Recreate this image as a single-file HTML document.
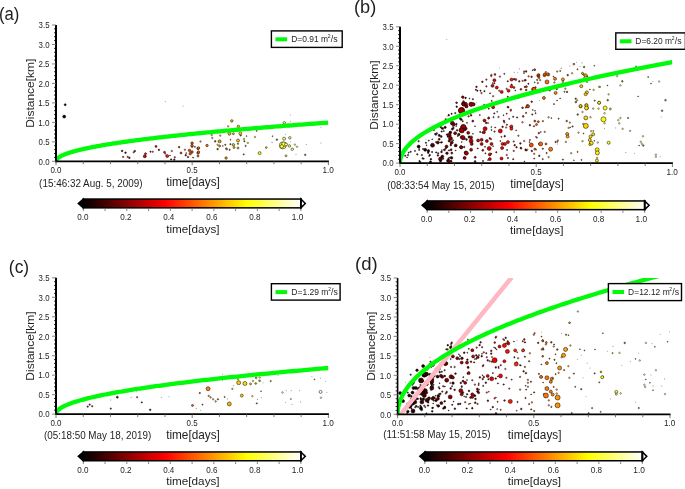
<!DOCTYPE html>
<html><head><meta charset="utf-8"><style>html,body{margin:0;padding:0;background:#fff;width:685px;height:489px;overflow:hidden}svg{display:block}text{font-family:"Liberation Sans",sans-serif}svg{will-change:transform}</style></head>
<body><svg width="685" height="489" viewBox="0 0 685 489"><defs><linearGradient id="hot" x1="0" x2="1" y1="0" y2="0"><stop offset="0" stop-color="#000"/><stop offset="0.375" stop-color="#f00"/><stop offset="0.75" stop-color="#ff0"/><stop offset="1" stop-color="#fff"/></linearGradient><clipPath id="clipa"><rect x="56" y="25.00" width="272.4" height="136.3"/></clipPath><clipPath id="clipb"><rect x="400" y="26.80" width="272.4" height="136.3"/></clipPath><clipPath id="clipc"><rect x="56" y="277.80" width="272.4" height="136.3"/></clipPath><clipPath id="clipd"><rect x="397.6" y="278.00" width="272.4" height="136.3"/></clipPath></defs><rect width="685" height="489" fill="#fff"/>
<text transform="translate(-1.00,20.12) scale(0.1673,0.1798)" font-size="100" fill="#1e1e1e">(a)</text>
<g clip-path="url(#clipa)">
<circle cx="122.1" cy="150.9" r="0.85" fill="#5a0000" stroke="#000" stroke-width="0.4"/>
<circle cx="179.1" cy="147.1" r="0.85" fill="#8c1c00" stroke="#000" stroke-width="0.4"/>
<circle cx="188.0" cy="157.0" r="0.85" fill="#8c2800" stroke="#000" stroke-width="0.4"/>
<circle cx="150.5" cy="151.7" r="0.7" fill="#810000" stroke="#000" stroke-width="0.4"/>
<circle cx="194.9" cy="146.8" r="0.6" fill="#8c3200" stroke="#000" stroke-width="0.4"/>
<circle cx="174.8" cy="157.3" r="0.7" fill="#8c1700" stroke="#000" stroke-width="0.4"/>
<circle cx="185.7" cy="155.2" r="0.85" fill="#8c2500" stroke="#000" stroke-width="0.4"/>
<circle cx="171.2" cy="159.5" r="0.6" fill="#8c1200" stroke="#000" stroke-width="0.4"/>
<circle cx="158.9" cy="149.8" r="0.85" fill="#8c0100" stroke="#000" stroke-width="0.4"/>
<circle cx="171.0" cy="159.3" r="0.5" fill="#8c1100" stroke="#000" stroke-width="0.4"/>
<circle cx="125.5" cy="152.7" r="0.85" fill="#5f0000" stroke="#000" stroke-width="0.4"/>
<circle cx="170.0" cy="155.6" r="0.5" fill="#8c1000" stroke="#000" stroke-width="0.4"/>
<circle cx="174.3" cy="159.6" r="0.85" fill="#8c1600" stroke="#000" stroke-width="0.4"/>
<circle cx="134.8" cy="151.0" r="0.85" fill="#6c0000" stroke="#000" stroke-width="0.4"/>
<circle cx="193.1" cy="157.6" r="0.6" fill="#8c2f00" stroke="#000" stroke-width="0.4"/>
<circle cx="186.2" cy="153.1" r="0.5" fill="#8c2600" stroke="#000" stroke-width="0.4"/>
<circle cx="165.2" cy="153.8" r="0.5" fill="#8c0900" stroke="#000" stroke-width="0.4"/>
<circle cx="129.4" cy="157.8" r="0.85" fill="#640000" stroke="#000" stroke-width="0.4"/>
<circle cx="244.4" cy="141.2" r="0.7" fill="#8c7600" stroke="#000" stroke-width="0.4"/>
<circle cx="240.7" cy="135.5" r="0.7" fill="#8c7100" stroke="#000" stroke-width="0.4"/>
<circle cx="225.3" cy="144.8" r="0.7" fill="#8c5c00" stroke="#000" stroke-width="0.4"/>
<circle cx="226.4" cy="148.6" r="0.85" fill="#8c5d00" stroke="#000" stroke-width="0.4"/>
<circle cx="245.6" cy="145.9" r="0.7" fill="#8c7700" stroke="#000" stroke-width="0.4"/>
<circle cx="230.4" cy="144.2" r="0.7" fill="#8c6300" stroke="#000" stroke-width="0.4"/>
<circle cx="222.8" cy="145.9" r="0.5" fill="#8c5800" stroke="#000" stroke-width="0.4"/>
<circle cx="217.6" cy="149.1" r="0.85" fill="#8c5100" stroke="#000" stroke-width="0.4"/>
<circle cx="215.2" cy="141.3" r="0.85" fill="#8c4e00" stroke="#000" stroke-width="0.4"/>
<circle cx="230.5" cy="139.8" r="0.5" fill="#8c6300" stroke="#000" stroke-width="0.4"/>
<circle cx="246.6" cy="136.1" r="0.5" fill="#8c7900" stroke="#000" stroke-width="0.4"/>
<circle cx="238.0" cy="143.8" r="0.7" fill="#8c6d00" stroke="#000" stroke-width="0.4"/>
<circle cx="229.6" cy="149.8" r="0.7" fill="#8c6100" stroke="#000" stroke-width="0.4"/>
<circle cx="243.7" cy="154.4" r="0.7" fill="#8c7500" stroke="#000" stroke-width="0.4"/>
<circle cx="276.9" cy="139.6" r="0.85" fill="#8c8c22" stroke="#000" stroke-width="0.4"/>
<circle cx="305.2" cy="154.8" r="0.85" fill="#8c8c5c" stroke="#000" stroke-width="0.4"/>
<circle cx="256.6" cy="130.9" r="0.6" fill="#8c8700" stroke="#000" stroke-width="0.4"/>
<circle cx="272.5" cy="136.2" r="0.5" fill="#8c8c19" stroke="#000" stroke-width="0.4"/>
<circle cx="65.2" cy="104.7" r="1.00" fill="#170000" stroke="#000" stroke-width="0.5"/>
<circle cx="64.2" cy="116.6" r="1.50" fill="#140000" stroke="#000" stroke-width="0.5"/>
<circle cx="165.3" cy="101.6" r="0.55" fill="#555" opacity="0.6"/>
<circle cx="183" cy="106" r="0.55" fill="#555" opacity="0.6"/>
<circle cx="123.1" cy="156.9" r="0.8" fill="#a80000" stroke="#000" stroke-width="0.45" opacity="0.85"/>
<circle cx="127.7" cy="156.9" r="0.8" fill="#b30000" stroke="#000" stroke-width="0.45" opacity="0.85"/>
<circle cx="133.7" cy="152.3" r="0.8" fill="#c20000" stroke="#000" stroke-width="0.45" opacity="0.85"/>
<circle cx="144.8" cy="156.3" r="1.50" fill="#de0000" stroke="#000" stroke-width="0.5"/>
<circle cx="145.5" cy="153.7" r="1.00" fill="#df0000" stroke="#000" stroke-width="0.5"/>
<circle cx="152.7" cy="151.7" r="0.8" fill="#f10000" stroke="#000" stroke-width="0.45" opacity="0.85"/>
<circle cx="156" cy="146.4" r="1.00" fill="#fa0000" stroke="#000" stroke-width="0.5"/>
<circle cx="164.5" cy="152.3" r="1.00" fill="#ff1000" stroke="#000" stroke-width="0.5"/>
<circle cx="167.2" cy="156" r="1.50" fill="#ff1700" stroke="#000" stroke-width="0.5"/>
<circle cx="171.8" cy="151" r="0.8" fill="#ff2200" stroke="#000" stroke-width="0.45" opacity="0.85"/>
<circle cx="181" cy="153" r="1.00" fill="#ff3900" stroke="#000" stroke-width="0.5"/>
<circle cx="184.9" cy="149.7" r="0.8" fill="#ff4300" stroke="#000" stroke-width="0.45" opacity="0.85"/>
<circle cx="189.5" cy="150.4" r="1.25" fill="#ff4e00" stroke="#000" stroke-width="0.5"/>
<circle cx="190.2" cy="153.7" r="1.25" fill="#ff5000" stroke="#000" stroke-width="0.5"/>
<circle cx="192.1" cy="143.1" r="1.25" fill="#ff5500" stroke="#000" stroke-width="0.5"/>
<circle cx="192.1" cy="146.4" r="1.00" fill="#ff5500" stroke="#000" stroke-width="0.5"/>
<circle cx="198" cy="148.4" r="1.25" fill="#ff6300" stroke="#000" stroke-width="0.5"/>
<circle cx="198" cy="153" r="1.25" fill="#ff6300" stroke="#000" stroke-width="0.5"/>
<circle cx="192" cy="145.5" r="1.25" fill="#ff5500" stroke="#000" stroke-width="0.5"/>
<circle cx="192" cy="152" r="1.25" fill="#ff5500" stroke="#000" stroke-width="0.5"/>
<circle cx="198.5" cy="148" r="1.25" fill="#ff6500" stroke="#000" stroke-width="0.5"/>
<circle cx="198.5" cy="152" r="1.25" fill="#ff6500" stroke="#000" stroke-width="0.5"/>
<circle cx="198" cy="156" r="1.00" fill="#ff6300" stroke="#000" stroke-width="0.5"/>
<circle cx="200.5" cy="141.5" r="0.8" fill="#ff6a00" stroke="#000" stroke-width="0.45" opacity="0.85"/>
<circle cx="207" cy="145.5" r="1.25" fill="#ff7a00" stroke="#000" stroke-width="0.5"/>
<circle cx="211.7" cy="135" r="0.8" fill="#ff8600" stroke="#000" stroke-width="0.45" opacity="0.85"/>
<circle cx="212.3" cy="138" r="0.8" fill="#ff8700" stroke="#000" stroke-width="0.45" opacity="0.85"/>
<circle cx="219.6" cy="141.3" r="1.50" fill="#ff9900" stroke="#000" stroke-width="0.5"/>
<circle cx="219.6" cy="146" r="1.00" fill="#ff9900" stroke="#000" stroke-width="0.5"/>
<circle cx="217.6" cy="144.8" r="0.8" fill="#ff9400" stroke="#000" stroke-width="0.45" opacity="0.85"/>
<circle cx="220.2" cy="135.6" r="0.8" fill="#ff9b00" stroke="#000" stroke-width="0.45" opacity="0.85"/>
<circle cx="226.1" cy="158" r="1.25" fill="#ffaa00" stroke="#000" stroke-width="0.5"/>
<circle cx="226.8" cy="149.4" r="0.8" fill="#ffab00" stroke="#000" stroke-width="0.45" opacity="0.85"/>
<circle cx="228.1" cy="126.4" r="0.8" fill="#ffaf00" stroke="#000" stroke-width="0.45" opacity="0.85"/>
<circle cx="229.4" cy="133.7" r="1.50" fill="#ffb200" stroke="#000" stroke-width="0.5"/>
<circle cx="231.8" cy="120.9" r="1.25" fill="#ffb800" stroke="#000" stroke-width="0.5"/>
<circle cx="233.4" cy="133.7" r="1.00" fill="#ffbc00" stroke="#000" stroke-width="0.5"/>
<circle cx="233.4" cy="144.8" r="1.25" fill="#ffbc00" stroke="#000" stroke-width="0.5"/>
<circle cx="234" cy="147.5" r="1.00" fill="#ffbd00" stroke="#000" stroke-width="0.5"/>
<circle cx="238" cy="140.5" r="1.50" fill="#ffc700" stroke="#000" stroke-width="0.5"/>
<circle cx="238.4" cy="126.4" r="1.25" fill="#ffc800" stroke="#000" stroke-width="0.5"/>
<circle cx="240.3" cy="133.4" r="1.50" fill="#ffcd00" stroke="#000" stroke-width="0.5"/>
<circle cx="238" cy="148" r="1.00" fill="#ffc700" stroke="#000" stroke-width="0.5"/>
<circle cx="243.9" cy="139" r="0.8" fill="#ffd600" stroke="#000" stroke-width="0.45" opacity="0.85"/>
<circle cx="247.8" cy="142.9" r="0.8" fill="#ffe000" stroke="#000" stroke-width="0.45" opacity="0.85"/>
<circle cx="255" cy="137" r="0.8" fill="#fff200" stroke="#000" stroke-width="0.45" opacity="0.85"/>
<circle cx="259.6" cy="153.1" r="1.50" fill="#fffd00" stroke="#000" stroke-width="0.5"/>
<circle cx="266.2" cy="147.5" r="0.8" fill="#ffff16" stroke="#000" stroke-width="0.45" opacity="0.85"/>
<circle cx="272.1" cy="142.2" r="0.55" fill="#555" opacity="0.6"/>
<circle cx="284.3" cy="122.8" r="1.25" fill="#ffff5a" stroke="#000" stroke-width="0.5"/>
<circle cx="290.4" cy="115" r="0.55" fill="#555" opacity="0.6"/>
<circle cx="290.4" cy="121.3" r="0.55" fill="#555" opacity="0.6"/>
<circle cx="285.4" cy="134.2" r="0.55" fill="#555" opacity="0.6"/>
<circle cx="284.1" cy="138.7" r="1.50" fill="#ffff59" stroke="#000" stroke-width="0.5"/>
<circle cx="289.8" cy="137.8" r="1.25" fill="#ffff6e" stroke="#000" stroke-width="0.5"/>
<circle cx="282.8" cy="145.4" r="3.50" fill="#ffff54" stroke="#000" stroke-width="0.5"/>
<circle cx="283.8" cy="144.2" r="2.25" fill="#ffff58" stroke="#000" stroke-width="0.5"/>
<circle cx="281.8" cy="146.4" r="1.75" fill="#ffff51" stroke="#000" stroke-width="0.5"/>
<circle cx="286" cy="144.4" r="1.50" fill="#ffff60" stroke="#000" stroke-width="0.5"/>
<circle cx="289.4" cy="145.9" r="1.25" fill="#ffff6d" stroke="#000" stroke-width="0.5"/>
<circle cx="292.3" cy="149.2" r="1.25" fill="#ffff78" stroke="#000" stroke-width="0.5"/>
<circle cx="290.4" cy="141.8" r="0.55" fill="#555" opacity="0.6"/>
<circle cx="294.9" cy="144.6" r="0.8" fill="#ffff82" stroke="#000" stroke-width="0.45" opacity="0.85"/>
<circle cx="297" cy="146.7" r="0.8" fill="#ffff89" stroke="#000" stroke-width="0.45" opacity="0.85"/>
<circle cx="286" cy="155.8" r="1.00" fill="#ffff60" stroke="#000" stroke-width="0.5"/>
<circle cx="266.3" cy="147.6" r="0.8" fill="#ffff16" stroke="#000" stroke-width="0.45" opacity="0.85"/>
<circle cx="272" cy="142.2" r="0.55" fill="#555" opacity="0.6"/>
<circle cx="306.3" cy="144.4" r="0.55" fill="#555" opacity="0.6"/>
<circle cx="320.9" cy="143.1" r="0.55" fill="#555" opacity="0.6"/>
<circle cx="320.9" cy="127.3" r="0.55" fill="#555" opacity="0.6"/>
<circle cx="296" cy="154.5" r="0.55" fill="#555" opacity="0.6"/>
<polyline points="56.00,161.30 56.01,161.11 56.03,160.91 56.06,160.72 56.11,160.53 56.17,160.33 56.25,160.14 56.33,159.95 56.44,159.75 56.55,159.56 56.68,159.36 56.82,159.17 56.98,158.98 57.15,158.78 57.33,158.59 57.53,158.40 57.74,158.20 57.97,158.01 58.21,157.82 58.46,157.62 58.72,157.43 59.00,157.24 59.30,157.04 59.60,156.85 59.92,156.65 60.26,156.46 60.60,156.27 60.96,156.07 61.34,155.88 61.73,155.69 62.13,155.49 62.54,155.30 62.97,155.11 63.42,154.91 63.87,154.72 64.34,154.53 64.83,154.33 65.32,154.14 65.83,153.95 66.36,153.75 66.90,153.56 67.45,153.36 68.01,153.17 68.59,152.98 69.18,152.78 69.79,152.59 70.41,152.40 71.04,152.20 71.69,152.01 72.35,151.82 73.03,151.62 73.71,151.43 74.41,151.24 75.13,151.04 75.86,150.85 76.60,150.66 77.36,150.46 78.13,150.27 78.91,150.07 79.71,149.88 80.52,149.69 81.34,149.49 82.18,149.30 83.03,149.11 83.89,148.91 84.77,148.72 85.66,148.53 86.57,148.33 87.49,148.14 88.42,147.95 89.37,147.75 90.33,147.56 91.30,147.36 92.29,147.17 93.29,146.98 94.31,146.78 95.33,146.59 96.38,146.40 97.43,146.20 98.50,146.01 99.58,145.82 100.68,145.62 101.79,145.43 102.91,145.24 104.05,145.04 105.20,144.85 106.37,144.66 107.54,144.46 108.74,144.27 109.94,144.07 111.16,143.88 112.39,143.69 113.64,143.49 114.90,143.30 116.17,143.11 117.46,142.91 118.76,142.72 120.08,142.53 121.40,142.33 122.74,142.14 124.10,141.95 125.47,141.75 126.85,141.56 128.25,141.36 129.66,141.17 131.08,140.98 132.52,140.78 133.97,140.59 135.43,140.40 136.91,140.20 138.40,140.01 139.91,139.82 141.42,139.62 142.96,139.43 144.50,139.24 146.06,139.04 147.64,138.85 149.22,138.66 150.82,138.46 152.44,138.27 154.06,138.07 155.71,137.88 157.36,137.69 159.03,137.49 160.71,137.30 162.41,137.11 164.12,136.91 165.84,136.72 167.58,136.53 169.33,136.33 171.09,136.14 172.87,135.95 174.66,135.75 176.46,135.56 178.28,135.37 180.11,135.17 181.96,134.98 183.82,134.78 185.69,134.59 187.58,134.40 189.48,134.20 191.39,134.01 193.32,133.82 195.26,133.62 197.21,133.43 199.18,133.24 201.16,133.04 203.16,132.85 205.17,132.66 207.19,132.46 209.22,132.27 211.27,132.07 213.34,131.88 215.42,131.69 217.51,131.49 219.61,131.30 221.73,131.11 223.86,130.91 226.00,130.72 228.16,130.53 230.34,130.33 232.52,130.14 234.72,129.95 236.93,129.75 239.16,129.56 241.40,129.37 243.66,129.17 245.92,128.98 248.21,128.78 250.50,128.59 252.81,128.40 255.13,128.20 257.47,128.01 259.82,127.82 262.18,127.62 264.56,127.43 266.95,127.24 269.35,127.04 271.77,126.85 274.20,126.66 276.64,126.46 279.10,126.27 281.57,126.07 284.06,125.88 286.56,125.69 289.07,125.49 291.60,125.30 294.14,125.11 296.69,124.91 299.26,124.72 301.84,124.53 304.44,124.33 307.04,124.14 309.67,123.95 312.30,123.75 314.95,123.56 317.61,123.37 320.29,123.17 322.98,122.98 325.68,122.78 328.40,122.59" fill="none" stroke="#00fa0a" stroke-width="4.3"/>
</g>
<line x1="56" y1="25.00" x2="56" y2="162.30" stroke="#000" stroke-width="2"/>
<line x1="55" y1="161.3" x2="329.00" y2="161.3" stroke="#000" stroke-width="1.8"/>
<line x1="52" y1="161.30" x2="56" y2="161.30" stroke="#666" stroke-width="0.8"/>
<line x1="54" y1="157.41" x2="56" y2="157.41" stroke="#000" stroke-width="0.8"/>
<line x1="54" y1="153.51" x2="56" y2="153.51" stroke="#000" stroke-width="0.8"/>
<line x1="54" y1="149.62" x2="56" y2="149.62" stroke="#000" stroke-width="0.8"/>
<line x1="54" y1="145.72" x2="56" y2="145.72" stroke="#000" stroke-width="0.8"/>
<line x1="52" y1="141.83" x2="56" y2="141.83" stroke="#666" stroke-width="0.8"/>
<line x1="54" y1="137.93" x2="56" y2="137.93" stroke="#000" stroke-width="0.8"/>
<line x1="54" y1="134.04" x2="56" y2="134.04" stroke="#000" stroke-width="0.8"/>
<line x1="54" y1="130.15" x2="56" y2="130.15" stroke="#000" stroke-width="0.8"/>
<line x1="54" y1="126.25" x2="56" y2="126.25" stroke="#000" stroke-width="0.8"/>
<line x1="52" y1="122.36" x2="56" y2="122.36" stroke="#666" stroke-width="0.8"/>
<line x1="54" y1="118.46" x2="56" y2="118.46" stroke="#000" stroke-width="0.8"/>
<line x1="54" y1="114.57" x2="56" y2="114.57" stroke="#000" stroke-width="0.8"/>
<line x1="54" y1="110.67" x2="56" y2="110.67" stroke="#000" stroke-width="0.8"/>
<line x1="54" y1="106.78" x2="56" y2="106.78" stroke="#000" stroke-width="0.8"/>
<line x1="52" y1="102.89" x2="56" y2="102.89" stroke="#666" stroke-width="0.8"/>
<line x1="54" y1="98.99" x2="56" y2="98.99" stroke="#000" stroke-width="0.8"/>
<line x1="54" y1="95.10" x2="56" y2="95.10" stroke="#000" stroke-width="0.8"/>
<line x1="54" y1="91.20" x2="56" y2="91.20" stroke="#000" stroke-width="0.8"/>
<line x1="54" y1="87.31" x2="56" y2="87.31" stroke="#000" stroke-width="0.8"/>
<line x1="52" y1="83.41" x2="56" y2="83.41" stroke="#666" stroke-width="0.8"/>
<line x1="54" y1="79.52" x2="56" y2="79.52" stroke="#000" stroke-width="0.8"/>
<line x1="54" y1="75.63" x2="56" y2="75.63" stroke="#000" stroke-width="0.8"/>
<line x1="54" y1="71.73" x2="56" y2="71.73" stroke="#000" stroke-width="0.8"/>
<line x1="54" y1="67.84" x2="56" y2="67.84" stroke="#000" stroke-width="0.8"/>
<line x1="52" y1="63.94" x2="56" y2="63.94" stroke="#666" stroke-width="0.8"/>
<line x1="54" y1="60.05" x2="56" y2="60.05" stroke="#000" stroke-width="0.8"/>
<line x1="54" y1="56.15" x2="56" y2="56.15" stroke="#000" stroke-width="0.8"/>
<line x1="54" y1="52.26" x2="56" y2="52.26" stroke="#000" stroke-width="0.8"/>
<line x1="54" y1="48.37" x2="56" y2="48.37" stroke="#000" stroke-width="0.8"/>
<line x1="52" y1="44.47" x2="56" y2="44.47" stroke="#666" stroke-width="0.8"/>
<line x1="54" y1="40.58" x2="56" y2="40.58" stroke="#000" stroke-width="0.8"/>
<line x1="54" y1="36.68" x2="56" y2="36.68" stroke="#000" stroke-width="0.8"/>
<line x1="54" y1="32.79" x2="56" y2="32.79" stroke="#000" stroke-width="0.8"/>
<line x1="54" y1="28.89" x2="56" y2="28.89" stroke="#000" stroke-width="0.8"/>
<line x1="52" y1="25.00" x2="56" y2="25.00" stroke="#666" stroke-width="0.8"/>
<line x1="56.00" y1="161.3" x2="56.00" y2="165.20" stroke="#555" stroke-width="0.8"/>
<line x1="83.24" y1="161.3" x2="83.24" y2="164.20" stroke="#555" stroke-width="0.8"/>
<line x1="110.48" y1="161.3" x2="110.48" y2="164.20" stroke="#555" stroke-width="0.8"/>
<line x1="137.72" y1="161.3" x2="137.72" y2="164.20" stroke="#555" stroke-width="0.8"/>
<line x1="164.96" y1="161.3" x2="164.96" y2="164.20" stroke="#555" stroke-width="0.8"/>
<line x1="192.20" y1="161.3" x2="192.20" y2="165.20" stroke="#555" stroke-width="0.8"/>
<line x1="219.44" y1="161.3" x2="219.44" y2="164.20" stroke="#555" stroke-width="0.8"/>
<line x1="246.68" y1="161.3" x2="246.68" y2="164.20" stroke="#555" stroke-width="0.8"/>
<line x1="273.92" y1="161.3" x2="273.92" y2="164.20" stroke="#555" stroke-width="0.8"/>
<line x1="301.16" y1="161.3" x2="301.16" y2="164.20" stroke="#555" stroke-width="0.8"/>
<line x1="328.40" y1="161.3" x2="328.40" y2="165.20" stroke="#555" stroke-width="0.8"/>
<text transform="translate(38.59,164.60) scale(0.0786,0.0958)" font-size="100" fill="#1e1e1e">0.0</text>
<text transform="translate(38.59,145.13) scale(0.0786,0.0958)" font-size="100" fill="#1e1e1e">0.5</text>
<text transform="translate(38.25,125.66) scale(0.0811,0.0958)" font-size="100" fill="#1e1e1e">1.0</text>
<text transform="translate(38.25,106.19) scale(0.0811,0.0971)" font-size="100" fill="#1e1e1e">1.5</text>
<text transform="translate(38.50,86.72) scale(0.0792,0.0958)" font-size="100" fill="#1e1e1e">2.0</text>
<text transform="translate(38.50,67.25) scale(0.0792,0.0958)" font-size="100" fill="#1e1e1e">2.5</text>
<text transform="translate(38.59,47.78) scale(0.0786,0.0958)" font-size="100" fill="#1e1e1e">3.0</text>
<text transform="translate(38.59,28.30) scale(0.0786,0.0958)" font-size="100" fill="#1e1e1e">3.5</text>
<text transform="translate(50.38,172.81) scale(0.0794,0.0901)" font-size="100" fill="#1e1e1e">0.0</text>
<text transform="translate(186.58,172.81) scale(0.0794,0.0901)" font-size="100" fill="#1e1e1e">0.5</text>
<text transform="translate(322.44,172.81) scale(0.0819,0.0901)" font-size="100" fill="#1e1e1e">1.0</text>
<text transform="translate(166.16,186.00) scale(0.1179,0.1191)" font-size="100" fill="#1e1e1e">time[days]</text>
<text transform="translate(39.11,186.80) scale(0.0991,0.1000)" font-size="100" fill="#1e1e1e">(15:46:32 Aug. 5, 2009)</text>
<text transform="translate(33.66,127.86) rotate(-90) scale(0.1199,0.1160)" font-size="100" fill="#1e1e1e">Distance[km]</text>
<rect x="271.40" y="30.90" width="70.80" height="16.50" fill="#fff" stroke="#000" stroke-width="1.4"/>
<rect x="275.50" y="37.30" width="11.6" height="4" fill="#00fa0a"/>
<text transform="translate(291.23,41.91) scale(0.0844,0.0901)" font-size="100" fill="#1e1e1e">D=0.91 m</text>
<text transform="translate(327.75,37.90) scale(0.0500,0.0500)" font-size="100" fill="#1e1e1e">2</text>
<text transform="translate(330.70,42.31) scale(0.0878,0.0878)" font-size="100" fill="#1e1e1e">/s</text>
<rect x="83.3" y="199.05" width="217.60" height="8.80" fill="url(#hot)" stroke="#000" stroke-width="1.5"/>
<path d="M83.3,199.05 L78.30,203.45 L83.3,207.85 Z" fill="#000" stroke="#000" stroke-width="1.5" stroke-linejoin="miter"/>
<path d="M300.9,199.05 L305.30,203.45 L300.9,207.85 Z" fill="#fff" stroke="#000" stroke-width="1.5"/>
<line x1="300.9" y1="198.3" x2="300.9" y2="208.6" stroke="#000" stroke-width="1.8"/>
<line x1="83.30" y1="208.6" x2="83.30" y2="211.10" stroke="#666" stroke-width="0.8"/>
<line x1="105.06" y1="208.6" x2="105.06" y2="211.10" stroke="#666" stroke-width="0.8"/>
<line x1="126.82" y1="208.6" x2="126.82" y2="211.10" stroke="#666" stroke-width="0.8"/>
<line x1="148.58" y1="208.6" x2="148.58" y2="211.10" stroke="#666" stroke-width="0.8"/>
<line x1="170.34" y1="208.6" x2="170.34" y2="211.10" stroke="#666" stroke-width="0.8"/>
<line x1="192.10" y1="208.6" x2="192.10" y2="211.10" stroke="#666" stroke-width="0.8"/>
<line x1="213.86" y1="208.6" x2="213.86" y2="211.10" stroke="#666" stroke-width="0.8"/>
<line x1="235.62" y1="208.6" x2="235.62" y2="211.10" stroke="#666" stroke-width="0.8"/>
<line x1="257.38" y1="208.6" x2="257.38" y2="211.10" stroke="#666" stroke-width="0.8"/>
<line x1="279.14" y1="208.6" x2="279.14" y2="211.10" stroke="#666" stroke-width="0.8"/>
<line x1="300.90" y1="208.6" x2="300.90" y2="211.10" stroke="#666" stroke-width="0.8"/>
<text transform="translate(77.18,219.71) scale(0.0809,0.0887)" font-size="100" fill="#1e1e1e">0.0</text>
<text transform="translate(120.17,219.71) scale(0.0815,0.0887)" font-size="100" fill="#1e1e1e">0.2</text>
<text transform="translate(163.17,219.71) scale(0.0803,0.0887)" font-size="100" fill="#1e1e1e">0.4</text>
<text transform="translate(206.17,219.71) scale(0.0809,0.0887)" font-size="100" fill="#1e1e1e">0.6</text>
<text transform="translate(249.17,219.71) scale(0.0809,0.0887)" font-size="100" fill="#1e1e1e">0.8</text>
<text transform="translate(291.82,219.71) scale(0.0835,0.0887)" font-size="100" fill="#1e1e1e">1.0</text>
<text transform="translate(166.17,232.59) scale(0.1174,0.1053)" font-size="100" fill="#1e1e1e">time[days]</text>
<text transform="translate(354.01,13.10) scale(0.1818,0.1809)" font-size="100" fill="#1e1e1e">(b)</text>
<g clip-path="url(#clipb)">
<circle cx="436.0" cy="142.1" r="0.6" fill="#310000" stroke="#000" stroke-width="0.4"/>
<circle cx="425.9" cy="142.8" r="0.7" fill="#230000" stroke="#000" stroke-width="0.4"/>
<circle cx="436.2" cy="152.4" r="0.7" fill="#310000" stroke="#000" stroke-width="0.4"/>
<circle cx="430.9" cy="159.2" r="0.85" fill="#2a0000" stroke="#000" stroke-width="0.4"/>
<circle cx="437.9" cy="155.4" r="0.85" fill="#340000" stroke="#000" stroke-width="0.4"/>
<circle cx="426.6" cy="145.2" r="0.5" fill="#240000" stroke="#000" stroke-width="0.4"/>
<circle cx="438.2" cy="153.3" r="0.7" fill="#340000" stroke="#000" stroke-width="0.4"/>
<circle cx="407.1" cy="157.5" r="0.5" fill="#090000" stroke="#000" stroke-width="0.4"/>
<circle cx="432.1" cy="152.0" r="0.7" fill="#2c0000" stroke="#000" stroke-width="0.4"/>
<circle cx="432.2" cy="139.3" r="0.5" fill="#2c0000" stroke="#000" stroke-width="0.4"/>
<circle cx="428.2" cy="152.7" r="0.85" fill="#270000" stroke="#000" stroke-width="0.4"/>
<circle cx="429.1" cy="156.0" r="0.5" fill="#280000" stroke="#000" stroke-width="0.4"/>
<circle cx="419.1" cy="150.1" r="0.5" fill="#1a0000" stroke="#000" stroke-width="0.4"/>
<circle cx="423.0" cy="149.0" r="0.7" fill="#1f0000" stroke="#000" stroke-width="0.4"/>
<circle cx="419.4" cy="160.9" r="0.6" fill="#1a0000" stroke="#000" stroke-width="0.4"/>
<circle cx="419.2" cy="149.0" r="0.6" fill="#1a0000" stroke="#000" stroke-width="0.4"/>
<circle cx="428.8" cy="140.6" r="0.6" fill="#270000" stroke="#000" stroke-width="0.4"/>
<circle cx="429.7" cy="155.1" r="0.85" fill="#280000" stroke="#000" stroke-width="0.4"/>
<circle cx="420.0" cy="161.9" r="0.85" fill="#1b0000" stroke="#000" stroke-width="0.4"/>
<circle cx="418.8" cy="146.6" r="0.85" fill="#190000" stroke="#000" stroke-width="0.4"/>
<circle cx="436.9" cy="133.3" r="0.7" fill="#320000" stroke="#000" stroke-width="0.4"/>
<circle cx="408.7" cy="152.7" r="0.6" fill="#0c0000" stroke="#000" stroke-width="0.4"/>
<circle cx="435.9" cy="134.5" r="0.85" fill="#310000" stroke="#000" stroke-width="0.4"/>
<circle cx="423.7" cy="158.7" r="0.6" fill="#200000" stroke="#000" stroke-width="0.4"/>
<circle cx="415.0" cy="150.9" r="0.6" fill="#140000" stroke="#000" stroke-width="0.4"/>
<circle cx="448.5" cy="158.9" r="0.9" fill="#420000" stroke="#000" stroke-width="0.4"/>
<circle cx="441.5" cy="151.9" r="0.9" fill="#390000" stroke="#000" stroke-width="0.4"/>
<circle cx="447.8" cy="160.7" r="1.3" fill="#410000" stroke="#000" stroke-width="0.4"/>
<circle cx="451.6" cy="157.9" r="1.3" fill="#460000" stroke="#000" stroke-width="0.4"/>
<circle cx="458.8" cy="134.5" r="1.3" fill="#500000" stroke="#000" stroke-width="0.4"/>
<circle cx="430.5" cy="161.8" r="1.1" fill="#290000" stroke="#000" stroke-width="0.4"/>
<circle cx="466.5" cy="139.5" r="0.9" fill="#5b0000" stroke="#000" stroke-width="0.4"/>
<circle cx="445.2" cy="127.4" r="1.1" fill="#3e0000" stroke="#000" stroke-width="0.4"/>
<circle cx="461.7" cy="130.1" r="1.3" fill="#540000" stroke="#000" stroke-width="0.4"/>
<circle cx="428.4" cy="150.9" r="1.3" fill="#270000" stroke="#000" stroke-width="0.4"/>
<circle cx="442.7" cy="128.5" r="1.1" fill="#3a0000" stroke="#000" stroke-width="0.4"/>
<circle cx="450.8" cy="145.0" r="0.9" fill="#450000" stroke="#000" stroke-width="0.4"/>
<circle cx="442.3" cy="156.5" r="1.5" fill="#3a0000" stroke="#000" stroke-width="0.4"/>
<circle cx="452.3" cy="129.1" r="1.1" fill="#470000" stroke="#000" stroke-width="0.4"/>
<circle cx="455.7" cy="145.4" r="1.5" fill="#4c0000" stroke="#000" stroke-width="0.4"/>
<circle cx="450.4" cy="132.4" r="1.3" fill="#450000" stroke="#000" stroke-width="0.4"/>
<circle cx="460.2" cy="118.5" r="0.9" fill="#520000" stroke="#000" stroke-width="0.4"/>
<circle cx="450.2" cy="132.5" r="1.1" fill="#440000" stroke="#000" stroke-width="0.4"/>
<circle cx="450.1" cy="120.0" r="1.5" fill="#440000" stroke="#000" stroke-width="0.4"/>
<circle cx="439.2" cy="135.4" r="1.1" fill="#350000" stroke="#000" stroke-width="0.4"/>
<circle cx="461.2" cy="119.5" r="1.1" fill="#540000" stroke="#000" stroke-width="0.4"/>
<circle cx="440.6" cy="126.9" r="0.9" fill="#370000" stroke="#000" stroke-width="0.4"/>
<circle cx="447.0" cy="153.2" r="1.3" fill="#400000" stroke="#000" stroke-width="0.4"/>
<circle cx="449.1" cy="141.0" r="1.1" fill="#430000" stroke="#000" stroke-width="0.4"/>
<circle cx="440.5" cy="161.0" r="1.1" fill="#370000" stroke="#000" stroke-width="0.4"/>
<circle cx="451.6" cy="113.8" r="0.7" fill="#460000" stroke="#000" stroke-width="0.4"/>
<circle cx="440.2" cy="142.5" r="0.5" fill="#370000" stroke="#000" stroke-width="0.4"/>
<circle cx="441.7" cy="128.2" r="0.6" fill="#390000" stroke="#000" stroke-width="0.4"/>
<circle cx="465.7" cy="97.8" r="0.7" fill="#5a0000" stroke="#000" stroke-width="0.4"/>
<circle cx="464.2" cy="147.0" r="0.85" fill="#580000" stroke="#000" stroke-width="0.4"/>
<circle cx="448.7" cy="115.2" r="0.85" fill="#430000" stroke="#000" stroke-width="0.4"/>
<circle cx="456.7" cy="106.7" r="0.85" fill="#4d0000" stroke="#000" stroke-width="0.4"/>
<circle cx="447.7" cy="136.7" r="0.6" fill="#410000" stroke="#000" stroke-width="0.4"/>
<circle cx="453.0" cy="126.9" r="0.5" fill="#480000" stroke="#000" stroke-width="0.4"/>
<circle cx="457.7" cy="136.0" r="0.6" fill="#4f0000" stroke="#000" stroke-width="0.4"/>
<circle cx="462.7" cy="121.2" r="0.7" fill="#560000" stroke="#000" stroke-width="0.4"/>
<circle cx="445.2" cy="127.2" r="0.7" fill="#3e0000" stroke="#000" stroke-width="0.4"/>
<circle cx="449.2" cy="157.4" r="0.5" fill="#430000" stroke="#000" stroke-width="0.4"/>
<circle cx="451.1" cy="143.0" r="0.85" fill="#460000" stroke="#000" stroke-width="0.4"/>
<circle cx="456.2" cy="126.1" r="0.5" fill="#4d0000" stroke="#000" stroke-width="0.4"/>
<circle cx="441.7" cy="131.5" r="0.7" fill="#390000" stroke="#000" stroke-width="0.4"/>
<circle cx="453.1" cy="140.3" r="0.6" fill="#490000" stroke="#000" stroke-width="0.4"/>
<circle cx="441.9" cy="150.1" r="0.5" fill="#390000" stroke="#000" stroke-width="0.4"/>
<circle cx="462.8" cy="139.4" r="0.6" fill="#560000" stroke="#000" stroke-width="0.4"/>
<circle cx="447.3" cy="121.5" r="0.7" fill="#400000" stroke="#000" stroke-width="0.4"/>
<circle cx="449.0" cy="150.4" r="0.7" fill="#430000" stroke="#000" stroke-width="0.4"/>
<circle cx="467.0" cy="122.8" r="0.6" fill="#5b0000" stroke="#000" stroke-width="0.4"/>
<circle cx="445.9" cy="148.4" r="0.6" fill="#3f0000" stroke="#000" stroke-width="0.4"/>
<circle cx="453.6" cy="128.0" r="0.7" fill="#490000" stroke="#000" stroke-width="0.4"/>
<circle cx="445.8" cy="119.4" r="0.85" fill="#3e0000" stroke="#000" stroke-width="0.4"/>
<circle cx="443.3" cy="158.7" r="0.6" fill="#3b0000" stroke="#000" stroke-width="0.4"/>
<circle cx="465.1" cy="129.9" r="0.85" fill="#590000" stroke="#000" stroke-width="0.4"/>
<circle cx="469.1" cy="136.6" r="0.85" fill="#5e0000" stroke="#000" stroke-width="0.4"/>
<circle cx="463.3" cy="137.0" r="0.6" fill="#560000" stroke="#000" stroke-width="0.4"/>
<circle cx="447.9" cy="161.4" r="0.5" fill="#420000" stroke="#000" stroke-width="0.4"/>
<circle cx="450.9" cy="157.4" r="0.6" fill="#450000" stroke="#000" stroke-width="0.4"/>
<circle cx="469.1" cy="137.4" r="0.85" fill="#5f0000" stroke="#000" stroke-width="0.4"/>
<circle cx="456.4" cy="124.1" r="0.85" fill="#4d0000" stroke="#000" stroke-width="0.4"/>
<circle cx="443.4" cy="124.0" r="0.6" fill="#3b0000" stroke="#000" stroke-width="0.4"/>
<circle cx="461.7" cy="142.0" r="0.5" fill="#540000" stroke="#000" stroke-width="0.4"/>
<circle cx="465.4" cy="98.2" r="0.5" fill="#590000" stroke="#000" stroke-width="0.4"/>
<circle cx="446.9" cy="134.5" r="0.7" fill="#400000" stroke="#000" stroke-width="0.4"/>
<circle cx="441.6" cy="142.3" r="0.85" fill="#390000" stroke="#000" stroke-width="0.4"/>
<circle cx="443.8" cy="131.0" r="0.6" fill="#3b0000" stroke="#000" stroke-width="0.4"/>
<circle cx="469.5" cy="98.5" r="0.5" fill="#5f0000" stroke="#000" stroke-width="0.4"/>
<circle cx="457.1" cy="130.3" r="0.85" fill="#4e0000" stroke="#000" stroke-width="0.4"/>
<circle cx="455.7" cy="150.5" r="0.5" fill="#4c0000" stroke="#000" stroke-width="0.4"/>
<circle cx="449.9" cy="134.6" r="0.7" fill="#440000" stroke="#000" stroke-width="0.4"/>
<circle cx="465.7" cy="128.9" r="0.5" fill="#5a0000" stroke="#000" stroke-width="0.4"/>
<circle cx="451.3" cy="161.2" r="0.85" fill="#460000" stroke="#000" stroke-width="0.4"/>
<circle cx="511.6" cy="84.6" r="0.7" fill="#8c0d00" stroke="#000" stroke-width="0.4"/>
<circle cx="491.5" cy="130.0" r="0.6" fill="#7d0000" stroke="#000" stroke-width="0.4"/>
<circle cx="535.6" cy="113.2" r="0.6" fill="#8c2d00" stroke="#000" stroke-width="0.4"/>
<circle cx="495.2" cy="127.5" r="0.6" fill="#820000" stroke="#000" stroke-width="0.4"/>
<circle cx="475.9" cy="89.8" r="0.7" fill="#670000" stroke="#000" stroke-width="0.4"/>
<circle cx="501.4" cy="136.8" r="0.6" fill="#8b0000" stroke="#000" stroke-width="0.4"/>
<circle cx="502.9" cy="147.9" r="0.6" fill="#8c0100" stroke="#000" stroke-width="0.4"/>
<circle cx="532.5" cy="70.2" r="0.5" fill="#8c2900" stroke="#000" stroke-width="0.4"/>
<circle cx="477.8" cy="148.4" r="0.6" fill="#6a0000" stroke="#000" stroke-width="0.4"/>
<circle cx="515.3" cy="90.6" r="0.5" fill="#8c1200" stroke="#000" stroke-width="0.4"/>
<circle cx="476.5" cy="86.8" r="0.85" fill="#690000" stroke="#000" stroke-width="0.4"/>
<circle cx="489.8" cy="138.3" r="0.85" fill="#7b0000" stroke="#000" stroke-width="0.4"/>
<circle cx="539.3" cy="155.8" r="0.85" fill="#8c3300" stroke="#000" stroke-width="0.4"/>
<circle cx="535.0" cy="110.8" r="0.5" fill="#8c2d00" stroke="#000" stroke-width="0.4"/>
<circle cx="500.4" cy="141.0" r="0.6" fill="#8a0000" stroke="#000" stroke-width="0.4"/>
<circle cx="477.4" cy="90.8" r="0.7" fill="#6a0000" stroke="#000" stroke-width="0.4"/>
<circle cx="524.4" cy="161.4" r="0.5" fill="#8c1e00" stroke="#000" stroke-width="0.4"/>
<circle cx="534.2" cy="158.6" r="0.6" fill="#8c2c00" stroke="#000" stroke-width="0.4"/>
<circle cx="491.7" cy="100.9" r="0.6" fill="#7d0000" stroke="#000" stroke-width="0.4"/>
<circle cx="521.1" cy="148.3" r="0.85" fill="#8c1900" stroke="#000" stroke-width="0.4"/>
<circle cx="506.7" cy="113.7" r="0.6" fill="#8c0600" stroke="#000" stroke-width="0.4"/>
<circle cx="531.8" cy="150.9" r="0.85" fill="#8c2800" stroke="#000" stroke-width="0.4"/>
<circle cx="514.7" cy="145.2" r="0.85" fill="#8c1100" stroke="#000" stroke-width="0.4"/>
<circle cx="482.4" cy="132.6" r="0.6" fill="#710000" stroke="#000" stroke-width="0.4"/>
<circle cx="524.9" cy="80.3" r="0.85" fill="#8c1f00" stroke="#000" stroke-width="0.4"/>
<circle cx="526.1" cy="71.4" r="0.85" fill="#8c2100" stroke="#000" stroke-width="0.4"/>
<circle cx="480.2" cy="132.0" r="0.7" fill="#6e0000" stroke="#000" stroke-width="0.4"/>
<circle cx="492.7" cy="83.1" r="0.5" fill="#7f0000" stroke="#000" stroke-width="0.4"/>
<circle cx="497.2" cy="111.8" r="0.5" fill="#850000" stroke="#000" stroke-width="0.4"/>
<circle cx="520.4" cy="143.4" r="0.85" fill="#8c1900" stroke="#000" stroke-width="0.4"/>
<circle cx="507.8" cy="81.3" r="0.7" fill="#8c0700" stroke="#000" stroke-width="0.4"/>
<circle cx="491.3" cy="127.0" r="0.5" fill="#7d0000" stroke="#000" stroke-width="0.4"/>
<circle cx="509.2" cy="118.8" r="0.6" fill="#8c0900" stroke="#000" stroke-width="0.4"/>
<circle cx="507.6" cy="107.0" r="0.7" fill="#8c0700" stroke="#000" stroke-width="0.4"/>
<circle cx="488.0" cy="160.1" r="0.5" fill="#790000" stroke="#000" stroke-width="0.4"/>
<circle cx="532.3" cy="114.5" r="0.7" fill="#8c2900" stroke="#000" stroke-width="0.4"/>
<circle cx="529.9" cy="139.9" r="0.6" fill="#8c2500" stroke="#000" stroke-width="0.4"/>
<circle cx="506.9" cy="124.7" r="0.7" fill="#8c0600" stroke="#000" stroke-width="0.4"/>
<circle cx="525.7" cy="80.1" r="0.7" fill="#8c2000" stroke="#000" stroke-width="0.4"/>
<circle cx="486.2" cy="122.9" r="0.85" fill="#760000" stroke="#000" stroke-width="0.4"/>
<circle cx="494.3" cy="83.3" r="0.7" fill="#810000" stroke="#000" stroke-width="0.4"/>
<circle cx="530.4" cy="145.6" r="0.7" fill="#8c2700" stroke="#000" stroke-width="0.4"/>
<circle cx="470.3" cy="113.6" r="0.7" fill="#600000" stroke="#000" stroke-width="0.4"/>
<circle cx="485.0" cy="146.8" r="0.6" fill="#740000" stroke="#000" stroke-width="0.4"/>
<circle cx="488.8" cy="108.7" r="0.6" fill="#7a0000" stroke="#000" stroke-width="0.4"/>
<circle cx="538.9" cy="133.1" r="0.85" fill="#8c3200" stroke="#000" stroke-width="0.4"/>
<circle cx="525.6" cy="149.7" r="0.85" fill="#8c1f00" stroke="#000" stroke-width="0.4"/>
<circle cx="472.9" cy="133.8" r="0.5" fill="#640000" stroke="#000" stroke-width="0.4"/>
<circle cx="513.2" cy="116.8" r="0.7" fill="#8c0f00" stroke="#000" stroke-width="0.4"/>
<circle cx="524.0" cy="73.0" r="0.6" fill="#8c1e00" stroke="#000" stroke-width="0.4"/>
<circle cx="516.3" cy="147.3" r="0.6" fill="#8c1300" stroke="#000" stroke-width="0.4"/>
<circle cx="471.1" cy="115.3" r="0.85" fill="#610000" stroke="#000" stroke-width="0.4"/>
<circle cx="537.2" cy="79.9" r="0.7" fill="#8c3000" stroke="#000" stroke-width="0.4"/>
<circle cx="475.0" cy="126.2" r="0.5" fill="#660000" stroke="#000" stroke-width="0.4"/>
<circle cx="501.6" cy="101.9" r="0.85" fill="#8b0000" stroke="#000" stroke-width="0.4"/>
<circle cx="532.8" cy="109.9" r="0.5" fill="#8c2a00" stroke="#000" stroke-width="0.4"/>
<circle cx="526.1" cy="150.3" r="0.85" fill="#8c2100" stroke="#000" stroke-width="0.4"/>
<circle cx="507.1" cy="149.9" r="0.6" fill="#8c0600" stroke="#000" stroke-width="0.4"/>
<circle cx="493.1" cy="146.2" r="0.5" fill="#800000" stroke="#000" stroke-width="0.4"/>
<circle cx="534.0" cy="126.3" r="0.7" fill="#8c2b00" stroke="#000" stroke-width="0.4"/>
<circle cx="518.4" cy="98.0" r="0.5" fill="#8c1600" stroke="#000" stroke-width="0.4"/>
<circle cx="531.7" cy="101.7" r="0.85" fill="#8c2800" stroke="#000" stroke-width="0.4"/>
<circle cx="519.3" cy="81.3" r="0.85" fill="#8c1700" stroke="#000" stroke-width="0.4"/>
<circle cx="480.5" cy="90.7" r="0.7" fill="#6e0000" stroke="#000" stroke-width="0.4"/>
<circle cx="507.8" cy="96.8" r="0.7" fill="#8c0700" stroke="#000" stroke-width="0.4"/>
<circle cx="514.1" cy="79.2" r="0.85" fill="#8c1000" stroke="#000" stroke-width="0.4"/>
<circle cx="494.3" cy="113.4" r="0.7" fill="#810000" stroke="#000" stroke-width="0.4"/>
<circle cx="479.8" cy="115.0" r="0.6" fill="#6d0000" stroke="#000" stroke-width="0.4"/>
<circle cx="502.6" cy="126.8" r="0.85" fill="#8c0000" stroke="#000" stroke-width="0.4"/>
<circle cx="472.9" cy="99.2" r="0.7" fill="#640000" stroke="#000" stroke-width="0.4"/>
<circle cx="525.0" cy="86.9" r="0.85" fill="#8c1f00" stroke="#000" stroke-width="0.4"/>
<circle cx="504.7" cy="136.2" r="0.85" fill="#8c0300" stroke="#000" stroke-width="0.4"/>
<circle cx="475.1" cy="161.4" r="0.85" fill="#660000" stroke="#000" stroke-width="0.4"/>
<circle cx="536.0" cy="136.8" r="0.5" fill="#8c2e00" stroke="#000" stroke-width="0.4"/>
<circle cx="539.8" cy="90.5" r="0.6" fill="#8c3300" stroke="#000" stroke-width="0.4"/>
<circle cx="493.5" cy="117.1" r="0.7" fill="#800000" stroke="#000" stroke-width="0.4"/>
<circle cx="510.1" cy="126.7" r="0.5" fill="#8c0b00" stroke="#000" stroke-width="0.4"/>
<circle cx="491.1" cy="153.6" r="0.6" fill="#7c0000" stroke="#000" stroke-width="0.4"/>
<circle cx="496.3" cy="152.3" r="0.7" fill="#840000" stroke="#000" stroke-width="0.4"/>
<circle cx="488.0" cy="123.0" r="0.6" fill="#790000" stroke="#000" stroke-width="0.4"/>
<circle cx="516.7" cy="147.2" r="0.6" fill="#8c1300" stroke="#000" stroke-width="0.4"/>
<circle cx="529.9" cy="125.2" r="0.85" fill="#8c2500" stroke="#000" stroke-width="0.4"/>
<circle cx="525.9" cy="107.6" r="0.7" fill="#8c2000" stroke="#000" stroke-width="0.4"/>
<circle cx="484.0" cy="105.6" r="0.5" fill="#730000" stroke="#000" stroke-width="0.4"/>
<circle cx="482.4" cy="81.8" r="0.85" fill="#710000" stroke="#000" stroke-width="0.4"/>
<circle cx="535.7" cy="87.2" r="0.6" fill="#8c2e00" stroke="#000" stroke-width="0.4"/>
<circle cx="483.0" cy="161.0" r="0.7" fill="#710000" stroke="#000" stroke-width="0.4"/>
<circle cx="534.7" cy="82.3" r="0.5" fill="#8c2c00" stroke="#000" stroke-width="0.4"/>
<circle cx="531.6" cy="76.8" r="0.85" fill="#8c2800" stroke="#000" stroke-width="0.4"/>
<circle cx="520.7" cy="147.8" r="0.7" fill="#8c1900" stroke="#000" stroke-width="0.4"/>
<circle cx="484.1" cy="104.7" r="0.5" fill="#730000" stroke="#000" stroke-width="0.4"/>
<circle cx="487.6" cy="105.3" r="0.85" fill="#780000" stroke="#000" stroke-width="0.4"/>
<circle cx="528.4" cy="83.8" r="0.7" fill="#8c2400" stroke="#000" stroke-width="0.4"/>
<circle cx="494.9" cy="104.4" r="0.6" fill="#820000" stroke="#000" stroke-width="0.4"/>
<circle cx="490.1" cy="93.3" r="0.6" fill="#7b0000" stroke="#000" stroke-width="0.4"/>
<circle cx="516.1" cy="130.3" r="0.5" fill="#8c1300" stroke="#000" stroke-width="0.4"/>
<circle cx="508.4" cy="107.3" r="0.7" fill="#8c0800" stroke="#000" stroke-width="0.4"/>
<circle cx="485.4" cy="153.3" r="0.6" fill="#750000" stroke="#000" stroke-width="0.4"/>
<circle cx="513.2" cy="159.2" r="0.7" fill="#8c0f00" stroke="#000" stroke-width="0.4"/>
<circle cx="504.3" cy="73.8" r="0.6" fill="#8c0200" stroke="#000" stroke-width="0.4"/>
<circle cx="536.1" cy="149.7" r="0.5" fill="#8c2e00" stroke="#000" stroke-width="0.4"/>
<circle cx="507.9" cy="158.0" r="0.7" fill="#8c0700" stroke="#000" stroke-width="0.4"/>
<circle cx="524.1" cy="71.3" r="0.6" fill="#8c1e00" stroke="#000" stroke-width="0.4"/>
<circle cx="517.1" cy="117.5" r="0.7" fill="#8c1400" stroke="#000" stroke-width="0.4"/>
<circle cx="536.9" cy="137.7" r="0.6" fill="#8c2f00" stroke="#000" stroke-width="0.4"/>
<circle cx="503.9" cy="120.9" r="0.85" fill="#8c0200" stroke="#000" stroke-width="0.4"/>
<circle cx="484.4" cy="91.2" r="0.7" fill="#740000" stroke="#000" stroke-width="0.4"/>
<circle cx="526.1" cy="112.9" r="0.7" fill="#8c2100" stroke="#000" stroke-width="0.4"/>
<circle cx="503.5" cy="115.2" r="0.5" fill="#8c0100" stroke="#000" stroke-width="0.4"/>
<circle cx="529.4" cy="142.0" r="0.5" fill="#8c2500" stroke="#000" stroke-width="0.4"/>
<circle cx="542.8" cy="148.7" r="0.7" fill="#8c3800" stroke="#000" stroke-width="0.4"/>
<circle cx="558.6" cy="118.7" r="0.6" fill="#8c4d00" stroke="#000" stroke-width="0.4"/>
<circle cx="594.7" cy="100.6" r="0.7" fill="#8c7f00" stroke="#000" stroke-width="0.4"/>
<circle cx="589.9" cy="89.5" r="0.5" fill="#8c7800" stroke="#000" stroke-width="0.4"/>
<circle cx="580.2" cy="80.7" r="0.6" fill="#8c6b00" stroke="#000" stroke-width="0.4"/>
<circle cx="562.9" cy="159.6" r="0.7" fill="#8c5300" stroke="#000" stroke-width="0.4"/>
<circle cx="549.7" cy="90.3" r="0.85" fill="#8c4100" stroke="#000" stroke-width="0.4"/>
<circle cx="581.5" cy="159.9" r="0.6" fill="#8c6c00" stroke="#000" stroke-width="0.4"/>
<circle cx="560.2" cy="70.9" r="0.6" fill="#8c4f00" stroke="#000" stroke-width="0.4"/>
<circle cx="554.0" cy="104.1" r="0.6" fill="#8c4600" stroke="#000" stroke-width="0.4"/>
<circle cx="594.3" cy="65.7" r="0.5" fill="#8c7e00" stroke="#000" stroke-width="0.4"/>
<circle cx="555.5" cy="142.0" r="0.7" fill="#8c4900" stroke="#000" stroke-width="0.4"/>
<circle cx="577.7" cy="114.5" r="0.85" fill="#8c6700" stroke="#000" stroke-width="0.4"/>
<circle cx="542.9" cy="121.1" r="0.7" fill="#8c3800" stroke="#000" stroke-width="0.4"/>
<circle cx="593.3" cy="130.9" r="0.5" fill="#8c7d00" stroke="#000" stroke-width="0.4"/>
<circle cx="575.5" cy="98.8" r="0.5" fill="#8c6400" stroke="#000" stroke-width="0.4"/>
<circle cx="540.8" cy="131.9" r="0.5" fill="#8c3500" stroke="#000" stroke-width="0.4"/>
<circle cx="577.5" cy="69.3" r="0.6" fill="#8c6700" stroke="#000" stroke-width="0.4"/>
<circle cx="553.4" cy="76.5" r="0.5" fill="#8c4600" stroke="#000" stroke-width="0.4"/>
<circle cx="577.6" cy="151.9" r="0.6" fill="#8c6700" stroke="#000" stroke-width="0.4"/>
<circle cx="556.7" cy="88.9" r="0.85" fill="#8c4a00" stroke="#000" stroke-width="0.4"/>
<circle cx="557.2" cy="141.8" r="0.6" fill="#8c4b00" stroke="#000" stroke-width="0.4"/>
<circle cx="551.4" cy="118.1" r="0.5" fill="#8c4300" stroke="#000" stroke-width="0.4"/>
<circle cx="573.9" cy="160.3" r="0.5" fill="#8c6200" stroke="#000" stroke-width="0.4"/>
<circle cx="546.6" cy="153.0" r="0.7" fill="#8c3d00" stroke="#000" stroke-width="0.4"/>
<circle cx="542.7" cy="159.1" r="0.7" fill="#8c3700" stroke="#000" stroke-width="0.4"/>
<circle cx="567.7" cy="75.1" r="0.85" fill="#8c5a00" stroke="#000" stroke-width="0.4"/>
<circle cx="575.8" cy="98.6" r="0.6" fill="#8c6500" stroke="#000" stroke-width="0.4"/>
<circle cx="587.1" cy="76.3" r="0.85" fill="#8c7400" stroke="#000" stroke-width="0.4"/>
<circle cx="557.1" cy="100.4" r="0.5" fill="#8c4b00" stroke="#000" stroke-width="0.4"/>
<circle cx="570.2" cy="127.4" r="0.5" fill="#8c5d00" stroke="#000" stroke-width="0.4"/>
<circle cx="564.4" cy="91.8" r="0.6" fill="#8c5500" stroke="#000" stroke-width="0.4"/>
<circle cx="594.3" cy="140.8" r="0.5" fill="#8c7e00" stroke="#000" stroke-width="0.4"/>
<circle cx="560.1" cy="98.4" r="0.5" fill="#8c4f00" stroke="#000" stroke-width="0.4"/>
<circle cx="584.1" cy="67.0" r="0.85" fill="#8c7000" stroke="#000" stroke-width="0.4"/>
<circle cx="572.6" cy="126.5" r="0.7" fill="#8c6000" stroke="#000" stroke-width="0.4"/>
<circle cx="567.0" cy="91.9" r="0.85" fill="#8c5900" stroke="#000" stroke-width="0.4"/>
<circle cx="566.7" cy="121.0" r="0.85" fill="#8c5800" stroke="#000" stroke-width="0.4"/>
<circle cx="583.5" cy="133.5" r="0.5" fill="#8c6f00" stroke="#000" stroke-width="0.4"/>
<circle cx="550.0" cy="150.4" r="0.5" fill="#8c4100" stroke="#000" stroke-width="0.4"/>
<circle cx="639.1" cy="145.6" r="0.5" fill="#8c8c47" stroke="#000" stroke-width="0.4"/>
<circle cx="628.1" cy="118.0" r="0.7" fill="#8c8c30" stroke="#000" stroke-width="0.4"/>
<circle cx="607.4" cy="85.5" r="0.5" fill="#8c8c06" stroke="#000" stroke-width="0.4"/>
<circle cx="638.1" cy="96.4" r="0.5" fill="#8c8c45" stroke="#000" stroke-width="0.4"/>
<circle cx="665.5" cy="100.2" r="0.85" fill="#8c8c7d" stroke="#000" stroke-width="0.4"/>
<circle cx="651.0" cy="83.6" r="0.5" fill="#8c8c60" stroke="#000" stroke-width="0.4"/>
<circle cx="643.3" cy="145.5" r="0.85" fill="#8c8c50" stroke="#000" stroke-width="0.4"/>
<circle cx="607.7" cy="100.2" r="0.85" fill="#8c8c07" stroke="#000" stroke-width="0.4"/>
<circle cx="662.1" cy="110.7" r="0.85" fill="#8c8c76" stroke="#000" stroke-width="0.4"/>
<circle cx="636.1" cy="66.3" r="0.5" fill="#8c8c41" stroke="#000" stroke-width="0.4"/>
<circle cx="648.2" cy="77.0" r="0.6" fill="#8c8c5a" stroke="#000" stroke-width="0.4"/>
<circle cx="622.3" cy="81.3" r="0.85" fill="#8c8c24" stroke="#000" stroke-width="0.4"/>
<circle cx="461.7" cy="110.6" r="3.00" fill="#9a0000" stroke="#000" stroke-width="0.5"/>
<circle cx="463.7" cy="104" r="2.00" fill="#9f0000" stroke="#000" stroke-width="0.5"/>
<circle cx="456.4" cy="102.7" r="0.8" fill="#8d0000" stroke="#000" stroke-width="0.45" opacity="0.85"/>
<circle cx="452.4" cy="123.2" r="2.00" fill="#830000" stroke="#000" stroke-width="0.5"/>
<circle cx="453.8" cy="124.6" r="1.50" fill="#860000" stroke="#000" stroke-width="0.5"/>
<circle cx="463.1" cy="127.2" r="2.50" fill="#9e0000" stroke="#000" stroke-width="0.5"/>
<circle cx="461.1" cy="129.9" r="2.00" fill="#990000" stroke="#000" stroke-width="0.5"/>
<circle cx="465.7" cy="128.6" r="1.50" fill="#a40000" stroke="#000" stroke-width="0.5"/>
<circle cx="449.1" cy="135.2" r="2.00" fill="#7b0000" stroke="#000" stroke-width="0.5"/>
<circle cx="450.5" cy="138.5" r="2.00" fill="#7e0000" stroke="#000" stroke-width="0.5"/>
<circle cx="455.1" cy="133.2" r="1.50" fill="#8a0000" stroke="#000" stroke-width="0.5"/>
<circle cx="451.8" cy="142.5" r="1.50" fill="#810000" stroke="#000" stroke-width="0.5"/>
<circle cx="446.5" cy="146.5" r="1.50" fill="#740000" stroke="#000" stroke-width="0.5"/>
<circle cx="444.5" cy="149.8" r="1.00" fill="#6f0000" stroke="#000" stroke-width="0.5"/>
<circle cx="451.1" cy="149.8" r="1.00" fill="#800000" stroke="#000" stroke-width="0.5"/>
<circle cx="451.8" cy="153.1" r="1.00" fill="#810000" stroke="#000" stroke-width="0.5"/>
<circle cx="440.5" cy="159.1" r="2.00" fill="#650000" stroke="#000" stroke-width="0.5"/>
<circle cx="449.1" cy="161.1" r="1.50" fill="#7b0000" stroke="#000" stroke-width="0.5"/>
<circle cx="432.5" cy="145.2" r="2.00" fill="#510000" stroke="#000" stroke-width="0.5"/>
<circle cx="437.8" cy="142.5" r="1.50" fill="#5e0000" stroke="#000" stroke-width="0.5"/>
<circle cx="439.2" cy="139.2" r="1.00" fill="#620000" stroke="#000" stroke-width="0.5"/>
<circle cx="441.2" cy="136.5" r="1.00" fill="#670000" stroke="#000" stroke-width="0.5"/>
<circle cx="425.2" cy="149.8" r="1.50" fill="#3f0000" stroke="#000" stroke-width="0.5"/>
<circle cx="418.6" cy="146.5" r="1.50" fill="#2e0000" stroke="#000" stroke-width="0.5"/>
<circle cx="418.6" cy="141.2" r="0.8" fill="#2e0000" stroke="#000" stroke-width="0.45" opacity="0.85"/>
<circle cx="421.9" cy="155.1" r="0.8" fill="#370000" stroke="#000" stroke-width="0.45" opacity="0.85"/>
<circle cx="422.6" cy="158.4" r="0.8" fill="#380000" stroke="#000" stroke-width="0.45" opacity="0.85"/>
<circle cx="417.3" cy="154.4" r="0.8" fill="#2b0000" stroke="#000" stroke-width="0.45" opacity="0.85"/>
<circle cx="410.6" cy="151.8" r="0.8" fill="#1a0000" stroke="#000" stroke-width="0.45" opacity="0.85"/>
<circle cx="408" cy="155.1" r="0.8" fill="#140000" stroke="#000" stroke-width="0.45" opacity="0.85"/>
<circle cx="405.3" cy="155.8" r="0.8" fill="#0d0000" stroke="#000" stroke-width="0.45" opacity="0.85"/>
<circle cx="425.9" cy="139.2" r="0.55" fill="#555" opacity="0.6"/>
<circle cx="461.7" cy="137.2" r="1.50" fill="#9a0000" stroke="#000" stroke-width="0.5"/>
<circle cx="464.4" cy="138.5" r="1.00" fill="#a10000" stroke="#000" stroke-width="0.5"/>
<circle cx="461.1" cy="147.1" r="1.50" fill="#990000" stroke="#000" stroke-width="0.5"/>
<circle cx="465.7" cy="152.5" r="1.50" fill="#a40000" stroke="#000" stroke-width="0.5"/>
<circle cx="464.4" cy="157.8" r="1.00" fill="#a10000" stroke="#000" stroke-width="0.5"/>
<circle cx="433.9" cy="129.9" r="0.8" fill="#550000" stroke="#000" stroke-width="0.45" opacity="0.85"/>
<circle cx="435.2" cy="133.9" r="0.8" fill="#580000" stroke="#000" stroke-width="0.45" opacity="0.85"/>
<circle cx="447.1" cy="116.6" r="0.55" fill="#555" opacity="0.6"/>
<circle cx="455.1" cy="113.3" r="0.55" fill="#555" opacity="0.6"/>
<circle cx="462.5" cy="96.8" r="0.8" fill="#9c0000" stroke="#000" stroke-width="0.45" opacity="0.85"/>
<circle cx="463.7" cy="103.6" r="2.00" fill="#9f0000" stroke="#000" stroke-width="0.5"/>
<circle cx="466.1" cy="106" r="1.50" fill="#a50000" stroke="#000" stroke-width="0.5"/>
<circle cx="471" cy="104.2" r="2.00" fill="#b10000" stroke="#000" stroke-width="0.5"/>
<circle cx="473.5" cy="104.2" r="1.50" fill="#b70000" stroke="#000" stroke-width="0.5"/>
<circle cx="481.5" cy="93.1" r="0.8" fill="#cb0000" stroke="#000" stroke-width="0.45" opacity="0.85"/>
<circle cx="486.4" cy="86.4" r="0.8" fill="#d80000" stroke="#000" stroke-width="0.45" opacity="0.85"/>
<circle cx="486.4" cy="79.6" r="0.8" fill="#d80000" stroke="#000" stroke-width="0.45" opacity="0.85"/>
<circle cx="492.5" cy="85.8" r="1.50" fill="#e70000" stroke="#000" stroke-width="0.5"/>
<circle cx="494.4" cy="80.2" r="1.50" fill="#ec0000" stroke="#000" stroke-width="0.5"/>
<circle cx="491.3" cy="76" r="0.8" fill="#e40000" stroke="#000" stroke-width="0.45" opacity="0.85"/>
<circle cx="495" cy="74.7" r="0.8" fill="#ed0000" stroke="#000" stroke-width="0.45" opacity="0.85"/>
<circle cx="496.8" cy="87.6" r="1.50" fill="#f20000" stroke="#000" stroke-width="0.5"/>
<circle cx="499.3" cy="90.7" r="0.8" fill="#f80000" stroke="#000" stroke-width="0.45" opacity="0.85"/>
<circle cx="501.7" cy="91.9" r="1.50" fill="#fe0000" stroke="#000" stroke-width="0.5"/>
<circle cx="499.9" cy="76.6" r="0.8" fill="#f90000" stroke="#000" stroke-width="0.45" opacity="0.85"/>
<circle cx="493.1" cy="96.2" r="0.8" fill="#e80000" stroke="#000" stroke-width="0.45" opacity="0.85"/>
<circle cx="506.6" cy="88.8" r="0.8" fill="#ff0b00" stroke="#000" stroke-width="0.45" opacity="0.85"/>
<circle cx="508.5" cy="90.7" r="1.50" fill="#ff1000" stroke="#000" stroke-width="0.5"/>
<circle cx="511.5" cy="79.6" r="1.50" fill="#ff1700" stroke="#000" stroke-width="0.5"/>
<circle cx="511.5" cy="86.4" r="1.50" fill="#ff1700" stroke="#000" stroke-width="0.5"/>
<circle cx="514" cy="87.6" r="1.00" fill="#ff1e00" stroke="#000" stroke-width="0.5"/>
<circle cx="515.8" cy="79.6" r="1.00" fill="#ff2200" stroke="#000" stroke-width="0.5"/>
<circle cx="517.7" cy="72.3" r="0.55" fill="#555" opacity="0.6"/>
<circle cx="520.7" cy="89.4" r="0.8" fill="#ff2e00" stroke="#000" stroke-width="0.45" opacity="0.85"/>
<circle cx="522.6" cy="80.9" r="0.8" fill="#ff3300" stroke="#000" stroke-width="0.45" opacity="0.85"/>
<circle cx="526.3" cy="86.4" r="0.8" fill="#ff3c00" stroke="#000" stroke-width="0.45" opacity="0.85"/>
<circle cx="526.3" cy="90" r="0.8" fill="#ff3c00" stroke="#000" stroke-width="0.45" opacity="0.85"/>
<circle cx="533.6" cy="89.4" r="2.00" fill="#ff4f00" stroke="#000" stroke-width="0.5"/>
<circle cx="534.8" cy="69.8" r="0.8" fill="#ff5200" stroke="#000" stroke-width="0.45" opacity="0.85"/>
<circle cx="537.9" cy="76" r="1.00" fill="#ff5900" stroke="#000" stroke-width="0.5"/>
<circle cx="493.1" cy="107.2" r="1.50" fill="#e80000" stroke="#000" stroke-width="0.5"/>
<circle cx="510.9" cy="109.7" r="0.8" fill="#ff1600" stroke="#000" stroke-width="0.45" opacity="0.85"/>
<circle cx="522.6" cy="107.9" r="0.8" fill="#ff3300" stroke="#000" stroke-width="0.45" opacity="0.85"/>
<circle cx="527.5" cy="106" r="1.50" fill="#ff3f00" stroke="#000" stroke-width="0.5"/>
<circle cx="523.2" cy="116.4" r="0.8" fill="#ff3500" stroke="#000" stroke-width="0.45" opacity="0.85"/>
<circle cx="488.8" cy="117.7" r="0.8" fill="#de0000" stroke="#000" stroke-width="0.45" opacity="0.85"/>
<circle cx="468.6" cy="116.4" r="0.8" fill="#ab0000" stroke="#000" stroke-width="0.45" opacity="0.85"/>
<circle cx="463.5" cy="126.9" r="2.50" fill="#9f0000" stroke="#000" stroke-width="0.5"/>
<circle cx="461.8" cy="130.4" r="2.50" fill="#9a0000" stroke="#000" stroke-width="0.5"/>
<circle cx="462.9" cy="137.4" r="2.00" fill="#9d0000" stroke="#000" stroke-width="0.5"/>
<circle cx="466.4" cy="153.2" r="2.00" fill="#a60000" stroke="#000" stroke-width="0.5"/>
<circle cx="468.2" cy="132.8" r="1.50" fill="#aa0000" stroke="#000" stroke-width="0.5"/>
<circle cx="471.1" cy="137.4" r="1.50" fill="#b10000" stroke="#000" stroke-width="0.5"/>
<circle cx="471.1" cy="141" r="2.00" fill="#b10000" stroke="#000" stroke-width="0.5"/>
<circle cx="471.7" cy="143.9" r="1.50" fill="#b30000" stroke="#000" stroke-width="0.5"/>
<circle cx="471.1" cy="149.7" r="1.50" fill="#b10000" stroke="#000" stroke-width="0.5"/>
<circle cx="464.7" cy="157.9" r="1.50" fill="#a20000" stroke="#000" stroke-width="0.5"/>
<circle cx="461.2" cy="147.4" r="1.50" fill="#990000" stroke="#000" stroke-width="0.5"/>
<circle cx="472.8" cy="121.1" r="1.00" fill="#b60000" stroke="#000" stroke-width="0.5"/>
<circle cx="475.2" cy="157.3" r="1.00" fill="#bc0000" stroke="#000" stroke-width="0.5"/>
<circle cx="478.1" cy="140.4" r="1.50" fill="#c30000" stroke="#000" stroke-width="0.5"/>
<circle cx="481.6" cy="139.8" r="1.50" fill="#cc0000" stroke="#000" stroke-width="0.5"/>
<circle cx="481.6" cy="143.9" r="1.50" fill="#cc0000" stroke="#000" stroke-width="0.5"/>
<circle cx="482.8" cy="150.3" r="1.00" fill="#cf0000" stroke="#000" stroke-width="0.5"/>
<circle cx="485.1" cy="128.7" r="2.00" fill="#d40000" stroke="#000" stroke-width="0.5"/>
<circle cx="483.9" cy="132.2" r="1.50" fill="#d10000" stroke="#000" stroke-width="0.5"/>
<circle cx="484.5" cy="120.5" r="1.50" fill="#d30000" stroke="#000" stroke-width="0.5"/>
<circle cx="488.6" cy="118.2" r="1.00" fill="#dd0000" stroke="#000" stroke-width="0.5"/>
<circle cx="486.9" cy="141" r="1.50" fill="#d90000" stroke="#000" stroke-width="0.5"/>
<circle cx="489.2" cy="148.5" r="2.00" fill="#df0000" stroke="#000" stroke-width="0.5"/>
<circle cx="489.8" cy="154.4" r="1.50" fill="#e00000" stroke="#000" stroke-width="0.5"/>
<circle cx="489.8" cy="159.1" r="1.50" fill="#e00000" stroke="#000" stroke-width="0.5"/>
<circle cx="491.5" cy="143.9" r="1.50" fill="#e40000" stroke="#000" stroke-width="0.5"/>
<circle cx="491" cy="139.2" r="0.8" fill="#e30000" stroke="#000" stroke-width="0.45" opacity="0.85"/>
<circle cx="494.5" cy="131.6" r="0.8" fill="#ec0000" stroke="#000" stroke-width="0.45" opacity="0.85"/>
<circle cx="500.3" cy="131" r="2.00" fill="#fa0000" stroke="#000" stroke-width="0.5"/>
<circle cx="498.5" cy="117" r="0.8" fill="#f60000" stroke="#000" stroke-width="0.45" opacity="0.85"/>
<circle cx="501.5" cy="158.5" r="1.50" fill="#fd0000" stroke="#000" stroke-width="0.5"/>
<circle cx="502" cy="148" r="1.50" fill="#ff0000" stroke="#000" stroke-width="0.5"/>
<circle cx="502.6" cy="143.9" r="1.50" fill="#ff0100" stroke="#000" stroke-width="0.5"/>
<circle cx="505" cy="143.9" r="1.50" fill="#ff0700" stroke="#000" stroke-width="0.5"/>
<circle cx="504.4" cy="122.3" r="0.8" fill="#ff0600" stroke="#000" stroke-width="0.45" opacity="0.85"/>
<circle cx="506.1" cy="127.5" r="0.8" fill="#ff0a00" stroke="#000" stroke-width="0.45" opacity="0.85"/>
<circle cx="507.9" cy="142.1" r="1.50" fill="#ff0e00" stroke="#000" stroke-width="0.5"/>
<circle cx="506.7" cy="155" r="0.8" fill="#ff0b00" stroke="#000" stroke-width="0.45" opacity="0.85"/>
<circle cx="511.4" cy="126.4" r="1.50" fill="#ff1700" stroke="#000" stroke-width="0.5"/>
<circle cx="511.4" cy="128.7" r="1.50" fill="#ff1700" stroke="#000" stroke-width="0.5"/>
<circle cx="513.7" cy="141.5" r="0.8" fill="#ff1d00" stroke="#000" stroke-width="0.45" opacity="0.85"/>
<circle cx="513.7" cy="150.9" r="0.8" fill="#ff1d00" stroke="#000" stroke-width="0.45" opacity="0.85"/>
<circle cx="518.4" cy="135.7" r="0.8" fill="#ff2900" stroke="#000" stroke-width="0.45" opacity="0.85"/>
<circle cx="523.1" cy="116.4" r="0.8" fill="#ff3400" stroke="#000" stroke-width="0.45" opacity="0.85"/>
<circle cx="522.5" cy="122.3" r="0.8" fill="#ff3300" stroke="#000" stroke-width="0.45" opacity="0.85"/>
<circle cx="524.2" cy="141" r="0.8" fill="#ff3700" stroke="#000" stroke-width="0.45" opacity="0.85"/>
<circle cx="527.2" cy="149.7" r="0.8" fill="#ff3f00" stroke="#000" stroke-width="0.45" opacity="0.85"/>
<circle cx="531.3" cy="145" r="2.00" fill="#ff4900" stroke="#000" stroke-width="0.5"/>
<circle cx="534.8" cy="121.1" r="1.00" fill="#ff5200" stroke="#000" stroke-width="0.5"/>
<circle cx="538.3" cy="121.7" r="1.00" fill="#ff5a00" stroke="#000" stroke-width="0.5"/>
<circle cx="536.5" cy="124.6" r="1.00" fill="#ff5600" stroke="#000" stroke-width="0.5"/>
<circle cx="534.8" cy="149.1" r="1.00" fill="#ff5200" stroke="#000" stroke-width="0.5"/>
<circle cx="534.2" cy="153.8" r="0.8" fill="#ff5000" stroke="#000" stroke-width="0.45" opacity="0.85"/>
<circle cx="539.4" cy="143.9" r="1.00" fill="#ff5d00" stroke="#000" stroke-width="0.5"/>
<circle cx="510.8" cy="110.6" r="0.8" fill="#ff1600" stroke="#000" stroke-width="0.45" opacity="0.85"/>
<circle cx="475.2" cy="162" r="0.8" fill="#bc0000" stroke="#000" stroke-width="0.45" opacity="0.85"/>
<circle cx="534.7" cy="69.6" r="0.8" fill="#ff5100" stroke="#000" stroke-width="0.45" opacity="0.85"/>
<circle cx="528.6" cy="76.4" r="0.8" fill="#ff4200" stroke="#000" stroke-width="0.45" opacity="0.85"/>
<circle cx="538.4" cy="75.2" r="1.50" fill="#ff5a00" stroke="#000" stroke-width="0.5"/>
<circle cx="539" cy="77.6" r="1.00" fill="#ff5c00" stroke="#000" stroke-width="0.5"/>
<circle cx="544.5" cy="75.2" r="1.50" fill="#ff6a00" stroke="#000" stroke-width="0.5"/>
<circle cx="548.2" cy="74.5" r="1.50" fill="#ff7300" stroke="#000" stroke-width="0.5"/>
<circle cx="545.8" cy="72.1" r="0.8" fill="#ff6d00" stroke="#000" stroke-width="0.45" opacity="0.85"/>
<circle cx="547" cy="81.9" r="2.00" fill="#ff7000" stroke="#000" stroke-width="0.5"/>
<circle cx="537.8" cy="83.1" r="0.8" fill="#ff5900" stroke="#000" stroke-width="0.45" opacity="0.85"/>
<circle cx="540.2" cy="80.1" r="0.8" fill="#ff5f00" stroke="#000" stroke-width="0.45" opacity="0.85"/>
<circle cx="555" cy="78.8" r="1.50" fill="#ff8400" stroke="#000" stroke-width="0.5"/>
<circle cx="554.4" cy="82.5" r="0.8" fill="#ff8200" stroke="#000" stroke-width="0.45" opacity="0.85"/>
<circle cx="562.9" cy="79.4" r="1.50" fill="#ff9800" stroke="#000" stroke-width="0.5"/>
<circle cx="562.9" cy="81.9" r="0.8" fill="#ff9800" stroke="#000" stroke-width="0.45" opacity="0.85"/>
<circle cx="565.4" cy="88.7" r="0.8" fill="#ff9e00" stroke="#000" stroke-width="0.45" opacity="0.85"/>
<circle cx="534.1" cy="89.3" r="2.00" fill="#ff5000" stroke="#000" stroke-width="0.5"/>
<circle cx="526.7" cy="86.8" r="0.8" fill="#ff3d00" stroke="#000" stroke-width="0.45" opacity="0.85"/>
<circle cx="526.1" cy="89.9" r="0.8" fill="#ff3c00" stroke="#000" stroke-width="0.45" opacity="0.85"/>
<circle cx="555.6" cy="92.9" r="1.50" fill="#ff8500" stroke="#000" stroke-width="0.5"/>
<circle cx="543.9" cy="97.9" r="1.50" fill="#ff6800" stroke="#000" stroke-width="0.5"/>
<circle cx="528" cy="106.4" r="1.50" fill="#ff4100" stroke="#000" stroke-width="0.5"/>
<circle cx="522.5" cy="107.7" r="0.8" fill="#ff3300" stroke="#000" stroke-width="0.45" opacity="0.85"/>
<circle cx="539.6" cy="100.3" r="0.55" fill="#555" opacity="0.6"/>
<circle cx="557.4" cy="71.5" r="0.55" fill="#555" opacity="0.6"/>
<circle cx="561.1" cy="68.4" r="0.55" fill="#555" opacity="0.6"/>
<circle cx="569.7" cy="66" r="0.55" fill="#555" opacity="0.6"/>
<circle cx="574" cy="64.1" r="0.8" fill="#ffb300" stroke="#000" stroke-width="0.45" opacity="0.85"/>
<circle cx="576.4" cy="62.3" r="0.55" fill="#555" opacity="0.6"/>
<circle cx="582" cy="62.9" r="0.55" fill="#555" opacity="0.6"/>
<circle cx="580.1" cy="66.6" r="0.55" fill="#555" opacity="0.6"/>
<circle cx="572.1" cy="73.3" r="0.8" fill="#ffaf00" stroke="#000" stroke-width="0.45" opacity="0.85"/>
<circle cx="582.6" cy="73.9" r="0.8" fill="#ffc900" stroke="#000" stroke-width="0.45" opacity="0.85"/>
<circle cx="585.6" cy="75.2" r="1.50" fill="#ffd000" stroke="#000" stroke-width="0.5"/>
<circle cx="584.4" cy="77.6" r="0.8" fill="#ffcd00" stroke="#000" stroke-width="0.45" opacity="0.85"/>
<circle cx="586.9" cy="81.9" r="0.8" fill="#ffd400" stroke="#000" stroke-width="0.45" opacity="0.85"/>
<circle cx="581.3" cy="86.2" r="1.50" fill="#ffc600" stroke="#000" stroke-width="0.5"/>
<circle cx="586.9" cy="92.3" r="1.50" fill="#ffd400" stroke="#000" stroke-width="0.5"/>
<circle cx="585.6" cy="94.2" r="1.50" fill="#ffd000" stroke="#000" stroke-width="0.5"/>
<circle cx="593.6" cy="89.9" r="0.8" fill="#ffe400" stroke="#000" stroke-width="0.45" opacity="0.85"/>
<circle cx="599.1" cy="86.8" r="0.8" fill="#fff200" stroke="#000" stroke-width="0.45" opacity="0.85"/>
<circle cx="580.7" cy="106.4" r="1.50" fill="#ffc400" stroke="#000" stroke-width="0.5"/>
<circle cx="586.3" cy="105.2" r="1.50" fill="#ffd200" stroke="#000" stroke-width="0.5"/>
<circle cx="586.9" cy="107.7" r="1.50" fill="#ffd400" stroke="#000" stroke-width="0.5"/>
<circle cx="599.1" cy="102.8" r="1.50" fill="#fff200" stroke="#000" stroke-width="0.5"/>
<circle cx="577.1" cy="100.3" r="0.8" fill="#ffbb00" stroke="#000" stroke-width="0.45" opacity="0.85"/>
<circle cx="575.8" cy="102.1" r="0.8" fill="#ffb800" stroke="#000" stroke-width="0.45" opacity="0.85"/>
<circle cx="521.2" cy="89.3" r="0.8" fill="#ff3000" stroke="#000" stroke-width="0.45" opacity="0.85"/>
<circle cx="540.7" cy="143.9" r="2.00" fill="#ff6000" stroke="#000" stroke-width="0.5"/>
<circle cx="546" cy="143.9" r="1.00" fill="#ff6d00" stroke="#000" stroke-width="0.5"/>
<circle cx="550.6" cy="149.2" r="2.00" fill="#ff7900" stroke="#000" stroke-width="0.5"/>
<circle cx="548.6" cy="117.3" r="0.8" fill="#ff7400" stroke="#000" stroke-width="0.45" opacity="0.85"/>
<circle cx="548.6" cy="157.1" r="0.8" fill="#ff7400" stroke="#000" stroke-width="0.45" opacity="0.85"/>
<circle cx="544.7" cy="131.9" r="0.8" fill="#ff6a00" stroke="#000" stroke-width="0.45" opacity="0.85"/>
<circle cx="557.9" cy="140.5" r="0.8" fill="#ff8b00" stroke="#000" stroke-width="0.45" opacity="0.85"/>
<circle cx="565.9" cy="141.9" r="0.8" fill="#ff9f00" stroke="#000" stroke-width="0.45" opacity="0.85"/>
<circle cx="567.2" cy="133.9" r="1.50" fill="#ffa200" stroke="#000" stroke-width="0.5"/>
<circle cx="567.6" cy="136.5" r="1.50" fill="#ffa300" stroke="#000" stroke-width="0.5"/>
<circle cx="568.6" cy="127.9" r="0.8" fill="#ffa600" stroke="#000" stroke-width="0.45" opacity="0.85"/>
<circle cx="569.9" cy="122.6" r="0.8" fill="#ffa900" stroke="#000" stroke-width="0.45" opacity="0.85"/>
<circle cx="571.2" cy="153.2" r="0.8" fill="#ffac00" stroke="#000" stroke-width="0.45" opacity="0.85"/>
<circle cx="575.9" cy="102" r="0.8" fill="#ffb800" stroke="#000" stroke-width="0.45" opacity="0.85"/>
<circle cx="580.5" cy="106" r="1.50" fill="#ffc400" stroke="#000" stroke-width="0.5"/>
<circle cx="586.5" cy="105.3" r="1.50" fill="#ffd300" stroke="#000" stroke-width="0.5"/>
<circle cx="586.5" cy="108" r="2.00" fill="#ffd300" stroke="#000" stroke-width="0.5"/>
<circle cx="582.5" cy="112" r="0.8" fill="#ffc900" stroke="#000" stroke-width="0.45" opacity="0.85"/>
<circle cx="585.8" cy="117.9" r="2.00" fill="#ffd100" stroke="#000" stroke-width="0.5"/>
<circle cx="590.5" cy="117.3" r="0.8" fill="#ffdd00" stroke="#000" stroke-width="0.45" opacity="0.85"/>
<circle cx="583.2" cy="123.9" r="0.8" fill="#ffca00" stroke="#000" stroke-width="0.45" opacity="0.85"/>
<circle cx="585.8" cy="125.9" r="2.50" fill="#ffd100" stroke="#000" stroke-width="0.5"/>
<circle cx="591.2" cy="131.2" r="0.8" fill="#ffde00" stroke="#000" stroke-width="0.45" opacity="0.85"/>
<circle cx="593.2" cy="134.3" r="1.50" fill="#ffe300" stroke="#000" stroke-width="0.5"/>
<circle cx="590.5" cy="136.5" r="1.50" fill="#ffdd00" stroke="#000" stroke-width="0.5"/>
<circle cx="589.8" cy="139.9" r="1.50" fill="#ffdb00" stroke="#000" stroke-width="0.5"/>
<circle cx="591.2" cy="143.2" r="2.00" fill="#ffde00" stroke="#000" stroke-width="0.5"/>
<circle cx="589.8" cy="144.5" r="1.00" fill="#ffdb00" stroke="#000" stroke-width="0.5"/>
<circle cx="597.1" cy="149.8" r="2.00" fill="#ffed00" stroke="#000" stroke-width="0.5"/>
<circle cx="597.4" cy="152.9" r="2.00" fill="#ffee00" stroke="#000" stroke-width="0.5"/>
<circle cx="596.9" cy="160.5" r="1.50" fill="#ffed00" stroke="#000" stroke-width="0.5"/>
<circle cx="597.1" cy="157.8" r="0.8" fill="#ffed00" stroke="#000" stroke-width="0.45" opacity="0.85"/>
<circle cx="599.1" cy="102.7" r="1.50" fill="#fff200" stroke="#000" stroke-width="0.5"/>
<circle cx="605.1" cy="108" r="2.00" fill="#ffff03" stroke="#000" stroke-width="0.5"/>
<circle cx="604.5" cy="113.3" r="0.8" fill="#ffff01" stroke="#000" stroke-width="0.45" opacity="0.85"/>
<circle cx="603.5" cy="119.3" r="2.50" fill="#fffd00" stroke="#000" stroke-width="0.5"/>
<circle cx="604.5" cy="123.3" r="0.8" fill="#ffff01" stroke="#000" stroke-width="0.45" opacity="0.85"/>
<circle cx="609.1" cy="143.2" r="0.8" fill="#ffff12" stroke="#000" stroke-width="0.45" opacity="0.85"/>
<circle cx="597.8" cy="142.5" r="0.8" fill="#ffef00" stroke="#000" stroke-width="0.45" opacity="0.85"/>
<circle cx="610.4" cy="108.6" r="0.8" fill="#ffff17" stroke="#000" stroke-width="0.45" opacity="0.85"/>
<circle cx="593.2" cy="108.6" r="0.8" fill="#ffe300" stroke="#000" stroke-width="0.45" opacity="0.85"/>
<circle cx="598.5" cy="108.6" r="0.8" fill="#fff100" stroke="#000" stroke-width="0.45" opacity="0.85"/>
<circle cx="615.7" cy="127.9" r="0.55" fill="#555" opacity="0.6"/>
<circle cx="604.5" cy="128.6" r="0.55" fill="#555" opacity="0.6"/>
<circle cx="578.5" cy="132.6" r="0.8" fill="#ffbf00" stroke="#000" stroke-width="0.45" opacity="0.85"/>
<circle cx="582.5" cy="141.2" r="0.8" fill="#ffc900" stroke="#000" stroke-width="0.45" opacity="0.85"/>
<circle cx="557.3" cy="143.9" r="0.55" fill="#555" opacity="0.6"/>
<circle cx="608.6" cy="142.7" r="1.50" fill="#ffff10" stroke="#000" stroke-width="0.5"/>
<circle cx="617.2" cy="76.1" r="0.8" fill="#ffff30" stroke="#000" stroke-width="0.45" opacity="0.85"/>
<circle cx="620.4" cy="85.4" r="0.8" fill="#ffff3c" stroke="#000" stroke-width="0.45" opacity="0.85"/>
<circle cx="608.6" cy="94.4" r="0.8" fill="#ffff10" stroke="#000" stroke-width="0.45" opacity="0.85"/>
<circle cx="610.3" cy="109.4" r="0.8" fill="#ffff16" stroke="#000" stroke-width="0.45" opacity="0.85"/>
<circle cx="620.4" cy="118" r="0.8" fill="#ffff3c" stroke="#000" stroke-width="0.45" opacity="0.85"/>
<circle cx="618.3" cy="120.2" r="0.8" fill="#ffff34" stroke="#000" stroke-width="0.45" opacity="0.85"/>
<circle cx="619.3" cy="123.4" r="0.8" fill="#ffff38" stroke="#000" stroke-width="0.45" opacity="0.85"/>
<circle cx="622.6" cy="128.8" r="0.8" fill="#ffff45" stroke="#000" stroke-width="0.45" opacity="0.85"/>
<circle cx="630.1" cy="130.9" r="0.8" fill="#ffff61" stroke="#000" stroke-width="0.45" opacity="0.85"/>
<circle cx="643" cy="136.3" r="0.8" fill="#ffff91" stroke="#000" stroke-width="0.45" opacity="0.85"/>
<circle cx="640.8" cy="141.7" r="0.8" fill="#ffff89" stroke="#000" stroke-width="0.45" opacity="0.85"/>
<circle cx="641.9" cy="143.8" r="0.8" fill="#ffff8d" stroke="#000" stroke-width="0.45" opacity="0.85"/>
<circle cx="652.7" cy="81.5" r="0.55" fill="#555" opacity="0.6"/>
<circle cx="659.1" cy="81.5" r="0.8" fill="#ffffcd" stroke="#000" stroke-width="0.45" opacity="0.85"/>
<circle cx="661.3" cy="117" r="0.55" fill="#555" opacity="0.6"/>
<circle cx="655.9" cy="154.6" r="0.8" fill="#ffffc1" stroke="#000" stroke-width="0.45" opacity="0.85"/>
<circle cx="655.9" cy="156.7" r="0.8" fill="#ffffc1" stroke="#000" stroke-width="0.45" opacity="0.85"/>
<circle cx="660.2" cy="156.7" r="0.55" fill="#555" opacity="0.6"/>
<circle cx="634.4" cy="153.5" r="0.55" fill="#555" opacity="0.6"/>
<circle cx="625.8" cy="152.4" r="0.55" fill="#555" opacity="0.6"/>
<circle cx="600" cy="86.9" r="0.8" fill="#fff400" stroke="#000" stroke-width="0.45" opacity="0.85"/>
<circle cx="446.8" cy="39.5" r="0.55" fill="#555" opacity="0.6"/>
<circle cx="462.9" cy="97.2" r="1.25" fill="#9d0000" stroke="#000" stroke-width="0.5"/>
<circle cx="456.8" cy="102.8" r="0.8" fill="#8e0000" stroke="#000" stroke-width="0.45" opacity="0.85"/>
<circle cx="463.5" cy="101.3" r="0.8" fill="#9f0000" stroke="#000" stroke-width="0.45" opacity="0.85"/>
<circle cx="463.5" cy="104.4" r="1.50" fill="#9f0000" stroke="#000" stroke-width="0.5"/>
<circle cx="466" cy="103.9" r="1.50" fill="#a50000" stroke="#000" stroke-width="0.5"/>
<circle cx="466.5" cy="106.4" r="1.50" fill="#a60000" stroke="#000" stroke-width="0.5"/>
<circle cx="471.1" cy="104.4" r="2.00" fill="#b10000" stroke="#000" stroke-width="0.5"/>
<circle cx="473.2" cy="104.4" r="1.50" fill="#b70000" stroke="#000" stroke-width="0.5"/>
<circle cx="461.4" cy="110.5" r="3.00" fill="#990000" stroke="#000" stroke-width="0.5"/>
<circle cx="469.6" cy="98.2" r="0.55" fill="#555" opacity="0.6"/>
<circle cx="476.2" cy="102.8" r="0.55" fill="#555" opacity="0.6"/>
<circle cx="455.3" cy="113.1" r="0.8" fill="#8a0000" stroke="#000" stroke-width="0.45" opacity="0.85"/>
<circle cx="573.7" cy="64.2" r="0.8" fill="#ffb300" stroke="#000" stroke-width="0.45" opacity="0.85"/>
<circle cx="561.4" cy="68" r="0.55" fill="#555" opacity="0.6"/>
<circle cx="557.1" cy="71.5" r="0.8" fill="#ff8900" stroke="#000" stroke-width="0.45" opacity="0.85"/>
<circle cx="544.8" cy="74.2" r="1.25" fill="#ff6a00" stroke="#000" stroke-width="0.5"/>
<circle cx="547.4" cy="74.2" r="1.25" fill="#ff7100" stroke="#000" stroke-width="0.5"/>
<circle cx="538.7" cy="75" r="1.00" fill="#ff5b00" stroke="#000" stroke-width="0.5"/>
<circle cx="534.3" cy="69.8" r="0.8" fill="#ff5000" stroke="#000" stroke-width="0.45" opacity="0.85"/>
<circle cx="519.4" cy="68.9" r="0.55" fill="#555" opacity="0.6"/>
<circle cx="514.2" cy="72.4" r="0.55" fill="#555" opacity="0.6"/>
<circle cx="499.3" cy="68" r="0.55" fill="#555" opacity="0.6"/>
<circle cx="494.9" cy="74.2" r="0.8" fill="#ed0000" stroke="#000" stroke-width="0.45" opacity="0.85"/>
<circle cx="491.4" cy="75" r="0.8" fill="#e40000" stroke="#000" stroke-width="0.45" opacity="0.85"/>
<circle cx="584.2" cy="75" r="1.00" fill="#ffcd00" stroke="#000" stroke-width="0.5"/>
<circle cx="582.5" cy="73.3" r="1.00" fill="#ffc900" stroke="#000" stroke-width="0.5"/>
<polyline points="400.00,163.10 400.01,162.59 400.03,162.09 400.06,161.58 400.11,161.08 400.17,160.57 400.25,160.07 400.33,159.56 400.44,159.06 400.55,158.55 400.68,158.05 400.82,157.54 400.98,157.04 401.15,156.53 401.33,156.03 401.53,155.52 401.74,155.02 401.97,154.51 402.21,154.01 402.46,153.50 402.72,153.00 403.00,152.49 403.30,151.99 403.60,151.48 403.92,150.98 404.26,150.47 404.60,149.97 404.96,149.46 405.34,148.95 405.73,148.45 406.13,147.94 406.54,147.44 406.97,146.93 407.42,146.43 407.87,145.92 408.34,145.42 408.83,144.91 409.32,144.41 409.83,143.90 410.36,143.40 410.90,142.89 411.45,142.39 412.01,141.88 412.59,141.38 413.18,140.87 413.79,140.37 414.41,139.86 415.04,139.36 415.69,138.85 416.35,138.35 417.02,137.84 417.71,137.34 418.41,136.83 419.13,136.32 419.86,135.82 420.60,135.31 421.36,134.81 422.13,134.30 422.91,133.80 423.71,133.29 424.52,132.79 425.34,132.28 426.18,131.78 427.03,131.27 427.89,130.77 428.77,130.26 429.66,129.76 430.57,129.25 431.49,128.75 432.42,128.24 433.37,127.74 434.33,127.23 435.30,126.73 436.29,126.22 437.29,125.72 438.31,125.21 439.33,124.71 440.38,124.20 441.43,123.70 442.50,123.19 443.58,122.68 444.68,122.18 445.79,121.67 446.91,121.17 448.05,120.66 449.20,120.16 450.37,119.65 451.54,119.15 452.74,118.64 453.94,118.14 455.16,117.63 456.39,117.13 457.64,116.62 458.90,116.12 460.17,115.61 461.46,115.11 462.76,114.60 464.08,114.10 465.40,113.59 466.74,113.09 468.10,112.58 469.47,112.08 470.85,111.57 472.25,111.07 473.66,110.56 475.08,110.05 476.52,109.55 477.97,109.04 479.43,108.54 480.91,108.03 482.40,107.53 483.91,107.02 485.42,106.52 486.96,106.01 488.50,105.51 490.06,105.00 491.64,104.50 493.22,103.99 494.82,103.49 496.44,102.98 498.06,102.48 499.71,101.97 501.36,101.47 503.03,100.96 504.71,100.46 506.41,99.95 508.12,99.45 509.84,98.94 511.58,98.44 513.33,97.93 515.09,97.43 516.87,96.92 518.66,96.41 520.46,95.91 522.28,95.40 524.11,94.90 525.96,94.39 527.82,93.89 529.69,93.38 531.58,92.88 533.48,92.37 535.39,91.87 537.32,91.36 539.26,90.86 541.21,90.35 543.18,89.85 545.16,89.34 547.16,88.84 549.17,88.33 551.19,87.83 553.23,87.32 555.27,86.82 557.34,86.31 559.42,85.81 561.51,85.30 563.61,84.80 565.73,84.29 567.86,83.79 570.00,83.28 572.16,82.77 574.34,82.27 576.52,81.76 578.72,81.26 580.93,80.75 583.16,80.25 585.40,79.74 587.66,79.24 589.92,78.73 592.21,78.23 594.50,77.72 596.81,77.22 599.13,76.71 601.47,76.21 603.82,75.70 606.18,75.20 608.56,74.69 610.95,74.19 613.35,73.68 615.77,73.18 618.20,72.67 620.64,72.17 623.10,71.66 625.57,71.16 628.06,70.65 630.56,70.14 633.07,69.64 635.60,69.13 638.14,68.63 640.69,68.12 643.26,67.62 645.84,67.11 648.44,66.61 651.04,66.10 653.67,65.60 656.30,65.09 658.95,64.59 661.61,64.08 664.29,63.58 666.98,63.07 669.68,62.57 672.40,62.06" fill="none" stroke="#00fa0a" stroke-width="4.3"/>
</g>
<line x1="400" y1="26.80" x2="400" y2="164.10" stroke="#000" stroke-width="2"/>
<line x1="399" y1="163.1" x2="673.00" y2="163.1" stroke="#000" stroke-width="1.8"/>
<line x1="396" y1="163.10" x2="400" y2="163.10" stroke="#666" stroke-width="0.8"/>
<line x1="398" y1="159.21" x2="400" y2="159.21" stroke="#000" stroke-width="0.8"/>
<line x1="398" y1="155.31" x2="400" y2="155.31" stroke="#000" stroke-width="0.8"/>
<line x1="398" y1="151.42" x2="400" y2="151.42" stroke="#000" stroke-width="0.8"/>
<line x1="398" y1="147.52" x2="400" y2="147.52" stroke="#000" stroke-width="0.8"/>
<line x1="396" y1="143.63" x2="400" y2="143.63" stroke="#666" stroke-width="0.8"/>
<line x1="398" y1="139.73" x2="400" y2="139.73" stroke="#000" stroke-width="0.8"/>
<line x1="398" y1="135.84" x2="400" y2="135.84" stroke="#000" stroke-width="0.8"/>
<line x1="398" y1="131.95" x2="400" y2="131.95" stroke="#000" stroke-width="0.8"/>
<line x1="398" y1="128.05" x2="400" y2="128.05" stroke="#000" stroke-width="0.8"/>
<line x1="396" y1="124.16" x2="400" y2="124.16" stroke="#666" stroke-width="0.8"/>
<line x1="398" y1="120.26" x2="400" y2="120.26" stroke="#000" stroke-width="0.8"/>
<line x1="398" y1="116.37" x2="400" y2="116.37" stroke="#000" stroke-width="0.8"/>
<line x1="398" y1="112.47" x2="400" y2="112.47" stroke="#000" stroke-width="0.8"/>
<line x1="398" y1="108.58" x2="400" y2="108.58" stroke="#000" stroke-width="0.8"/>
<line x1="396" y1="104.69" x2="400" y2="104.69" stroke="#666" stroke-width="0.8"/>
<line x1="398" y1="100.79" x2="400" y2="100.79" stroke="#000" stroke-width="0.8"/>
<line x1="398" y1="96.90" x2="400" y2="96.90" stroke="#000" stroke-width="0.8"/>
<line x1="398" y1="93.00" x2="400" y2="93.00" stroke="#000" stroke-width="0.8"/>
<line x1="398" y1="89.11" x2="400" y2="89.11" stroke="#000" stroke-width="0.8"/>
<line x1="396" y1="85.21" x2="400" y2="85.21" stroke="#666" stroke-width="0.8"/>
<line x1="398" y1="81.32" x2="400" y2="81.32" stroke="#000" stroke-width="0.8"/>
<line x1="398" y1="77.43" x2="400" y2="77.43" stroke="#000" stroke-width="0.8"/>
<line x1="398" y1="73.53" x2="400" y2="73.53" stroke="#000" stroke-width="0.8"/>
<line x1="398" y1="69.64" x2="400" y2="69.64" stroke="#000" stroke-width="0.8"/>
<line x1="396" y1="65.74" x2="400" y2="65.74" stroke="#666" stroke-width="0.8"/>
<line x1="398" y1="61.85" x2="400" y2="61.85" stroke="#000" stroke-width="0.8"/>
<line x1="398" y1="57.95" x2="400" y2="57.95" stroke="#000" stroke-width="0.8"/>
<line x1="398" y1="54.06" x2="400" y2="54.06" stroke="#000" stroke-width="0.8"/>
<line x1="398" y1="50.17" x2="400" y2="50.17" stroke="#000" stroke-width="0.8"/>
<line x1="396" y1="46.27" x2="400" y2="46.27" stroke="#666" stroke-width="0.8"/>
<line x1="398" y1="42.38" x2="400" y2="42.38" stroke="#000" stroke-width="0.8"/>
<line x1="398" y1="38.48" x2="400" y2="38.48" stroke="#000" stroke-width="0.8"/>
<line x1="398" y1="34.59" x2="400" y2="34.59" stroke="#000" stroke-width="0.8"/>
<line x1="398" y1="30.69" x2="400" y2="30.69" stroke="#000" stroke-width="0.8"/>
<line x1="396" y1="26.80" x2="400" y2="26.80" stroke="#666" stroke-width="0.8"/>
<line x1="400.00" y1="163.1" x2="400.00" y2="167.00" stroke="#555" stroke-width="0.8"/>
<line x1="427.24" y1="163.1" x2="427.24" y2="166.00" stroke="#555" stroke-width="0.8"/>
<line x1="454.48" y1="163.1" x2="454.48" y2="166.00" stroke="#555" stroke-width="0.8"/>
<line x1="481.72" y1="163.1" x2="481.72" y2="166.00" stroke="#555" stroke-width="0.8"/>
<line x1="508.96" y1="163.1" x2="508.96" y2="166.00" stroke="#555" stroke-width="0.8"/>
<line x1="536.20" y1="163.1" x2="536.20" y2="167.00" stroke="#555" stroke-width="0.8"/>
<line x1="563.44" y1="163.1" x2="563.44" y2="166.00" stroke="#555" stroke-width="0.8"/>
<line x1="590.68" y1="163.1" x2="590.68" y2="166.00" stroke="#555" stroke-width="0.8"/>
<line x1="617.92" y1="163.1" x2="617.92" y2="166.00" stroke="#555" stroke-width="0.8"/>
<line x1="645.16" y1="163.1" x2="645.16" y2="166.00" stroke="#555" stroke-width="0.8"/>
<line x1="672.40" y1="163.1" x2="672.40" y2="167.00" stroke="#555" stroke-width="0.8"/>
<text transform="translate(382.59,166.40) scale(0.0786,0.0958)" font-size="100" fill="#1e1e1e">0.0</text>
<text transform="translate(382.59,146.93) scale(0.0786,0.0958)" font-size="100" fill="#1e1e1e">0.5</text>
<text transform="translate(382.25,127.46) scale(0.0811,0.0958)" font-size="100" fill="#1e1e1e">1.0</text>
<text transform="translate(382.25,107.99) scale(0.0811,0.0971)" font-size="100" fill="#1e1e1e">1.5</text>
<text transform="translate(382.50,88.52) scale(0.0792,0.0958)" font-size="100" fill="#1e1e1e">2.0</text>
<text transform="translate(382.50,69.05) scale(0.0792,0.0958)" font-size="100" fill="#1e1e1e">2.5</text>
<text transform="translate(382.59,49.58) scale(0.0786,0.0958)" font-size="100" fill="#1e1e1e">3.0</text>
<text transform="translate(382.59,30.10) scale(0.0786,0.0958)" font-size="100" fill="#1e1e1e">3.5</text>
<text transform="translate(394.38,174.61) scale(0.0794,0.0901)" font-size="100" fill="#1e1e1e">0.0</text>
<text transform="translate(530.58,174.61) scale(0.0794,0.0901)" font-size="100" fill="#1e1e1e">0.5</text>
<text transform="translate(666.44,174.61) scale(0.0819,0.0901)" font-size="100" fill="#1e1e1e">1.0</text>
<text transform="translate(510.16,187.80) scale(0.1179,0.1191)" font-size="100" fill="#1e1e1e">time[days]</text>
<text transform="translate(387.31,188.80) scale(0.0986,0.1000)" font-size="100" fill="#1e1e1e">(08:33:54 May 15, 2015)</text>
<text transform="translate(377.66,129.66) rotate(-90) scale(0.1199,0.1160)" font-size="100" fill="#1e1e1e">Distance[km]</text>
<rect x="615.80" y="32.90" width="69.60" height="16.40" fill="#fff" stroke="#000" stroke-width="1.4"/>
<rect x="619.90" y="39.30" width="11.6" height="4" fill="#00fa0a"/>
<text transform="translate(635.33,43.91) scale(0.0841,0.0901)" font-size="100" fill="#1e1e1e">D=6.20 m</text>
<text transform="translate(671.75,39.90) scale(0.0500,0.0500)" font-size="100" fill="#1e1e1e">2</text>
<text transform="translate(674.70,44.31) scale(0.0878,0.0878)" font-size="100" fill="#1e1e1e">/s</text>
<rect x="427.1" y="200.95" width="217.60" height="8.70" fill="url(#hot)" stroke="#000" stroke-width="1.5"/>
<path d="M427.1,200.95 L422.10,205.30 L427.1,209.65 Z" fill="#000" stroke="#000" stroke-width="1.5" stroke-linejoin="miter"/>
<path d="M644.7,200.95 L649.10,205.30 L644.7,209.65 Z" fill="#fff" stroke="#000" stroke-width="1.5"/>
<line x1="644.7" y1="200.2" x2="644.7" y2="210.4" stroke="#000" stroke-width="1.8"/>
<line x1="427.10" y1="210.4" x2="427.10" y2="212.90" stroke="#666" stroke-width="0.8"/>
<line x1="448.86" y1="210.4" x2="448.86" y2="212.90" stroke="#666" stroke-width="0.8"/>
<line x1="470.62" y1="210.4" x2="470.62" y2="212.90" stroke="#666" stroke-width="0.8"/>
<line x1="492.38" y1="210.4" x2="492.38" y2="212.90" stroke="#666" stroke-width="0.8"/>
<line x1="514.14" y1="210.4" x2="514.14" y2="212.90" stroke="#666" stroke-width="0.8"/>
<line x1="535.90" y1="210.4" x2="535.90" y2="212.90" stroke="#666" stroke-width="0.8"/>
<line x1="557.66" y1="210.4" x2="557.66" y2="212.90" stroke="#666" stroke-width="0.8"/>
<line x1="579.42" y1="210.4" x2="579.42" y2="212.90" stroke="#666" stroke-width="0.8"/>
<line x1="601.18" y1="210.4" x2="601.18" y2="212.90" stroke="#666" stroke-width="0.8"/>
<line x1="622.94" y1="210.4" x2="622.94" y2="212.90" stroke="#666" stroke-width="0.8"/>
<line x1="644.70" y1="210.4" x2="644.70" y2="212.90" stroke="#666" stroke-width="0.8"/>
<text transform="translate(420.98,221.51) scale(0.0809,0.0887)" font-size="100" fill="#1e1e1e">0.0</text>
<text transform="translate(463.97,221.51) scale(0.0815,0.0887)" font-size="100" fill="#1e1e1e">0.2</text>
<text transform="translate(506.97,221.51) scale(0.0803,0.0887)" font-size="100" fill="#1e1e1e">0.4</text>
<text transform="translate(549.97,221.51) scale(0.0809,0.0887)" font-size="100" fill="#1e1e1e">0.6</text>
<text transform="translate(592.97,221.51) scale(0.0809,0.0887)" font-size="100" fill="#1e1e1e">0.8</text>
<text transform="translate(635.62,221.51) scale(0.0835,0.0887)" font-size="100" fill="#1e1e1e">1.0</text>
<text transform="translate(509.97,234.39) scale(0.1174,0.1053)" font-size="100" fill="#1e1e1e">time[days]</text>
<text transform="translate(8.86,272.80) scale(0.1740,0.1809)" font-size="100" fill="#1e1e1e">(c)</text>
<g clip-path="url(#clipc)">
<circle cx="199.8" cy="393.0" r="0.7" fill="#8c3900" stroke="#000" stroke-width="0.4"/>
<circle cx="150.2" cy="409.8" r="0.85" fill="#810000" stroke="#000" stroke-width="0.4"/>
<circle cx="141.8" cy="402.4" r="0.7" fill="#750000" stroke="#000" stroke-width="0.4"/>
<circle cx="270.7" cy="381.1" r="0.7" fill="#8c8c15" stroke="#000" stroke-width="0.4"/>
<circle cx="256.8" cy="403.4" r="0.7" fill="#8c8700" stroke="#000" stroke-width="0.4"/>
<circle cx="202.5" cy="404.6" r="0.6" fill="#8c3d00" stroke="#000" stroke-width="0.4"/>
<circle cx="224.6" cy="397.0" r="0.6" fill="#8c5b00" stroke="#000" stroke-width="0.4"/>
<circle cx="261.0" cy="391.2" r="0.5" fill="#8c8c01" stroke="#000" stroke-width="0.4"/>
<circle cx="217.9" cy="399.3" r="0.7" fill="#8c5100" stroke="#000" stroke-width="0.4"/>
<circle cx="290.9" cy="399.0" r="0.5" fill="#8c8c3e" stroke="#000" stroke-width="0.4"/>
<circle cx="314.5" cy="379.4" r="0.5" fill="#8c8c6f" stroke="#000" stroke-width="0.4"/>
<circle cx="87.7" cy="406.6" r="0.8" fill="#4f0000" stroke="#000" stroke-width="0.45" opacity="0.85"/>
<circle cx="89.7" cy="404.6" r="0.8" fill="#540000" stroke="#000" stroke-width="0.45" opacity="0.85"/>
<circle cx="92.2" cy="406.2" r="0.8" fill="#5a0000" stroke="#000" stroke-width="0.45" opacity="0.85"/>
<circle cx="110.8" cy="408.6" r="0.8" fill="#890000" stroke="#000" stroke-width="0.45" opacity="0.85"/>
<circle cx="110.8" cy="399.9" r="0.55" fill="#555" opacity="0.6"/>
<circle cx="117.3" cy="397.2" r="1.00" fill="#990000" stroke="#000" stroke-width="0.5"/>
<circle cx="131.2" cy="397.4" r="0.55" fill="#555" opacity="0.6"/>
<circle cx="137.1" cy="397.2" r="0.8" fill="#ca0000" stroke="#000" stroke-width="0.45" opacity="0.85"/>
<circle cx="136.7" cy="391.7" r="0.55" fill="#555" opacity="0.6"/>
<circle cx="161.3" cy="397.4" r="0.55" fill="#555" opacity="0.6"/>
<circle cx="161.3" cy="387.2" r="0.55" fill="#555" opacity="0.6"/>
<circle cx="169" cy="396.8" r="0.55" fill="#555" opacity="0.6"/>
<circle cx="192.5" cy="405.4" r="1.00" fill="#ff5600" stroke="#000" stroke-width="0.5"/>
<circle cx="208.1" cy="388.7" r="2.00" fill="#ff7d00" stroke="#000" stroke-width="0.5"/>
<circle cx="196.2" cy="408.4" r="0.55" fill="#555" opacity="0.6"/>
<circle cx="200.6" cy="410.3" r="0.55" fill="#555" opacity="0.6"/>
<circle cx="208.7" cy="395.9" r="0.8" fill="#ff7e00" stroke="#000" stroke-width="0.45" opacity="0.85"/>
<circle cx="210.6" cy="397.4" r="0.8" fill="#ff8300" stroke="#000" stroke-width="0.45" opacity="0.85"/>
<circle cx="213.1" cy="399.3" r="0.8" fill="#ff8900" stroke="#000" stroke-width="0.45" opacity="0.85"/>
<circle cx="215.6" cy="401.4" r="0.8" fill="#ff8f00" stroke="#000" stroke-width="0.45" opacity="0.85"/>
<circle cx="229.3" cy="403.9" r="2.00" fill="#ffb200" stroke="#000" stroke-width="0.5"/>
<circle cx="227.4" cy="398.9" r="0.55" fill="#555" opacity="0.6"/>
<circle cx="232.4" cy="388.9" r="0.8" fill="#ffb900" stroke="#000" stroke-width="0.45" opacity="0.85"/>
<circle cx="233.7" cy="385.6" r="0.55" fill="#555" opacity="0.6"/>
<circle cx="238.7" cy="382.7" r="2.00" fill="#ffc900" stroke="#000" stroke-width="0.5"/>
<circle cx="238" cy="379.3" r="0.8" fill="#ffc700" stroke="#000" stroke-width="0.45" opacity="0.85"/>
<circle cx="244.9" cy="383.5" r="2.00" fill="#ffd900" stroke="#000" stroke-width="0.5"/>
<circle cx="250.5" cy="383.9" r="1.00" fill="#ffe700" stroke="#000" stroke-width="0.5"/>
<circle cx="253" cy="381" r="0.8" fill="#ffed00" stroke="#000" stroke-width="0.45" opacity="0.85"/>
<circle cx="255.5" cy="383.5" r="0.8" fill="#fff300" stroke="#000" stroke-width="0.45" opacity="0.85"/>
<circle cx="256.1" cy="377.5" r="0.8" fill="#fff500" stroke="#000" stroke-width="0.45" opacity="0.85"/>
<circle cx="259.3" cy="380.6" r="0.8" fill="#fffd00" stroke="#000" stroke-width="0.45" opacity="0.85"/>
<circle cx="241.8" cy="395.6" r="1.50" fill="#ffd100" stroke="#000" stroke-width="0.5"/>
<circle cx="252.4" cy="396.2" r="0.8" fill="#ffeb00" stroke="#000" stroke-width="0.45" opacity="0.85"/>
<circle cx="222.4" cy="374.3" r="0.55" fill="#555" opacity="0.6"/>
<circle cx="222.4" cy="380.6" r="0.55" fill="#555" opacity="0.6"/>
<circle cx="256.2" cy="378.1" r="0.8" fill="#fff500" stroke="#000" stroke-width="0.45" opacity="0.85"/>
<circle cx="259.7" cy="377.5" r="0.8" fill="#fffe00" stroke="#000" stroke-width="0.45" opacity="0.85"/>
<circle cx="260" cy="380.9" r="0.8" fill="#fffe00" stroke="#000" stroke-width="0.45" opacity="0.85"/>
<circle cx="256" cy="383.5" r="0.8" fill="#fff400" stroke="#000" stroke-width="0.45" opacity="0.85"/>
<circle cx="263.1" cy="382.8" r="0.55" fill="#555" opacity="0.6"/>
<circle cx="268.1" cy="375.6" r="0.55" fill="#555" opacity="0.6"/>
<circle cx="278.1" cy="375.6" r="0.55" fill="#555" opacity="0.6"/>
<circle cx="282.5" cy="392.5" r="0.8" fill="#ffff53" stroke="#000" stroke-width="0.45" opacity="0.85"/>
<circle cx="286.2" cy="390.6" r="0.55" fill="#555" opacity="0.6"/>
<circle cx="291.2" cy="390.6" r="0.55" fill="#555" opacity="0.6"/>
<circle cx="299.4" cy="390.6" r="0.55" fill="#555" opacity="0.6"/>
<circle cx="285.6" cy="402.5" r="0.55" fill="#555" opacity="0.6"/>
<circle cx="261.2" cy="397.5" r="0.55" fill="#555" opacity="0.6"/>
<circle cx="257.5" cy="399.4" r="0.55" fill="#555" opacity="0.6"/>
<circle cx="320.6" cy="391.9" r="1.50" fill="#ffffe2" stroke="#000" stroke-width="0.5"/>
<circle cx="321" cy="397.7" r="0.8" fill="#ffffe3" stroke="#000" stroke-width="0.45" opacity="0.85"/>
<circle cx="326.9" cy="392.3" r="0.55" fill="#555" opacity="0.6"/>
<circle cx="320.6" cy="378.1" r="0.55" fill="#555" opacity="0.6"/>
<circle cx="325.6" cy="381.2" r="0.55" fill="#555" opacity="0.6"/>
<circle cx="311.9" cy="376.5" r="0.55" fill="#555" opacity="0.6"/>
<circle cx="300.6" cy="401.9" r="0.55" fill="#555" opacity="0.6"/>
<circle cx="291.9" cy="404.4" r="0.55" fill="#555" opacity="0.6"/>
<polyline points="56.00,414.10 56.01,413.87 56.03,413.64 56.06,413.41 56.11,413.18 56.17,412.95 56.25,412.72 56.33,412.49 56.44,412.26 56.55,412.03 56.68,411.80 56.82,411.57 56.98,411.33 57.15,411.10 57.33,410.87 57.53,410.64 57.74,410.41 57.97,410.18 58.21,409.95 58.46,409.72 58.72,409.49 59.00,409.26 59.30,409.03 59.60,408.80 59.92,408.57 60.26,408.34 60.60,408.11 60.96,407.88 61.34,407.65 61.73,407.42 62.13,407.19 62.54,406.96 62.97,406.73 63.42,406.50 63.87,406.27 64.34,406.03 64.83,405.80 65.32,405.57 65.83,405.34 66.36,405.11 66.90,404.88 67.45,404.65 68.01,404.42 68.59,404.19 69.18,403.96 69.79,403.73 70.41,403.50 71.04,403.27 71.69,403.04 72.35,402.81 73.03,402.58 73.71,402.35 74.41,402.12 75.13,401.89 75.86,401.66 76.60,401.43 77.36,401.20 78.13,400.97 78.91,400.73 79.71,400.50 80.52,400.27 81.34,400.04 82.18,399.81 83.03,399.58 83.89,399.35 84.77,399.12 85.66,398.89 86.57,398.66 87.49,398.43 88.42,398.20 89.37,397.97 90.33,397.74 91.30,397.51 92.29,397.28 93.29,397.05 94.31,396.82 95.33,396.59 96.38,396.36 97.43,396.13 98.50,395.90 99.58,395.66 100.68,395.43 101.79,395.20 102.91,394.97 104.05,394.74 105.20,394.51 106.37,394.28 107.54,394.05 108.74,393.82 109.94,393.59 111.16,393.36 112.39,393.13 113.64,392.90 114.90,392.67 116.17,392.44 117.46,392.21 118.76,391.98 120.08,391.75 121.40,391.52 122.74,391.29 124.10,391.06 125.47,390.83 126.85,390.60 128.25,390.36 129.66,390.13 131.08,389.90 132.52,389.67 133.97,389.44 135.43,389.21 136.91,388.98 138.40,388.75 139.91,388.52 141.42,388.29 142.96,388.06 144.50,387.83 146.06,387.60 147.64,387.37 149.22,387.14 150.82,386.91 152.44,386.68 154.06,386.45 155.71,386.22 157.36,385.99 159.03,385.76 160.71,385.53 162.41,385.30 164.12,385.06 165.84,384.83 167.58,384.60 169.33,384.37 171.09,384.14 172.87,383.91 174.66,383.68 176.46,383.45 178.28,383.22 180.11,382.99 181.96,382.76 183.82,382.53 185.69,382.30 187.58,382.07 189.48,381.84 191.39,381.61 193.32,381.38 195.26,381.15 197.21,380.92 199.18,380.69 201.16,380.46 203.16,380.23 205.17,380.00 207.19,379.76 209.22,379.53 211.27,379.30 213.34,379.07 215.42,378.84 217.51,378.61 219.61,378.38 221.73,378.15 223.86,377.92 226.00,377.69 228.16,377.46 230.34,377.23 232.52,377.00 234.72,376.77 236.93,376.54 239.16,376.31 241.40,376.08 243.66,375.85 245.92,375.62 248.21,375.39 250.50,375.16 252.81,374.93 255.13,374.70 257.47,374.46 259.82,374.23 262.18,374.00 264.56,373.77 266.95,373.54 269.35,373.31 271.77,373.08 274.20,372.85 276.64,372.62 279.10,372.39 281.57,372.16 284.06,371.93 286.56,371.70 289.07,371.47 291.60,371.24 294.14,371.01 296.69,370.78 299.26,370.55 301.84,370.32 304.44,370.09 307.04,369.86 309.67,369.63 312.30,369.39 314.95,369.16 317.61,368.93 320.29,368.70 322.98,368.47 325.68,368.24 328.40,368.01" fill="none" stroke="#00fa0a" stroke-width="4.3"/>
</g>
<line x1="56" y1="277.80" x2="56" y2="415.10" stroke="#000" stroke-width="2"/>
<line x1="55" y1="414.1" x2="329.00" y2="414.1" stroke="#000" stroke-width="1.8"/>
<line x1="52" y1="414.10" x2="56" y2="414.10" stroke="#666" stroke-width="0.8"/>
<line x1="54" y1="410.21" x2="56" y2="410.21" stroke="#000" stroke-width="0.8"/>
<line x1="54" y1="406.31" x2="56" y2="406.31" stroke="#000" stroke-width="0.8"/>
<line x1="54" y1="402.42" x2="56" y2="402.42" stroke="#000" stroke-width="0.8"/>
<line x1="54" y1="398.52" x2="56" y2="398.52" stroke="#000" stroke-width="0.8"/>
<line x1="52" y1="394.63" x2="56" y2="394.63" stroke="#666" stroke-width="0.8"/>
<line x1="54" y1="390.73" x2="56" y2="390.73" stroke="#000" stroke-width="0.8"/>
<line x1="54" y1="386.84" x2="56" y2="386.84" stroke="#000" stroke-width="0.8"/>
<line x1="54" y1="382.95" x2="56" y2="382.95" stroke="#000" stroke-width="0.8"/>
<line x1="54" y1="379.05" x2="56" y2="379.05" stroke="#000" stroke-width="0.8"/>
<line x1="52" y1="375.16" x2="56" y2="375.16" stroke="#666" stroke-width="0.8"/>
<line x1="54" y1="371.26" x2="56" y2="371.26" stroke="#000" stroke-width="0.8"/>
<line x1="54" y1="367.37" x2="56" y2="367.37" stroke="#000" stroke-width="0.8"/>
<line x1="54" y1="363.47" x2="56" y2="363.47" stroke="#000" stroke-width="0.8"/>
<line x1="54" y1="359.58" x2="56" y2="359.58" stroke="#000" stroke-width="0.8"/>
<line x1="52" y1="355.69" x2="56" y2="355.69" stroke="#666" stroke-width="0.8"/>
<line x1="54" y1="351.79" x2="56" y2="351.79" stroke="#000" stroke-width="0.8"/>
<line x1="54" y1="347.90" x2="56" y2="347.90" stroke="#000" stroke-width="0.8"/>
<line x1="54" y1="344.00" x2="56" y2="344.00" stroke="#000" stroke-width="0.8"/>
<line x1="54" y1="340.11" x2="56" y2="340.11" stroke="#000" stroke-width="0.8"/>
<line x1="52" y1="336.21" x2="56" y2="336.21" stroke="#666" stroke-width="0.8"/>
<line x1="54" y1="332.32" x2="56" y2="332.32" stroke="#000" stroke-width="0.8"/>
<line x1="54" y1="328.43" x2="56" y2="328.43" stroke="#000" stroke-width="0.8"/>
<line x1="54" y1="324.53" x2="56" y2="324.53" stroke="#000" stroke-width="0.8"/>
<line x1="54" y1="320.64" x2="56" y2="320.64" stroke="#000" stroke-width="0.8"/>
<line x1="52" y1="316.74" x2="56" y2="316.74" stroke="#666" stroke-width="0.8"/>
<line x1="54" y1="312.85" x2="56" y2="312.85" stroke="#000" stroke-width="0.8"/>
<line x1="54" y1="308.95" x2="56" y2="308.95" stroke="#000" stroke-width="0.8"/>
<line x1="54" y1="305.06" x2="56" y2="305.06" stroke="#000" stroke-width="0.8"/>
<line x1="54" y1="301.17" x2="56" y2="301.17" stroke="#000" stroke-width="0.8"/>
<line x1="52" y1="297.27" x2="56" y2="297.27" stroke="#666" stroke-width="0.8"/>
<line x1="54" y1="293.38" x2="56" y2="293.38" stroke="#000" stroke-width="0.8"/>
<line x1="54" y1="289.48" x2="56" y2="289.48" stroke="#000" stroke-width="0.8"/>
<line x1="54" y1="285.59" x2="56" y2="285.59" stroke="#000" stroke-width="0.8"/>
<line x1="54" y1="281.69" x2="56" y2="281.69" stroke="#000" stroke-width="0.8"/>
<line x1="52" y1="277.80" x2="56" y2="277.80" stroke="#666" stroke-width="0.8"/>
<line x1="56.00" y1="414.1" x2="56.00" y2="418.00" stroke="#555" stroke-width="0.8"/>
<line x1="83.24" y1="414.1" x2="83.24" y2="417.00" stroke="#555" stroke-width="0.8"/>
<line x1="110.48" y1="414.1" x2="110.48" y2="417.00" stroke="#555" stroke-width="0.8"/>
<line x1="137.72" y1="414.1" x2="137.72" y2="417.00" stroke="#555" stroke-width="0.8"/>
<line x1="164.96" y1="414.1" x2="164.96" y2="417.00" stroke="#555" stroke-width="0.8"/>
<line x1="192.20" y1="414.1" x2="192.20" y2="418.00" stroke="#555" stroke-width="0.8"/>
<line x1="219.44" y1="414.1" x2="219.44" y2="417.00" stroke="#555" stroke-width="0.8"/>
<line x1="246.68" y1="414.1" x2="246.68" y2="417.00" stroke="#555" stroke-width="0.8"/>
<line x1="273.92" y1="414.1" x2="273.92" y2="417.00" stroke="#555" stroke-width="0.8"/>
<line x1="301.16" y1="414.1" x2="301.16" y2="417.00" stroke="#555" stroke-width="0.8"/>
<line x1="328.40" y1="414.1" x2="328.40" y2="418.00" stroke="#555" stroke-width="0.8"/>
<text transform="translate(38.59,417.40) scale(0.0786,0.0958)" font-size="100" fill="#1e1e1e">0.0</text>
<text transform="translate(38.59,397.93) scale(0.0786,0.0958)" font-size="100" fill="#1e1e1e">0.5</text>
<text transform="translate(38.25,378.46) scale(0.0811,0.0958)" font-size="100" fill="#1e1e1e">1.0</text>
<text transform="translate(38.25,358.99) scale(0.0811,0.0971)" font-size="100" fill="#1e1e1e">1.5</text>
<text transform="translate(38.50,339.52) scale(0.0792,0.0958)" font-size="100" fill="#1e1e1e">2.0</text>
<text transform="translate(38.50,320.05) scale(0.0792,0.0958)" font-size="100" fill="#1e1e1e">2.5</text>
<text transform="translate(38.59,300.58) scale(0.0786,0.0958)" font-size="100" fill="#1e1e1e">3.0</text>
<text transform="translate(38.59,281.10) scale(0.0786,0.0958)" font-size="100" fill="#1e1e1e">3.5</text>
<text transform="translate(50.38,425.61) scale(0.0794,0.0901)" font-size="100" fill="#1e1e1e">0.0</text>
<text transform="translate(186.58,425.61) scale(0.0794,0.0901)" font-size="100" fill="#1e1e1e">0.5</text>
<text transform="translate(322.44,425.61) scale(0.0819,0.0901)" font-size="100" fill="#1e1e1e">1.0</text>
<text transform="translate(166.16,438.80) scale(0.1179,0.1191)" font-size="100" fill="#1e1e1e">time[days]</text>
<text transform="translate(44.01,438.53) scale(0.0986,0.1032)" font-size="100" fill="#1e1e1e">(05:18:50 May 18, 2019)</text>
<text transform="translate(33.66,380.66) rotate(-90) scale(0.1199,0.1160)" font-size="100" fill="#1e1e1e">Distance[km]</text>
<rect x="271.40" y="283.70" width="68.70" height="16.40" fill="#fff" stroke="#000" stroke-width="1.4"/>
<rect x="275.50" y="290.10" width="11.6" height="4" fill="#00fa0a"/>
<text transform="translate(291.32,294.71) scale(0.0851,0.0901)" font-size="100" fill="#1e1e1e">D=1.29 m</text>
<text transform="translate(328.15,290.70) scale(0.0500,0.0500)" font-size="100" fill="#1e1e1e">2</text>
<text transform="translate(331.10,295.11) scale(0.0878,0.0878)" font-size="100" fill="#1e1e1e">/s</text>
<rect x="83.3" y="451.95" width="217.60" height="8.80" fill="url(#hot)" stroke="#000" stroke-width="1.5"/>
<path d="M83.3,451.95 L78.30,456.35 L83.3,460.75 Z" fill="#000" stroke="#000" stroke-width="1.5" stroke-linejoin="miter"/>
<path d="M300.9,451.95 L305.30,456.35 L300.9,460.75 Z" fill="#fff" stroke="#000" stroke-width="1.5"/>
<line x1="300.9" y1="451.2" x2="300.9" y2="461.5" stroke="#000" stroke-width="1.8"/>
<line x1="83.30" y1="461.5" x2="83.30" y2="464.00" stroke="#666" stroke-width="0.8"/>
<line x1="105.06" y1="461.5" x2="105.06" y2="464.00" stroke="#666" stroke-width="0.8"/>
<line x1="126.82" y1="461.5" x2="126.82" y2="464.00" stroke="#666" stroke-width="0.8"/>
<line x1="148.58" y1="461.5" x2="148.58" y2="464.00" stroke="#666" stroke-width="0.8"/>
<line x1="170.34" y1="461.5" x2="170.34" y2="464.00" stroke="#666" stroke-width="0.8"/>
<line x1="192.10" y1="461.5" x2="192.10" y2="464.00" stroke="#666" stroke-width="0.8"/>
<line x1="213.86" y1="461.5" x2="213.86" y2="464.00" stroke="#666" stroke-width="0.8"/>
<line x1="235.62" y1="461.5" x2="235.62" y2="464.00" stroke="#666" stroke-width="0.8"/>
<line x1="257.38" y1="461.5" x2="257.38" y2="464.00" stroke="#666" stroke-width="0.8"/>
<line x1="279.14" y1="461.5" x2="279.14" y2="464.00" stroke="#666" stroke-width="0.8"/>
<line x1="300.90" y1="461.5" x2="300.90" y2="464.00" stroke="#666" stroke-width="0.8"/>
<text transform="translate(77.18,472.61) scale(0.0809,0.0887)" font-size="100" fill="#1e1e1e">0.0</text>
<text transform="translate(120.17,472.61) scale(0.0815,0.0887)" font-size="100" fill="#1e1e1e">0.2</text>
<text transform="translate(163.17,472.61) scale(0.0803,0.0887)" font-size="100" fill="#1e1e1e">0.4</text>
<text transform="translate(206.17,472.61) scale(0.0809,0.0887)" font-size="100" fill="#1e1e1e">0.6</text>
<text transform="translate(249.17,472.61) scale(0.0809,0.0887)" font-size="100" fill="#1e1e1e">0.8</text>
<text transform="translate(291.82,472.61) scale(0.0835,0.0887)" font-size="100" fill="#1e1e1e">1.0</text>
<text transform="translate(166.17,485.49) scale(0.1174,0.1053)" font-size="100" fill="#1e1e1e">time[days]</text>
<text transform="translate(354.99,270.20) scale(0.1855,0.1809)" font-size="100" fill="#1e1e1e">(d)</text>
<g clip-path="url(#clipd)">
<circle cx="409.5" cy="401.2" r="0.6" fill="#100000" stroke="#000" stroke-width="0.4"/>
<circle cx="411.6" cy="396.4" r="0.85" fill="#130000" stroke="#000" stroke-width="0.4"/>
<circle cx="417.8" cy="398.8" r="0.85" fill="#1c0000" stroke="#000" stroke-width="0.4"/>
<circle cx="439.0" cy="394.0" r="0.6" fill="#380000" stroke="#000" stroke-width="0.4"/>
<circle cx="431.9" cy="385.4" r="0.5" fill="#2f0000" stroke="#000" stroke-width="0.4"/>
<circle cx="429.6" cy="364.0" r="0.6" fill="#2c0000" stroke="#000" stroke-width="0.4"/>
<circle cx="420.7" cy="398.4" r="0.85" fill="#1f0000" stroke="#000" stroke-width="0.4"/>
<circle cx="439.5" cy="388.4" r="0.5" fill="#390000" stroke="#000" stroke-width="0.4"/>
<circle cx="439.6" cy="388.6" r="0.5" fill="#390000" stroke="#000" stroke-width="0.4"/>
<circle cx="421.0" cy="399.2" r="0.85" fill="#1f0000" stroke="#000" stroke-width="0.4"/>
<circle cx="421.5" cy="386.3" r="0.7" fill="#210000" stroke="#000" stroke-width="0.4"/>
<circle cx="435.7" cy="368.5" r="0.6" fill="#340000" stroke="#000" stroke-width="0.4"/>
<circle cx="411.4" cy="408.4" r="0.6" fill="#120000" stroke="#000" stroke-width="0.4"/>
<circle cx="418.1" cy="406.9" r="0.7" fill="#1c0000" stroke="#000" stroke-width="0.4"/>
<circle cx="438.3" cy="377.2" r="0.5" fill="#380000" stroke="#000" stroke-width="0.4"/>
<circle cx="430.0" cy="379.3" r="0.5" fill="#2c0000" stroke="#000" stroke-width="0.4"/>
<circle cx="435.6" cy="395.7" r="0.5" fill="#340000" stroke="#000" stroke-width="0.4"/>
<circle cx="426.4" cy="413.3" r="0.6" fill="#270000" stroke="#000" stroke-width="0.4"/>
<circle cx="427.3" cy="369.4" r="0.85" fill="#280000" stroke="#000" stroke-width="0.4"/>
<circle cx="425.3" cy="407.1" r="0.6" fill="#250000" stroke="#000" stroke-width="0.4"/>
<circle cx="413.7" cy="382.8" r="0.6" fill="#160000" stroke="#000" stroke-width="0.4"/>
<circle cx="436.9" cy="405.1" r="0.5" fill="#350000" stroke="#000" stroke-width="0.4"/>
<circle cx="434.8" cy="361.6" r="0.6" fill="#330000" stroke="#000" stroke-width="0.4"/>
<circle cx="433.6" cy="384.8" r="0.6" fill="#310000" stroke="#000" stroke-width="0.4"/>
<circle cx="433.9" cy="397.4" r="0.5" fill="#320000" stroke="#000" stroke-width="0.4"/>
<circle cx="421.5" cy="407.2" r="0.6" fill="#210000" stroke="#000" stroke-width="0.4"/>
<circle cx="432.3" cy="408.0" r="0.7" fill="#2f0000" stroke="#000" stroke-width="0.4"/>
<circle cx="433.2" cy="403.5" r="0.5" fill="#300000" stroke="#000" stroke-width="0.4"/>
<circle cx="439.6" cy="383.2" r="0.5" fill="#390000" stroke="#000" stroke-width="0.4"/>
<circle cx="419.2" cy="393.5" r="0.6" fill="#1d0000" stroke="#000" stroke-width="0.4"/>
<circle cx="432.9" cy="407.8" r="0.7" fill="#300000" stroke="#000" stroke-width="0.4"/>
<circle cx="428.0" cy="405.5" r="0.85" fill="#290000" stroke="#000" stroke-width="0.4"/>
<circle cx="435.1" cy="398.3" r="0.6" fill="#330000" stroke="#000" stroke-width="0.4"/>
<circle cx="431.0" cy="389.9" r="0.5" fill="#2d0000" stroke="#000" stroke-width="0.4"/>
<circle cx="414.7" cy="387.7" r="0.7" fill="#170000" stroke="#000" stroke-width="0.4"/>
<circle cx="431.3" cy="367.1" r="0.5" fill="#2e0000" stroke="#000" stroke-width="0.4"/>
<circle cx="434.3" cy="375.5" r="0.7" fill="#320000" stroke="#000" stroke-width="0.4"/>
<circle cx="433.8" cy="400.7" r="0.6" fill="#310000" stroke="#000" stroke-width="0.4"/>
<circle cx="420.3" cy="405.5" r="0.5" fill="#1f0000" stroke="#000" stroke-width="0.4"/>
<circle cx="425.6" cy="381.7" r="0.7" fill="#260000" stroke="#000" stroke-width="0.4"/>
<circle cx="444.7" cy="401.3" r="0.9" fill="#400000" stroke="#000" stroke-width="0.4"/>
<circle cx="416.2" cy="406.1" r="0.9" fill="#190000" stroke="#000" stroke-width="0.4"/>
<circle cx="420.9" cy="408.2" r="1.5" fill="#1f0000" stroke="#000" stroke-width="0.4"/>
<circle cx="418.7" cy="388.7" r="1.5" fill="#1d0000" stroke="#000" stroke-width="0.4"/>
<circle cx="432.2" cy="411.3" r="0.9" fill="#2f0000" stroke="#000" stroke-width="0.4"/>
<circle cx="423.8" cy="388.6" r="0.9" fill="#230000" stroke="#000" stroke-width="0.4"/>
<circle cx="440.2" cy="393.8" r="0.9" fill="#3a0000" stroke="#000" stroke-width="0.4"/>
<circle cx="431.7" cy="383.7" r="1.3" fill="#2e0000" stroke="#000" stroke-width="0.4"/>
<circle cx="411.5" cy="398.6" r="1.1" fill="#130000" stroke="#000" stroke-width="0.4"/>
<circle cx="436.0" cy="400.5" r="1.3" fill="#340000" stroke="#000" stroke-width="0.4"/>
<circle cx="429.8" cy="374.5" r="1.3" fill="#2c0000" stroke="#000" stroke-width="0.4"/>
<circle cx="413.6" cy="404.0" r="0.9" fill="#160000" stroke="#000" stroke-width="0.4"/>
<circle cx="443.4" cy="408.4" r="0.9" fill="#3e0000" stroke="#000" stroke-width="0.4"/>
<circle cx="407.9" cy="411.5" r="1.3" fill="#0e0000" stroke="#000" stroke-width="0.4"/>
<circle cx="424.3" cy="392.1" r="1.5" fill="#240000" stroke="#000" stroke-width="0.4"/>
<circle cx="413.0" cy="382.8" r="1.3" fill="#140000" stroke="#000" stroke-width="0.4"/>
<circle cx="444.8" cy="407.7" r="1.1" fill="#400000" stroke="#000" stroke-width="0.4"/>
<circle cx="423.4" cy="399.1" r="1.3" fill="#230000" stroke="#000" stroke-width="0.4"/>
<circle cx="444.7" cy="406.9" r="0.9" fill="#400000" stroke="#000" stroke-width="0.4"/>
<circle cx="437.5" cy="376.5" r="1.5" fill="#370000" stroke="#000" stroke-width="0.4"/>
<circle cx="431.9" cy="388.7" r="0.9" fill="#2f0000" stroke="#000" stroke-width="0.4"/>
<circle cx="407.5" cy="403.8" r="0.9" fill="#0d0000" stroke="#000" stroke-width="0.4"/>
<circle cx="423.1" cy="388.3" r="1.1" fill="#230000" stroke="#000" stroke-width="0.4"/>
<circle cx="432.9" cy="365.0" r="1.5" fill="#300000" stroke="#000" stroke-width="0.4"/>
<circle cx="420.2" cy="387.8" r="1.3" fill="#1e0000" stroke="#000" stroke-width="0.4"/>
<circle cx="421.6" cy="409.7" r="1.1" fill="#210000" stroke="#000" stroke-width="0.4"/>
<circle cx="422.2" cy="381.1" r="1.3" fill="#220000" stroke="#000" stroke-width="0.4"/>
<circle cx="412.3" cy="403.6" r="1.1" fill="#140000" stroke="#000" stroke-width="0.4"/>
<circle cx="439.0" cy="368.6" r="1.5" fill="#380000" stroke="#000" stroke-width="0.4"/>
<circle cx="438.4" cy="395.9" r="1.5" fill="#380000" stroke="#000" stroke-width="0.4"/>
<circle cx="419.9" cy="394.1" r="0.9" fill="#1e0000" stroke="#000" stroke-width="0.4"/>
<circle cx="428.1" cy="402.3" r="0.9" fill="#290000" stroke="#000" stroke-width="0.4"/>
<circle cx="439.7" cy="372.1" r="0.9" fill="#390000" stroke="#000" stroke-width="0.4"/>
<circle cx="438.3" cy="406.0" r="1.3" fill="#380000" stroke="#000" stroke-width="0.4"/>
<circle cx="444.8" cy="376.0" r="0.9" fill="#400000" stroke="#000" stroke-width="0.4"/>
<circle cx="458.3" cy="404.1" r="0.9" fill="#530000" stroke="#000" stroke-width="0.4"/>
<circle cx="450.7" cy="347.4" r="1.3" fill="#490000" stroke="#000" stroke-width="0.4"/>
<circle cx="462.9" cy="392.5" r="0.9" fill="#590000" stroke="#000" stroke-width="0.4"/>
<circle cx="477.6" cy="391.4" r="0.9" fill="#6e0000" stroke="#000" stroke-width="0.4"/>
<circle cx="474.5" cy="395.3" r="0.9" fill="#690000" stroke="#000" stroke-width="0.4"/>
<circle cx="477.3" cy="388.9" r="0.9" fill="#6d0000" stroke="#000" stroke-width="0.4"/>
<circle cx="468.1" cy="367.4" r="1.1" fill="#600000" stroke="#000" stroke-width="0.4"/>
<circle cx="454.6" cy="389.8" r="0.9" fill="#4e0000" stroke="#000" stroke-width="0.4"/>
<circle cx="479.9" cy="377.3" r="0.9" fill="#710000" stroke="#000" stroke-width="0.4"/>
<circle cx="469.0" cy="390.9" r="0.9" fill="#610000" stroke="#000" stroke-width="0.4"/>
<circle cx="477.8" cy="357.3" r="1.3" fill="#6e0000" stroke="#000" stroke-width="0.4"/>
<circle cx="453.0" cy="383.1" r="1.3" fill="#4b0000" stroke="#000" stroke-width="0.4"/>
<circle cx="464.2" cy="352.7" r="0.9" fill="#5b0000" stroke="#000" stroke-width="0.4"/>
<circle cx="470.5" cy="397.5" r="0.9" fill="#640000" stroke="#000" stroke-width="0.4"/>
<circle cx="475.5" cy="398.9" r="0.9" fill="#6a0000" stroke="#000" stroke-width="0.4"/>
<circle cx="478.6" cy="392.7" r="1.1" fill="#6f0000" stroke="#000" stroke-width="0.4"/>
<circle cx="450.7" cy="388.4" r="0.9" fill="#490000" stroke="#000" stroke-width="0.4"/>
<circle cx="455.5" cy="373.6" r="0.9" fill="#4f0000" stroke="#000" stroke-width="0.4"/>
<circle cx="475.2" cy="402.7" r="0.9" fill="#6a0000" stroke="#000" stroke-width="0.4"/>
<circle cx="462.0" cy="358.3" r="1.3" fill="#580000" stroke="#000" stroke-width="0.4"/>
<circle cx="460.8" cy="382.9" r="0.85" fill="#560000" stroke="#000" stroke-width="0.4"/>
<circle cx="450.2" cy="383.0" r="0.5" fill="#480000" stroke="#000" stroke-width="0.4"/>
<circle cx="472.3" cy="408.2" r="0.85" fill="#660000" stroke="#000" stroke-width="0.4"/>
<circle cx="467.9" cy="339.5" r="0.5" fill="#600000" stroke="#000" stroke-width="0.4"/>
<circle cx="483.3" cy="365.3" r="0.7" fill="#750000" stroke="#000" stroke-width="0.4"/>
<circle cx="496.0" cy="413.3" r="0.85" fill="#870000" stroke="#000" stroke-width="0.4"/>
<circle cx="498.5" cy="366.9" r="0.7" fill="#8a0000" stroke="#000" stroke-width="0.4"/>
<circle cx="466.7" cy="408.5" r="0.7" fill="#5f0000" stroke="#000" stroke-width="0.4"/>
<circle cx="496.6" cy="349.4" r="0.5" fill="#870000" stroke="#000" stroke-width="0.4"/>
<circle cx="495.9" cy="397.4" r="0.5" fill="#860000" stroke="#000" stroke-width="0.4"/>
<circle cx="487.9" cy="400.7" r="0.85" fill="#7b0000" stroke="#000" stroke-width="0.4"/>
<circle cx="459.6" cy="359.1" r="0.7" fill="#550000" stroke="#000" stroke-width="0.4"/>
<circle cx="463.3" cy="377.2" r="0.6" fill="#5a0000" stroke="#000" stroke-width="0.4"/>
<circle cx="460.2" cy="403.8" r="0.85" fill="#550000" stroke="#000" stroke-width="0.4"/>
<circle cx="498.8" cy="368.1" r="0.5" fill="#8b0000" stroke="#000" stroke-width="0.4"/>
<circle cx="478.8" cy="383.2" r="0.5" fill="#6f0000" stroke="#000" stroke-width="0.4"/>
<circle cx="495.7" cy="378.5" r="0.85" fill="#860000" stroke="#000" stroke-width="0.4"/>
<circle cx="477.5" cy="391.6" r="0.85" fill="#6e0000" stroke="#000" stroke-width="0.4"/>
<circle cx="482.0" cy="353.8" r="0.5" fill="#740000" stroke="#000" stroke-width="0.4"/>
<circle cx="478.6" cy="384.9" r="0.7" fill="#6f0000" stroke="#000" stroke-width="0.4"/>
<circle cx="452.2" cy="404.8" r="0.7" fill="#4a0000" stroke="#000" stroke-width="0.4"/>
<circle cx="483.8" cy="377.0" r="0.85" fill="#760000" stroke="#000" stroke-width="0.4"/>
<circle cx="451.2" cy="346.1" r="0.6" fill="#490000" stroke="#000" stroke-width="0.4"/>
<circle cx="491.9" cy="361.8" r="0.7" fill="#810000" stroke="#000" stroke-width="0.4"/>
<circle cx="476.2" cy="355.3" r="0.85" fill="#6b0000" stroke="#000" stroke-width="0.4"/>
<circle cx="497.9" cy="383.4" r="0.6" fill="#890000" stroke="#000" stroke-width="0.4"/>
<circle cx="480.6" cy="342.3" r="0.85" fill="#710000" stroke="#000" stroke-width="0.4"/>
<circle cx="467.3" cy="352.7" r="0.5" fill="#5f0000" stroke="#000" stroke-width="0.4"/>
<circle cx="481.7" cy="356.2" r="0.85" fill="#730000" stroke="#000" stroke-width="0.4"/>
<circle cx="475.0" cy="395.8" r="0.85" fill="#6a0000" stroke="#000" stroke-width="0.4"/>
<circle cx="492.0" cy="357.0" r="0.6" fill="#810000" stroke="#000" stroke-width="0.4"/>
<circle cx="472.9" cy="350.7" r="0.5" fill="#670000" stroke="#000" stroke-width="0.4"/>
<circle cx="497.8" cy="376.5" r="0.5" fill="#890000" stroke="#000" stroke-width="0.4"/>
<circle cx="491.3" cy="350.8" r="0.85" fill="#800000" stroke="#000" stroke-width="0.4"/>
<circle cx="446.7" cy="392.0" r="0.85" fill="#430000" stroke="#000" stroke-width="0.4"/>
<circle cx="451.7" cy="343.1" r="0.6" fill="#4a0000" stroke="#000" stroke-width="0.4"/>
<circle cx="448.7" cy="410.5" r="0.5" fill="#450000" stroke="#000" stroke-width="0.4"/>
<circle cx="467.5" cy="394.3" r="0.5" fill="#600000" stroke="#000" stroke-width="0.4"/>
<circle cx="450.7" cy="359.0" r="0.6" fill="#480000" stroke="#000" stroke-width="0.4"/>
<circle cx="441.8" cy="371.7" r="0.7" fill="#3c0000" stroke="#000" stroke-width="0.4"/>
<circle cx="479.6" cy="345.1" r="0.85" fill="#700000" stroke="#000" stroke-width="0.4"/>
<circle cx="492.8" cy="407.1" r="0.85" fill="#820000" stroke="#000" stroke-width="0.4"/>
<circle cx="444.8" cy="386.5" r="0.6" fill="#400000" stroke="#000" stroke-width="0.4"/>
<circle cx="490.7" cy="409.5" r="0.5" fill="#7f0000" stroke="#000" stroke-width="0.4"/>
<circle cx="454.9" cy="408.7" r="0.85" fill="#4e0000" stroke="#000" stroke-width="0.4"/>
<circle cx="474.8" cy="359.1" r="0.5" fill="#6a0000" stroke="#000" stroke-width="0.4"/>
<circle cx="461.8" cy="387.0" r="0.6" fill="#580000" stroke="#000" stroke-width="0.4"/>
<circle cx="471.0" cy="361.7" r="0.85" fill="#640000" stroke="#000" stroke-width="0.4"/>
<circle cx="494.1" cy="347.4" r="0.5" fill="#840000" stroke="#000" stroke-width="0.4"/>
<circle cx="468.9" cy="404.1" r="0.5" fill="#610000" stroke="#000" stroke-width="0.4"/>
<circle cx="482.6" cy="375.2" r="0.5" fill="#740000" stroke="#000" stroke-width="0.4"/>
<circle cx="483.2" cy="385.9" r="0.7" fill="#750000" stroke="#000" stroke-width="0.4"/>
<circle cx="470.1" cy="403.5" r="0.5" fill="#630000" stroke="#000" stroke-width="0.4"/>
<circle cx="474.1" cy="362.4" r="0.7" fill="#690000" stroke="#000" stroke-width="0.4"/>
<circle cx="468.8" cy="348.8" r="0.6" fill="#610000" stroke="#000" stroke-width="0.4"/>
<circle cx="488.4" cy="379.3" r="0.7" fill="#7c0000" stroke="#000" stroke-width="0.4"/>
<circle cx="467.0" cy="380.0" r="0.5" fill="#5f0000" stroke="#000" stroke-width="0.4"/>
<circle cx="464.2" cy="396.4" r="0.5" fill="#5b0000" stroke="#000" stroke-width="0.4"/>
<circle cx="476.2" cy="358.7" r="0.7" fill="#6b0000" stroke="#000" stroke-width="0.4"/>
<circle cx="482.1" cy="347.2" r="0.7" fill="#740000" stroke="#000" stroke-width="0.4"/>
<circle cx="495.5" cy="348.2" r="0.6" fill="#860000" stroke="#000" stroke-width="0.4"/>
<circle cx="497.6" cy="401.8" r="0.6" fill="#890000" stroke="#000" stroke-width="0.4"/>
<circle cx="488.8" cy="391.7" r="0.5" fill="#7d0000" stroke="#000" stroke-width="0.4"/>
<circle cx="466.9" cy="394.2" r="0.6" fill="#5f0000" stroke="#000" stroke-width="0.4"/>
<circle cx="447.8" cy="345.2" r="0.85" fill="#440000" stroke="#000" stroke-width="0.4"/>
<circle cx="458.9" cy="354.2" r="0.5" fill="#540000" stroke="#000" stroke-width="0.4"/>
<circle cx="485.8" cy="382.7" r="0.85" fill="#790000" stroke="#000" stroke-width="0.4"/>
<circle cx="486.3" cy="353.2" r="0.7" fill="#790000" stroke="#000" stroke-width="0.4"/>
<circle cx="495.8" cy="367.4" r="0.85" fill="#860000" stroke="#000" stroke-width="0.4"/>
<circle cx="453.5" cy="401.6" r="0.5" fill="#4d0000" stroke="#000" stroke-width="0.4"/>
<circle cx="467.4" cy="373.7" r="0.5" fill="#5f0000" stroke="#000" stroke-width="0.4"/>
<circle cx="463.2" cy="381.1" r="0.85" fill="#5a0000" stroke="#000" stroke-width="0.4"/>
<circle cx="491.2" cy="353.6" r="0.85" fill="#800000" stroke="#000" stroke-width="0.4"/>
<circle cx="452.1" cy="386.2" r="0.6" fill="#4a0000" stroke="#000" stroke-width="0.4"/>
<circle cx="487.7" cy="360.3" r="0.85" fill="#7b0000" stroke="#000" stroke-width="0.4"/>
<circle cx="467.4" cy="359.7" r="0.85" fill="#5f0000" stroke="#000" stroke-width="0.4"/>
<circle cx="497.2" cy="409.1" r="0.5" fill="#880000" stroke="#000" stroke-width="0.4"/>
<circle cx="492.9" cy="373.1" r="0.6" fill="#820000" stroke="#000" stroke-width="0.4"/>
<circle cx="482.7" cy="379.0" r="0.85" fill="#740000" stroke="#000" stroke-width="0.4"/>
<circle cx="460.0" cy="356.0" r="0.7" fill="#550000" stroke="#000" stroke-width="0.4"/>
<circle cx="523.6" cy="371.3" r="0.85" fill="#8c2100" stroke="#000" stroke-width="0.4"/>
<circle cx="551.4" cy="406.9" r="0.7" fill="#8c4600" stroke="#000" stroke-width="0.4"/>
<circle cx="516.7" cy="410.7" r="0.5" fill="#8c1700" stroke="#000" stroke-width="0.4"/>
<circle cx="557.3" cy="349.5" r="0.85" fill="#8c4f00" stroke="#000" stroke-width="0.4"/>
<circle cx="521.3" cy="408.9" r="0.85" fill="#8c1d00" stroke="#000" stroke-width="0.4"/>
<circle cx="503.7" cy="384.5" r="0.7" fill="#8c0500" stroke="#000" stroke-width="0.4"/>
<circle cx="543.1" cy="382.5" r="0.5" fill="#8c3b00" stroke="#000" stroke-width="0.4"/>
<circle cx="541.6" cy="336.6" r="0.5" fill="#8c3900" stroke="#000" stroke-width="0.4"/>
<circle cx="529.1" cy="404.1" r="0.7" fill="#8c2800" stroke="#000" stroke-width="0.4"/>
<circle cx="505.7" cy="337.8" r="0.85" fill="#8c0800" stroke="#000" stroke-width="0.4"/>
<circle cx="553.7" cy="386.9" r="0.6" fill="#8c4a00" stroke="#000" stroke-width="0.4"/>
<circle cx="511.7" cy="379.6" r="0.6" fill="#8c1000" stroke="#000" stroke-width="0.4"/>
<circle cx="505.7" cy="343.6" r="0.7" fill="#8c0800" stroke="#000" stroke-width="0.4"/>
<circle cx="524.9" cy="356.7" r="0.7" fill="#8c2200" stroke="#000" stroke-width="0.4"/>
<circle cx="520.7" cy="365.4" r="0.6" fill="#8c1c00" stroke="#000" stroke-width="0.4"/>
<circle cx="534.1" cy="392.4" r="0.7" fill="#8c2f00" stroke="#000" stroke-width="0.4"/>
<circle cx="525.9" cy="373.5" r="0.6" fill="#8c2300" stroke="#000" stroke-width="0.4"/>
<circle cx="523.4" cy="350.7" r="0.6" fill="#8c2000" stroke="#000" stroke-width="0.4"/>
<circle cx="524.9" cy="366.9" r="0.7" fill="#8c2200" stroke="#000" stroke-width="0.4"/>
<circle cx="526.2" cy="389.6" r="0.6" fill="#8c2400" stroke="#000" stroke-width="0.4"/>
<circle cx="523.4" cy="349.3" r="0.6" fill="#8c2000" stroke="#000" stroke-width="0.4"/>
<circle cx="500.8" cy="365.2" r="0.7" fill="#8c0100" stroke="#000" stroke-width="0.4"/>
<circle cx="556.3" cy="405.5" r="0.5" fill="#8c4d00" stroke="#000" stroke-width="0.4"/>
<circle cx="555.5" cy="354.3" r="0.5" fill="#8c4c00" stroke="#000" stroke-width="0.4"/>
<circle cx="554.5" cy="359.8" r="0.7" fill="#8c4b00" stroke="#000" stroke-width="0.4"/>
<circle cx="516.7" cy="362.7" r="0.85" fill="#8c1700" stroke="#000" stroke-width="0.4"/>
<circle cx="523.9" cy="350.3" r="0.6" fill="#8c2100" stroke="#000" stroke-width="0.4"/>
<circle cx="531.2" cy="409.4" r="0.7" fill="#8c2b00" stroke="#000" stroke-width="0.4"/>
<circle cx="541.3" cy="364.4" r="0.5" fill="#8c3900" stroke="#000" stroke-width="0.4"/>
<circle cx="549.5" cy="358.6" r="0.6" fill="#8c4400" stroke="#000" stroke-width="0.4"/>
<circle cx="556.4" cy="363.2" r="0.6" fill="#8c4d00" stroke="#000" stroke-width="0.4"/>
<circle cx="551.3" cy="342.3" r="0.85" fill="#8c4600" stroke="#000" stroke-width="0.4"/>
<circle cx="507.7" cy="341.3" r="0.7" fill="#8c0b00" stroke="#000" stroke-width="0.4"/>
<circle cx="543.0" cy="348.1" r="0.5" fill="#8c3b00" stroke="#000" stroke-width="0.4"/>
<circle cx="525.6" cy="385.7" r="0.5" fill="#8c2300" stroke="#000" stroke-width="0.4"/>
<circle cx="524.3" cy="339.4" r="0.85" fill="#8c2100" stroke="#000" stroke-width="0.4"/>
<circle cx="524.9" cy="342.3" r="0.6" fill="#8c2200" stroke="#000" stroke-width="0.4"/>
<circle cx="529.1" cy="361.3" r="0.7" fill="#8c2800" stroke="#000" stroke-width="0.4"/>
<circle cx="530.9" cy="381.7" r="0.7" fill="#8c2a00" stroke="#000" stroke-width="0.4"/>
<circle cx="520.0" cy="365.2" r="0.6" fill="#8c1c00" stroke="#000" stroke-width="0.4"/>
<circle cx="538.2" cy="342.8" r="0.85" fill="#8c3400" stroke="#000" stroke-width="0.4"/>
<circle cx="554.1" cy="344.5" r="0.6" fill="#8c4a00" stroke="#000" stroke-width="0.4"/>
<circle cx="517.2" cy="352.3" r="0.5" fill="#8c1800" stroke="#000" stroke-width="0.4"/>
<circle cx="503.1" cy="339.1" r="0.5" fill="#8c0400" stroke="#000" stroke-width="0.4"/>
<circle cx="556.4" cy="405.0" r="0.6" fill="#8c4e00" stroke="#000" stroke-width="0.4"/>
<circle cx="500.7" cy="409.8" r="0.6" fill="#8c0100" stroke="#000" stroke-width="0.4"/>
<circle cx="522.7" cy="341.2" r="0.7" fill="#8c1f00" stroke="#000" stroke-width="0.4"/>
<circle cx="534.2" cy="411.0" r="0.7" fill="#8c2f00" stroke="#000" stroke-width="0.4"/>
<circle cx="543.4" cy="349.3" r="0.7" fill="#8c3b00" stroke="#000" stroke-width="0.4"/>
<circle cx="538.9" cy="373.9" r="0.7" fill="#8c3500" stroke="#000" stroke-width="0.4"/>
<circle cx="504.1" cy="339.9" r="0.7" fill="#8c0600" stroke="#000" stroke-width="0.4"/>
<circle cx="504.5" cy="400.5" r="0.85" fill="#8c0600" stroke="#000" stroke-width="0.4"/>
<circle cx="531.1" cy="394.4" r="0.5" fill="#8c2a00" stroke="#000" stroke-width="0.4"/>
<circle cx="517.5" cy="402.0" r="0.7" fill="#8c1800" stroke="#000" stroke-width="0.4"/>
<circle cx="525.0" cy="342.4" r="0.6" fill="#8c2200" stroke="#000" stroke-width="0.4"/>
<circle cx="555.6" cy="374.2" r="0.6" fill="#8c4c00" stroke="#000" stroke-width="0.4"/>
<circle cx="525.5" cy="398.0" r="0.7" fill="#8c2300" stroke="#000" stroke-width="0.4"/>
<circle cx="513.9" cy="341.6" r="0.5" fill="#8c1300" stroke="#000" stroke-width="0.4"/>
<circle cx="543.9" cy="394.3" r="0.7" fill="#8c3c00" stroke="#000" stroke-width="0.4"/>
<circle cx="514.4" cy="357.3" r="0.7" fill="#8c1300" stroke="#000" stroke-width="0.4"/>
<circle cx="564.1" cy="370.1" r="0.7" fill="#8c5800" stroke="#000" stroke-width="0.4"/>
<circle cx="579.9" cy="349.2" r="0.5" fill="#8c6e00" stroke="#000" stroke-width="0.4"/>
<circle cx="568.5" cy="335.2" r="0.5" fill="#8c5e00" stroke="#000" stroke-width="0.4"/>
<circle cx="612.6" cy="353.1" r="0.6" fill="#8c8c16" stroke="#000" stroke-width="0.4"/>
<circle cx="588.6" cy="413.2" r="0.7" fill="#8c7a00" stroke="#000" stroke-width="0.4"/>
<circle cx="599.3" cy="382.4" r="0.6" fill="#8c8800" stroke="#000" stroke-width="0.4"/>
<circle cx="575.2" cy="386.8" r="0.6" fill="#8c6700" stroke="#000" stroke-width="0.4"/>
<circle cx="584.5" cy="350.4" r="0.5" fill="#8c7400" stroke="#000" stroke-width="0.4"/>
<circle cx="567.0" cy="349.1" r="0.5" fill="#8c5c00" stroke="#000" stroke-width="0.4"/>
<circle cx="573.9" cy="373.6" r="0.7" fill="#8c6500" stroke="#000" stroke-width="0.4"/>
<circle cx="571.7" cy="413.1" r="0.7" fill="#8c6300" stroke="#000" stroke-width="0.4"/>
<circle cx="581.2" cy="389.2" r="0.7" fill="#8c6f00" stroke="#000" stroke-width="0.4"/>
<circle cx="594.6" cy="373.4" r="0.7" fill="#8c8200" stroke="#000" stroke-width="0.4"/>
<circle cx="566.1" cy="334.7" r="0.7" fill="#8c5b00" stroke="#000" stroke-width="0.4"/>
<circle cx="595.0" cy="349.4" r="0.5" fill="#8c8200" stroke="#000" stroke-width="0.4"/>
<circle cx="600.7" cy="411.8" r="0.6" fill="#8c8a00" stroke="#000" stroke-width="0.4"/>
<circle cx="602.9" cy="333.2" r="0.5" fill="#8c8c02" stroke="#000" stroke-width="0.4"/>
<circle cx="592.1" cy="408.1" r="0.7" fill="#8c7e00" stroke="#000" stroke-width="0.4"/>
<circle cx="645.8" cy="379.5" r="0.5" fill="#8c8c5a" stroke="#000" stroke-width="0.4"/>
<circle cx="635.5" cy="358.9" r="0.5" fill="#8c8c45" stroke="#000" stroke-width="0.4"/>
<circle cx="649.9" cy="382.8" r="0.5" fill="#8c8c63" stroke="#000" stroke-width="0.4"/>
<circle cx="653.0" cy="390.2" r="0.5" fill="#8c8c69" stroke="#000" stroke-width="0.4"/>
<circle cx="624.7" cy="342.9" r="0.85" fill="#8c8c2e" stroke="#000" stroke-width="0.4"/>
<circle cx="638.8" cy="408.0" r="0.7" fill="#8c8c4b" stroke="#000" stroke-width="0.4"/>
<circle cx="654.9" cy="346.8" r="0.5" fill="#8c8c6c" stroke="#000" stroke-width="0.4"/>
<circle cx="667.6" cy="341.8" r="0.5" fill="#8c8c87" stroke="#000" stroke-width="0.4"/>
<circle cx="400.2" cy="393.1" r="1.50" fill="#060000" stroke="#000" stroke-width="0.5"/>
<circle cx="403.1" cy="401.1" r="1.50" fill="#0e0000" stroke="#000" stroke-width="0.5"/>
<circle cx="410.1" cy="404.4" r="2.50" fill="#1f0000" stroke="#000" stroke-width="0.5"/>
<circle cx="409.7" cy="406.3" r="2.00" fill="#1e0000" stroke="#000" stroke-width="0.5"/>
<circle cx="413" cy="411" r="2.00" fill="#260000" stroke="#000" stroke-width="0.5"/>
<circle cx="409.2" cy="395.5" r="1.50" fill="#1d0000" stroke="#000" stroke-width="0.5"/>
<circle cx="412.5" cy="392.6" r="1.50" fill="#250000" stroke="#000" stroke-width="0.5"/>
<circle cx="414.8" cy="402" r="2.00" fill="#2b0000" stroke="#000" stroke-width="0.5"/>
<circle cx="415.8" cy="398.3" r="1.50" fill="#2d0000" stroke="#000" stroke-width="0.5"/>
<circle cx="421" cy="380.4" r="2.50" fill="#3a0000" stroke="#000" stroke-width="0.5"/>
<circle cx="424.3" cy="374.7" r="2.50" fill="#430000" stroke="#000" stroke-width="0.5"/>
<circle cx="426.2" cy="374.2" r="2.00" fill="#470000" stroke="#000" stroke-width="0.5"/>
<circle cx="431.8" cy="379" r="2.00" fill="#550000" stroke="#000" stroke-width="0.5"/>
<circle cx="431.8" cy="382.3" r="1.50" fill="#550000" stroke="#000" stroke-width="0.5"/>
<circle cx="413.5" cy="387.9" r="1.50" fill="#280000" stroke="#000" stroke-width="0.5"/>
<circle cx="415.8" cy="387.9" r="1.50" fill="#2d0000" stroke="#000" stroke-width="0.5"/>
<circle cx="423.4" cy="390.2" r="2.00" fill="#400000" stroke="#000" stroke-width="0.5"/>
<circle cx="422.4" cy="393.6" r="2.00" fill="#3e0000" stroke="#000" stroke-width="0.5"/>
<circle cx="424.3" cy="395.5" r="2.00" fill="#430000" stroke="#000" stroke-width="0.5"/>
<circle cx="421.9" cy="402" r="2.00" fill="#3d0000" stroke="#000" stroke-width="0.5"/>
<circle cx="427.1" cy="400.2" r="2.00" fill="#4a0000" stroke="#000" stroke-width="0.5"/>
<circle cx="429" cy="398.3" r="1.50" fill="#4e0000" stroke="#000" stroke-width="0.5"/>
<circle cx="431.8" cy="387" r="1.50" fill="#550000" stroke="#000" stroke-width="0.5"/>
<circle cx="433.3" cy="397.8" r="1.50" fill="#590000" stroke="#000" stroke-width="0.5"/>
<circle cx="425.7" cy="390.2" r="1.50" fill="#460000" stroke="#000" stroke-width="0.5"/>
<circle cx="426.7" cy="384.2" r="1.50" fill="#490000" stroke="#000" stroke-width="0.5"/>
<circle cx="426.2" cy="392.6" r="1.50" fill="#470000" stroke="#000" stroke-width="0.5"/>
<circle cx="420.5" cy="385" r="0.8" fill="#390000" stroke="#000" stroke-width="0.45" opacity="0.85"/>
<circle cx="410.6" cy="374.7" r="0.8" fill="#200000" stroke="#000" stroke-width="0.45" opacity="0.85"/>
<circle cx="412.5" cy="384.6" r="0.8" fill="#250000" stroke="#000" stroke-width="0.45" opacity="0.85"/>
<circle cx="407.8" cy="392.6" r="0.8" fill="#190000" stroke="#000" stroke-width="0.45" opacity="0.85"/>
<circle cx="415.3" cy="407.3" r="0.8" fill="#2c0000" stroke="#000" stroke-width="0.45" opacity="0.85"/>
<circle cx="407.3" cy="412.9" r="0.8" fill="#180000" stroke="#000" stroke-width="0.45" opacity="0.85"/>
<circle cx="420.5" cy="406.3" r="0.8" fill="#390000" stroke="#000" stroke-width="0.45" opacity="0.85"/>
<circle cx="424.3" cy="405.8" r="0.8" fill="#430000" stroke="#000" stroke-width="0.45" opacity="0.85"/>
<circle cx="405.4" cy="382.3" r="0.55" fill="#555" opacity="0.6"/>
<circle cx="445.8" cy="363.5" r="2.00" fill="#780000" stroke="#000" stroke-width="0.5"/>
<circle cx="452.9" cy="356.4" r="1.50" fill="#8a0000" stroke="#000" stroke-width="0.5"/>
<circle cx="457.3" cy="358.2" r="1.50" fill="#950000" stroke="#000" stroke-width="0.5"/>
<circle cx="461.7" cy="362.6" r="1.50" fill="#a00000" stroke="#000" stroke-width="0.5"/>
<circle cx="467" cy="362.6" r="1.50" fill="#ad0000" stroke="#000" stroke-width="0.5"/>
<circle cx="472.3" cy="350.2" r="1.50" fill="#ba0000" stroke="#000" stroke-width="0.5"/>
<circle cx="473.1" cy="356.4" r="1.50" fill="#bc0000" stroke="#000" stroke-width="0.5"/>
<circle cx="451.1" cy="344.1" r="0.8" fill="#860000" stroke="#000" stroke-width="0.45" opacity="0.85"/>
<circle cx="447.6" cy="349.4" r="0.8" fill="#7d0000" stroke="#000" stroke-width="0.45" opacity="0.85"/>
<circle cx="442.3" cy="376.7" r="1.50" fill="#700000" stroke="#000" stroke-width="0.5"/>
<circle cx="446.7" cy="380.2" r="2.00" fill="#7b0000" stroke="#000" stroke-width="0.5"/>
<circle cx="451.1" cy="376.7" r="2.00" fill="#860000" stroke="#000" stroke-width="0.5"/>
<circle cx="452.9" cy="377.5" r="1.50" fill="#8a0000" stroke="#000" stroke-width="0.5"/>
<circle cx="468.7" cy="373.1" r="1.50" fill="#b10000" stroke="#000" stroke-width="0.5"/>
<circle cx="462.6" cy="381.1" r="0.8" fill="#a20000" stroke="#000" stroke-width="0.45" opacity="0.85"/>
<circle cx="465.2" cy="382.8" r="1.50" fill="#a90000" stroke="#000" stroke-width="0.5"/>
<circle cx="472.3" cy="380.2" r="0.8" fill="#ba0000" stroke="#000" stroke-width="0.45" opacity="0.85"/>
<circle cx="461.7" cy="386.3" r="0.8" fill="#a00000" stroke="#000" stroke-width="0.45" opacity="0.85"/>
<circle cx="474.9" cy="384.6" r="0.8" fill="#c10000" stroke="#000" stroke-width="0.45" opacity="0.85"/>
<circle cx="431.8" cy="381.1" r="2.00" fill="#550000" stroke="#000" stroke-width="0.5"/>
<circle cx="431.8" cy="388.1" r="2.00" fill="#550000" stroke="#000" stroke-width="0.5"/>
<circle cx="438.8" cy="387.2" r="0.8" fill="#670000" stroke="#000" stroke-width="0.45" opacity="0.85"/>
<circle cx="443.2" cy="386.3" r="0.8" fill="#720000" stroke="#000" stroke-width="0.45" opacity="0.85"/>
<circle cx="442.3" cy="391.6" r="0.8" fill="#700000" stroke="#000" stroke-width="0.45" opacity="0.85"/>
<circle cx="445.8" cy="393.4" r="0.8" fill="#780000" stroke="#000" stroke-width="0.45" opacity="0.85"/>
<circle cx="450.2" cy="396.9" r="2.00" fill="#830000" stroke="#000" stroke-width="0.5"/>
<circle cx="460.8" cy="390.7" r="2.00" fill="#9e0000" stroke="#000" stroke-width="0.5"/>
<circle cx="461.7" cy="394.3" r="1.50" fill="#a00000" stroke="#000" stroke-width="0.5"/>
<circle cx="466.1" cy="396.9" r="0.8" fill="#ab0000" stroke="#000" stroke-width="0.45" opacity="0.85"/>
<circle cx="472.3" cy="394.3" r="1.50" fill="#ba0000" stroke="#000" stroke-width="0.5"/>
<circle cx="472.3" cy="396.9" r="1.50" fill="#ba0000" stroke="#000" stroke-width="0.5"/>
<circle cx="432.6" cy="398.7" r="1.50" fill="#570000" stroke="#000" stroke-width="0.5"/>
<circle cx="437.9" cy="398.7" r="1.50" fill="#650000" stroke="#000" stroke-width="0.5"/>
<circle cx="441.4" cy="403.1" r="1.50" fill="#6d0000" stroke="#000" stroke-width="0.5"/>
<circle cx="438.8" cy="405.7" r="0.8" fill="#670000" stroke="#000" stroke-width="0.45" opacity="0.85"/>
<circle cx="465.2" cy="402.2" r="0.8" fill="#a90000" stroke="#000" stroke-width="0.45" opacity="0.85"/>
<circle cx="477.5" cy="403.9" r="0.8" fill="#c70000" stroke="#000" stroke-width="0.45" opacity="0.85"/>
<circle cx="477.5" cy="389.9" r="0.8" fill="#c70000" stroke="#000" stroke-width="0.45" opacity="0.85"/>
<circle cx="476.7" cy="347.6" r="0.8" fill="#c50000" stroke="#000" stroke-width="0.45" opacity="0.85"/>
<circle cx="451.1" cy="367" r="0.8" fill="#860000" stroke="#000" stroke-width="0.45" opacity="0.85"/>
<circle cx="454.6" cy="367" r="0.8" fill="#8e0000" stroke="#000" stroke-width="0.45" opacity="0.85"/>
<circle cx="494.6" cy="360.2" r="2.50" fill="#f20000" stroke="#000" stroke-width="0.5"/>
<circle cx="504.4" cy="345.5" r="2.00" fill="#ff0c00" stroke="#000" stroke-width="0.5"/>
<circle cx="507.4" cy="351.4" r="2.00" fill="#ff1300" stroke="#000" stroke-width="0.5"/>
<circle cx="499.5" cy="346.5" r="1.50" fill="#fe0000" stroke="#000" stroke-width="0.5"/>
<circle cx="508.3" cy="343.5" r="1.50" fill="#ff1500" stroke="#000" stroke-width="0.5"/>
<circle cx="504.4" cy="361.2" r="1.50" fill="#ff0c00" stroke="#000" stroke-width="0.5"/>
<circle cx="516.2" cy="364.1" r="2.00" fill="#ff2900" stroke="#000" stroke-width="0.5"/>
<circle cx="515.2" cy="350.4" r="1.50" fill="#ff2700" stroke="#000" stroke-width="0.5"/>
<circle cx="523" cy="350.4" r="1.50" fill="#ff3a00" stroke="#000" stroke-width="0.5"/>
<circle cx="500.5" cy="375.9" r="2.00" fill="#ff0200" stroke="#000" stroke-width="0.5"/>
<circle cx="491.7" cy="378.8" r="2.00" fill="#eb0000" stroke="#000" stroke-width="0.5"/>
<circle cx="487.7" cy="375.9" r="1.50" fill="#e10000" stroke="#000" stroke-width="0.5"/>
<circle cx="510.3" cy="401.4" r="2.00" fill="#ff1a00" stroke="#000" stroke-width="0.5"/>
<circle cx="494.6" cy="398.4" r="0.8" fill="#f20000" stroke="#000" stroke-width="0.45" opacity="0.85"/>
<circle cx="505.4" cy="369" r="0.8" fill="#ff0e00" stroke="#000" stroke-width="0.45" opacity="0.85"/>
<circle cx="506.4" cy="377.8" r="0.8" fill="#ff1100" stroke="#000" stroke-width="0.45" opacity="0.85"/>
<circle cx="527.9" cy="379.8" r="0.8" fill="#ff4600" stroke="#000" stroke-width="0.45" opacity="0.85"/>
<circle cx="527.9" cy="382.7" r="0.8" fill="#ff4600" stroke="#000" stroke-width="0.45" opacity="0.85"/>
<circle cx="527.9" cy="386.7" r="0.8" fill="#ff4600" stroke="#000" stroke-width="0.45" opacity="0.85"/>
<circle cx="482.8" cy="366.1" r="0.8" fill="#d50000" stroke="#000" stroke-width="0.45" opacity="0.85"/>
<circle cx="478.9" cy="355.3" r="0.8" fill="#cb0000" stroke="#000" stroke-width="0.45" opacity="0.85"/>
<circle cx="486.8" cy="357.3" r="0.8" fill="#df0000" stroke="#000" stroke-width="0.45" opacity="0.85"/>
<circle cx="489.7" cy="361.2" r="0.8" fill="#e60000" stroke="#000" stroke-width="0.45" opacity="0.85"/>
<circle cx="483.8" cy="352.4" r="0.8" fill="#d70000" stroke="#000" stroke-width="0.45" opacity="0.85"/>
<circle cx="494.6" cy="342.5" r="0.8" fill="#f20000" stroke="#000" stroke-width="0.45" opacity="0.85"/>
<circle cx="495.6" cy="337.6" r="0.8" fill="#f50000" stroke="#000" stroke-width="0.45" opacity="0.85"/>
<circle cx="529.9" cy="353.3" r="0.8" fill="#ff4b00" stroke="#000" stroke-width="0.45" opacity="0.85"/>
<circle cx="542.6" cy="356.3" r="0.8" fill="#ff6b00" stroke="#000" stroke-width="0.45" opacity="0.85"/>
<circle cx="541.7" cy="376.9" r="0.8" fill="#ff6900" stroke="#000" stroke-width="0.45" opacity="0.85"/>
<circle cx="542.6" cy="340.6" r="0.8" fill="#ff6b00" stroke="#000" stroke-width="0.45" opacity="0.85"/>
<circle cx="541.7" cy="349.4" r="0.8" fill="#ff6900" stroke="#000" stroke-width="0.45" opacity="0.85"/>
<circle cx="533.8" cy="334.7" r="0.8" fill="#ff5500" stroke="#000" stroke-width="0.45" opacity="0.85"/>
<circle cx="486.8" cy="392.5" r="0.8" fill="#df0000" stroke="#000" stroke-width="0.45" opacity="0.85"/>
<circle cx="478.9" cy="389.6" r="0.8" fill="#cb0000" stroke="#000" stroke-width="0.45" opacity="0.85"/>
<circle cx="509.3" cy="388.6" r="0.8" fill="#ff1800" stroke="#000" stroke-width="0.45" opacity="0.85"/>
<circle cx="520.1" cy="376.9" r="0.8" fill="#ff3300" stroke="#000" stroke-width="0.45" opacity="0.85"/>
<circle cx="526" cy="372.9" r="0.8" fill="#ff4200" stroke="#000" stroke-width="0.45" opacity="0.85"/>
<circle cx="518.1" cy="358.2" r="0.8" fill="#ff2e00" stroke="#000" stroke-width="0.45" opacity="0.85"/>
<circle cx="531.9" cy="402.4" r="0.8" fill="#ff5000" stroke="#000" stroke-width="0.45" opacity="0.85"/>
<circle cx="520.1" cy="389.6" r="0.8" fill="#ff3300" stroke="#000" stroke-width="0.45" opacity="0.85"/>
<circle cx="565.5" cy="349.4" r="2.00" fill="#ffa400" stroke="#000" stroke-width="0.5"/>
<circle cx="563.5" cy="355.3" r="2.00" fill="#ff9f00" stroke="#000" stroke-width="0.5"/>
<circle cx="561.6" cy="357.3" r="0.8" fill="#ff9a00" stroke="#000" stroke-width="0.45" opacity="0.85"/>
<circle cx="559.6" cy="368" r="2.00" fill="#ff9500" stroke="#000" stroke-width="0.5"/>
<circle cx="546.9" cy="377.8" r="2.00" fill="#ff7600" stroke="#000" stroke-width="0.5"/>
<circle cx="546.9" cy="388.6" r="2.00" fill="#ff7600" stroke="#000" stroke-width="0.5"/>
<circle cx="545.9" cy="395.5" r="2.50" fill="#ff7300" stroke="#000" stroke-width="0.5"/>
<circle cx="557.6" cy="397.5" r="2.50" fill="#ff9000" stroke="#000" stroke-width="0.5"/>
<circle cx="557.6" cy="405.3" r="2.50" fill="#ff9000" stroke="#000" stroke-width="0.5"/>
<circle cx="551.8" cy="378.8" r="1.50" fill="#ff8200" stroke="#000" stroke-width="0.5"/>
<circle cx="552.7" cy="377.8" r="0.8" fill="#ff8400" stroke="#000" stroke-width="0.45" opacity="0.85"/>
<circle cx="550.8" cy="381.8" r="1.50" fill="#ff7f00" stroke="#000" stroke-width="0.5"/>
<circle cx="550.8" cy="391.6" r="1.50" fill="#ff7f00" stroke="#000" stroke-width="0.5"/>
<circle cx="552.7" cy="394.5" r="1.50" fill="#ff8400" stroke="#000" stroke-width="0.5"/>
<circle cx="556.7" cy="389.6" r="0.8" fill="#ff8e00" stroke="#000" stroke-width="0.45" opacity="0.85"/>
<circle cx="556.7" cy="393.5" r="0.8" fill="#ff8e00" stroke="#000" stroke-width="0.45" opacity="0.85"/>
<circle cx="548.8" cy="400.4" r="0.8" fill="#ff7a00" stroke="#000" stroke-width="0.45" opacity="0.85"/>
<circle cx="548.8" cy="405.3" r="0.8" fill="#ff7a00" stroke="#000" stroke-width="0.45" opacity="0.85"/>
<circle cx="541" cy="376.9" r="1.50" fill="#ff6700" stroke="#000" stroke-width="0.5"/>
<circle cx="546.9" cy="363.1" r="1.50" fill="#ff7600" stroke="#000" stroke-width="0.5"/>
<circle cx="542.9" cy="356.3" r="0.8" fill="#ff6c00" stroke="#000" stroke-width="0.45" opacity="0.85"/>
<circle cx="542.9" cy="349.4" r="0.8" fill="#ff6c00" stroke="#000" stroke-width="0.45" opacity="0.85"/>
<circle cx="542.9" cy="340.6" r="0.8" fill="#ff6c00" stroke="#000" stroke-width="0.45" opacity="0.85"/>
<circle cx="545.9" cy="344.5" r="0.8" fill="#ff7300" stroke="#000" stroke-width="0.45" opacity="0.85"/>
<circle cx="553.7" cy="346.5" r="0.8" fill="#ff8700" stroke="#000" stroke-width="0.45" opacity="0.85"/>
<circle cx="569.4" cy="377.8" r="0.8" fill="#ffae00" stroke="#000" stroke-width="0.45" opacity="0.85"/>
<circle cx="570.4" cy="345.5" r="0.8" fill="#ffb000" stroke="#000" stroke-width="0.45" opacity="0.85"/>
<circle cx="569.4" cy="322.9" r="0.8" fill="#ffae00" stroke="#000" stroke-width="0.45" opacity="0.85"/>
<circle cx="602.7" cy="376.9" r="1.00" fill="#ffff03" stroke="#000" stroke-width="0.5"/>
<circle cx="600.8" cy="372" r="0.8" fill="#fffc00" stroke="#000" stroke-width="0.45" opacity="0.85"/>
<circle cx="581.2" cy="355.3" r="0.55" fill="#555" opacity="0.6"/>
<circle cx="577.3" cy="359.2" r="0.55" fill="#555" opacity="0.6"/>
<circle cx="568.4" cy="366.1" r="0.8" fill="#ffab00" stroke="#000" stroke-width="0.45" opacity="0.85"/>
<circle cx="558.6" cy="372.9" r="0.8" fill="#ff9300" stroke="#000" stroke-width="0.45" opacity="0.85"/>
<circle cx="583.1" cy="377.8" r="0.55" fill="#555" opacity="0.6"/>
<circle cx="587.1" cy="363.1" r="0.55" fill="#555" opacity="0.6"/>
<circle cx="590" cy="368" r="0.55" fill="#555" opacity="0.6"/>
<circle cx="581.2" cy="388.6" r="0.55" fill="#555" opacity="0.6"/>
<circle cx="586.1" cy="396.5" r="0.55" fill="#555" opacity="0.6"/>
<circle cx="602.2" cy="377.2" r="1.50" fill="#ffff01" stroke="#000" stroke-width="0.5"/>
<circle cx="616.3" cy="391.9" r="1.50" fill="#ffff36" stroke="#000" stroke-width="0.5"/>
<circle cx="616.3" cy="394.1" r="1.00" fill="#ffff36" stroke="#000" stroke-width="0.5"/>
<circle cx="620.6" cy="393.4" r="0.8" fill="#ffff46" stroke="#000" stroke-width="0.45" opacity="0.85"/>
<circle cx="619.5" cy="352.9" r="0.8" fill="#ffff42" stroke="#000" stroke-width="0.45" opacity="0.85"/>
<circle cx="613" cy="346.4" r="0.55" fill="#555" opacity="0.6"/>
<circle cx="607.6" cy="351.2" r="0.55" fill="#555" opacity="0.6"/>
<circle cx="630.3" cy="361.6" r="0.55" fill="#555" opacity="0.6"/>
<circle cx="638.6" cy="353.3" r="0.55" fill="#555" opacity="0.6"/>
<circle cx="639.7" cy="360.5" r="0.8" fill="#ffff8e" stroke="#000" stroke-width="0.45" opacity="0.85"/>
<circle cx="645.9" cy="342.9" r="0.8" fill="#ffffa5" stroke="#000" stroke-width="0.45" opacity="0.85"/>
<circle cx="652" cy="343.6" r="0.55" fill="#555" opacity="0.6"/>
<circle cx="644.4" cy="374.6" r="0.8" fill="#ffff9f" stroke="#000" stroke-width="0.45" opacity="0.85"/>
<circle cx="644.4" cy="384.8" r="0.8" fill="#ffff9f" stroke="#000" stroke-width="0.45" opacity="0.85"/>
<circle cx="645.1" cy="386.9" r="0.8" fill="#ffffa2" stroke="#000" stroke-width="0.45" opacity="0.85"/>
<circle cx="650.9" cy="375" r="0.55" fill="#555" opacity="0.6"/>
<circle cx="655.9" cy="370.3" r="0.8" fill="#ffffca" stroke="#000" stroke-width="0.45" opacity="0.85"/>
<circle cx="653.1" cy="385.9" r="0.55" fill="#555" opacity="0.6"/>
<circle cx="661.8" cy="385.9" r="0.55" fill="#555" opacity="0.6"/>
<circle cx="664.6" cy="378.9" r="0.55" fill="#555" opacity="0.6"/>
<circle cx="665" cy="394.1" r="0.8" fill="#ffffec" stroke="#000" stroke-width="0.45" opacity="0.85"/>
<circle cx="635.8" cy="402.1" r="0.55" fill="#555" opacity="0.6"/>
<circle cx="660.3" cy="334.3" r="0.55" fill="#555" opacity="0.6"/>
<circle cx="669.4" cy="331.7" r="0.55" fill="#555" opacity="0.6"/>
<circle cx="601.1" cy="371.8" r="0.8" fill="#fffd00" stroke="#000" stroke-width="0.45" opacity="0.85"/>
<circle cx="610.4" cy="398.9" r="0.55" fill="#555" opacity="0.6"/>
<circle cx="621.7" cy="365.3" r="0.55" fill="#555" opacity="0.6"/>
<circle cx="577.9" cy="311.5" r="0.8" fill="#ffc300" stroke="#000" stroke-width="0.45" opacity="0.85"/>
<circle cx="569.7" cy="322.7" r="0.8" fill="#ffaf00" stroke="#000" stroke-width="0.45" opacity="0.85"/>
<circle cx="561.5" cy="333.2" r="0.55" fill="#555" opacity="0.6"/>
<circle cx="534.6" cy="333.2" r="0.8" fill="#ff5700" stroke="#000" stroke-width="0.45" opacity="0.85"/>
<circle cx="541.6" cy="332" r="0.55" fill="#555" opacity="0.6"/>
<circle cx="542.8" cy="340.9" r="1.00" fill="#ff6b00" stroke="#000" stroke-width="0.5"/>
<circle cx="546.3" cy="342.6" r="1.00" fill="#ff7400" stroke="#000" stroke-width="0.5"/>
<circle cx="507.8" cy="342.6" r="1.00" fill="#ff1400" stroke="#000" stroke-width="0.5"/>
<circle cx="496.1" cy="336.7" r="0.8" fill="#f60000" stroke="#000" stroke-width="0.45" opacity="0.85"/>
<circle cx="494.9" cy="342.6" r="0.8" fill="#f30000" stroke="#000" stroke-width="0.45" opacity="0.85"/>
<circle cx="517.1" cy="340.2" r="0.55" fill="#555" opacity="0.6"/>
<circle cx="451.7" cy="342.6" r="0.8" fill="#870000" stroke="#000" stroke-width="0.45" opacity="0.85"/>
<circle cx="423.1" cy="366" r="1.50" fill="#400000" stroke="#000" stroke-width="0.5"/>
<circle cx="417" cy="370.2" r="1.25" fill="#300000" stroke="#000" stroke-width="0.5"/>
<circle cx="424.3" cy="374.5" r="2.00" fill="#430000" stroke="#000" stroke-width="0.5"/>
<circle cx="426.8" cy="373.9" r="1.50" fill="#490000" stroke="#000" stroke-width="0.5"/>
<circle cx="430.5" cy="361.7" r="0.8" fill="#520000" stroke="#000" stroke-width="0.45" opacity="0.85"/>
<circle cx="429.9" cy="357.4" r="0.55" fill="#555" opacity="0.6"/>
<circle cx="445.2" cy="363.5" r="2.00" fill="#770000" stroke="#000" stroke-width="0.5"/>
<circle cx="446.4" cy="349.4" r="0.8" fill="#7a0000" stroke="#000" stroke-width="0.45" opacity="0.85"/>
<circle cx="433.5" cy="375.8" r="1.50" fill="#5a0000" stroke="#000" stroke-width="0.5"/>
<circle cx="440.9" cy="375.8" r="1.50" fill="#6c0000" stroke="#000" stroke-width="0.5"/>
<circle cx="444.6" cy="370.2" r="0.8" fill="#750000" stroke="#000" stroke-width="0.45" opacity="0.85"/>
<circle cx="411.5" cy="374.5" r="0.55" fill="#555" opacity="0.6"/>
<line x1="399.8" y1="415.3" x2="511.7" y2="277.3" stroke="#ffb7c3" stroke-width="4.5"/>
<polyline points="397.60,414.30 397.61,413.59 397.63,412.89 397.66,412.18 397.71,411.47 397.77,410.77 397.85,410.06 397.93,409.36 398.04,408.65 398.15,407.94 398.28,407.24 398.42,406.53 398.58,405.82 398.75,405.12 398.93,404.41 399.13,403.70 399.34,403.00 399.57,402.29 399.81,401.59 400.06,400.88 400.32,400.17 400.60,399.47 400.90,398.76 401.20,398.05 401.52,397.35 401.86,396.64 402.20,395.94 402.56,395.23 402.94,394.52 403.33,393.82 403.73,393.11 404.14,392.40 404.57,391.70 405.02,390.99 405.47,390.28 405.94,389.58 406.43,388.87 406.92,388.17 407.43,387.46 407.96,386.75 408.50,386.05 409.05,385.34 409.61,384.63 410.19,383.93 410.78,383.22 411.39,382.51 412.01,381.81 412.64,381.10 413.29,380.40 413.95,379.69 414.62,378.98 415.31,378.28 416.01,377.57 416.73,376.86 417.46,376.16 418.20,375.45 418.96,374.75 419.73,374.04 420.51,373.33 421.31,372.63 422.12,371.92 422.94,371.21 423.78,370.51 424.63,369.80 425.49,369.09 426.37,368.39 427.26,367.68 428.17,366.98 429.09,366.27 430.02,365.56 430.97,364.86 431.93,364.15 432.90,363.44 433.89,362.74 434.89,362.03 435.91,361.32 436.93,360.62 437.98,359.91 439.03,359.21 440.10,358.50 441.18,357.79 442.28,357.09 443.39,356.38 444.51,355.67 445.65,354.97 446.80,354.26 447.97,353.56 449.14,352.85 450.34,352.14 451.54,351.44 452.76,350.73 453.99,350.02 455.24,349.32 456.50,348.61 457.77,347.90 459.06,347.20 460.36,346.49 461.68,345.79 463.00,345.08 464.34,344.37 465.70,343.67 467.07,342.96 468.45,342.25 469.85,341.55 471.26,340.84 472.68,340.13 474.12,339.43 475.57,338.72 477.03,338.02 478.51,337.31 480.00,336.60 481.51,335.90 483.02,335.19 484.56,334.48 486.10,333.78 487.66,333.07 489.24,332.37 490.82,331.66 492.42,330.95 494.04,330.25 495.66,329.54 497.31,328.83 498.96,328.13 500.63,327.42 502.31,326.71 504.01,326.01 505.72,325.30 507.44,324.60 509.18,323.89 510.93,323.18 512.69,322.48 514.47,321.77 516.26,321.06 518.06,320.36 519.88,319.65 521.71,318.94 523.56,318.24 525.42,317.53 527.29,316.83 529.18,316.12 531.08,315.41 532.99,314.71 534.92,314.00 536.86,313.29 538.81,312.59 540.78,311.88 542.76,311.18 544.76,310.47 546.77,309.76 548.79,309.06 550.83,308.35 552.87,307.64 554.94,306.94 557.02,306.23 559.11,305.52 561.21,304.82 563.33,304.11 565.46,303.41 567.60,302.70 569.76,301.99 571.94,301.29 574.12,300.58 576.32,299.87 578.53,299.17 580.76,298.46 583.00,297.75 585.26,297.05 587.52,296.34 589.81,295.64 592.10,294.93 594.41,294.22 596.73,293.52 599.07,292.81 601.42,292.10 603.78,291.40 606.16,290.69 608.55,289.98 610.95,289.28 613.37,288.57 615.80,287.87 618.24,287.16 620.70,286.45 623.17,285.75 625.66,285.04 628.16,284.33 630.67,283.63 633.20,282.92 635.74,282.22 638.29,281.51 640.86,280.80 643.44,280.10 646.04,279.39 648.64,278.68 651.27,277.98 653.90,277.27 656.55,276.56 659.21,275.86 661.89,275.15 664.58,274.45 667.28,273.74 670.00,273.03" fill="none" stroke="#00fa0a" stroke-width="4.3"/>
</g>
<line x1="397.6" y1="278.00" x2="397.6" y2="415.30" stroke="#000" stroke-width="1.6"/>
<line x1="396.6" y1="414.3" x2="670.60" y2="414.3" stroke="#000" stroke-width="1.8"/>
<line x1="393.6" y1="414.30" x2="397.6" y2="414.30" stroke="#666" stroke-width="0.8"/>
<line x1="395.6" y1="410.41" x2="397.6" y2="410.41" stroke="#000" stroke-width="0.8"/>
<line x1="395.6" y1="406.51" x2="397.6" y2="406.51" stroke="#000" stroke-width="0.8"/>
<line x1="395.6" y1="402.62" x2="397.6" y2="402.62" stroke="#000" stroke-width="0.8"/>
<line x1="395.6" y1="398.72" x2="397.6" y2="398.72" stroke="#000" stroke-width="0.8"/>
<line x1="393.6" y1="394.83" x2="397.6" y2="394.83" stroke="#666" stroke-width="0.8"/>
<line x1="395.6" y1="390.93" x2="397.6" y2="390.93" stroke="#000" stroke-width="0.8"/>
<line x1="395.6" y1="387.04" x2="397.6" y2="387.04" stroke="#000" stroke-width="0.8"/>
<line x1="395.6" y1="383.15" x2="397.6" y2="383.15" stroke="#000" stroke-width="0.8"/>
<line x1="395.6" y1="379.25" x2="397.6" y2="379.25" stroke="#000" stroke-width="0.8"/>
<line x1="393.6" y1="375.36" x2="397.6" y2="375.36" stroke="#666" stroke-width="0.8"/>
<line x1="395.6" y1="371.46" x2="397.6" y2="371.46" stroke="#000" stroke-width="0.8"/>
<line x1="395.6" y1="367.57" x2="397.6" y2="367.57" stroke="#000" stroke-width="0.8"/>
<line x1="395.6" y1="363.67" x2="397.6" y2="363.67" stroke="#000" stroke-width="0.8"/>
<line x1="395.6" y1="359.78" x2="397.6" y2="359.78" stroke="#000" stroke-width="0.8"/>
<line x1="393.6" y1="355.89" x2="397.6" y2="355.89" stroke="#666" stroke-width="0.8"/>
<line x1="395.6" y1="351.99" x2="397.6" y2="351.99" stroke="#000" stroke-width="0.8"/>
<line x1="395.6" y1="348.10" x2="397.6" y2="348.10" stroke="#000" stroke-width="0.8"/>
<line x1="395.6" y1="344.20" x2="397.6" y2="344.20" stroke="#000" stroke-width="0.8"/>
<line x1="395.6" y1="340.31" x2="397.6" y2="340.31" stroke="#000" stroke-width="0.8"/>
<line x1="393.6" y1="336.41" x2="397.6" y2="336.41" stroke="#666" stroke-width="0.8"/>
<line x1="395.6" y1="332.52" x2="397.6" y2="332.52" stroke="#000" stroke-width="0.8"/>
<line x1="395.6" y1="328.63" x2="397.6" y2="328.63" stroke="#000" stroke-width="0.8"/>
<line x1="395.6" y1="324.73" x2="397.6" y2="324.73" stroke="#000" stroke-width="0.8"/>
<line x1="395.6" y1="320.84" x2="397.6" y2="320.84" stroke="#000" stroke-width="0.8"/>
<line x1="393.6" y1="316.94" x2="397.6" y2="316.94" stroke="#666" stroke-width="0.8"/>
<line x1="395.6" y1="313.05" x2="397.6" y2="313.05" stroke="#000" stroke-width="0.8"/>
<line x1="395.6" y1="309.15" x2="397.6" y2="309.15" stroke="#000" stroke-width="0.8"/>
<line x1="395.6" y1="305.26" x2="397.6" y2="305.26" stroke="#000" stroke-width="0.8"/>
<line x1="395.6" y1="301.37" x2="397.6" y2="301.37" stroke="#000" stroke-width="0.8"/>
<line x1="393.6" y1="297.47" x2="397.6" y2="297.47" stroke="#666" stroke-width="0.8"/>
<line x1="395.6" y1="293.58" x2="397.6" y2="293.58" stroke="#000" stroke-width="0.8"/>
<line x1="395.6" y1="289.68" x2="397.6" y2="289.68" stroke="#000" stroke-width="0.8"/>
<line x1="395.6" y1="285.79" x2="397.6" y2="285.79" stroke="#000" stroke-width="0.8"/>
<line x1="395.6" y1="281.89" x2="397.6" y2="281.89" stroke="#000" stroke-width="0.8"/>
<line x1="393.6" y1="278.00" x2="397.6" y2="278.00" stroke="#666" stroke-width="0.8"/>
<line x1="397.60" y1="414.3" x2="397.60" y2="418.20" stroke="#555" stroke-width="0.8"/>
<line x1="424.84" y1="414.3" x2="424.84" y2="417.20" stroke="#555" stroke-width="0.8"/>
<line x1="452.08" y1="414.3" x2="452.08" y2="417.20" stroke="#555" stroke-width="0.8"/>
<line x1="479.32" y1="414.3" x2="479.32" y2="417.20" stroke="#555" stroke-width="0.8"/>
<line x1="506.56" y1="414.3" x2="506.56" y2="417.20" stroke="#555" stroke-width="0.8"/>
<line x1="533.80" y1="414.3" x2="533.80" y2="418.20" stroke="#555" stroke-width="0.8"/>
<line x1="561.04" y1="414.3" x2="561.04" y2="417.20" stroke="#555" stroke-width="0.8"/>
<line x1="588.28" y1="414.3" x2="588.28" y2="417.20" stroke="#555" stroke-width="0.8"/>
<line x1="615.52" y1="414.3" x2="615.52" y2="417.20" stroke="#555" stroke-width="0.8"/>
<line x1="642.76" y1="414.3" x2="642.76" y2="417.20" stroke="#555" stroke-width="0.8"/>
<line x1="670.00" y1="414.3" x2="670.00" y2="418.20" stroke="#555" stroke-width="0.8"/>
<text transform="translate(380.19,417.60) scale(0.0786,0.0958)" font-size="100" fill="#1e1e1e">0.0</text>
<text transform="translate(380.19,398.13) scale(0.0786,0.0958)" font-size="100" fill="#1e1e1e">0.5</text>
<text transform="translate(379.85,378.66) scale(0.0811,0.0958)" font-size="100" fill="#1e1e1e">1.0</text>
<text transform="translate(379.85,359.19) scale(0.0811,0.0971)" font-size="100" fill="#1e1e1e">1.5</text>
<text transform="translate(380.10,339.72) scale(0.0792,0.0958)" font-size="100" fill="#1e1e1e">2.0</text>
<text transform="translate(380.10,320.25) scale(0.0792,0.0958)" font-size="100" fill="#1e1e1e">2.5</text>
<text transform="translate(380.19,300.78) scale(0.0786,0.0958)" font-size="100" fill="#1e1e1e">3.0</text>
<text transform="translate(380.19,281.30) scale(0.0786,0.0958)" font-size="100" fill="#1e1e1e">3.5</text>
<text transform="translate(391.98,425.81) scale(0.0794,0.0901)" font-size="100" fill="#1e1e1e">0.0</text>
<text transform="translate(528.18,425.81) scale(0.0794,0.0901)" font-size="100" fill="#1e1e1e">0.5</text>
<text transform="translate(664.04,425.81) scale(0.0819,0.0901)" font-size="100" fill="#1e1e1e">1.0</text>
<text transform="translate(507.76,439.00) scale(0.1179,0.1191)" font-size="100" fill="#1e1e1e">time[days]</text>
<text transform="translate(383.30,438.46) scale(0.0993,0.1021)" font-size="100" fill="#1e1e1e">(11:51:58 May 15, 2015)</text>
<text transform="translate(375.26,380.86) rotate(-90) scale(0.1199,0.1160)" font-size="100" fill="#1e1e1e">Distance[km]</text>
<rect x="608.40" y="283.60" width="73.10" height="17.00" fill="#fff" stroke="#000" stroke-width="1.4"/>
<rect x="612.50" y="290.00" width="11.6" height="4" fill="#00fa0a"/>
<text transform="translate(628.12,294.70) scale(0.0845,0.0914)" font-size="100" fill="#1e1e1e">D=12.12 m</text>
<text transform="translate(669.35,290.60) scale(0.0500,0.0500)" font-size="100" fill="#1e1e1e">2</text>
<text transform="translate(672.30,295.01) scale(0.0878,0.0878)" font-size="100" fill="#1e1e1e">/s</text>
<rect x="424.8" y="451.95" width="217.60" height="8.80" fill="url(#hot)" stroke="#000" stroke-width="1.5"/>
<path d="M424.8,451.95 L419.80,456.35 L424.8,460.75 Z" fill="#000" stroke="#000" stroke-width="1.5" stroke-linejoin="miter"/>
<path d="M642.4,451.95 L646.80,456.35 L642.4,460.75 Z" fill="#fff" stroke="#000" stroke-width="1.5"/>
<line x1="642.4" y1="451.2" x2="642.4" y2="461.5" stroke="#000" stroke-width="1.8"/>
<line x1="424.80" y1="461.5" x2="424.80" y2="464.00" stroke="#666" stroke-width="0.8"/>
<line x1="446.56" y1="461.5" x2="446.56" y2="464.00" stroke="#666" stroke-width="0.8"/>
<line x1="468.32" y1="461.5" x2="468.32" y2="464.00" stroke="#666" stroke-width="0.8"/>
<line x1="490.08" y1="461.5" x2="490.08" y2="464.00" stroke="#666" stroke-width="0.8"/>
<line x1="511.84" y1="461.5" x2="511.84" y2="464.00" stroke="#666" stroke-width="0.8"/>
<line x1="533.60" y1="461.5" x2="533.60" y2="464.00" stroke="#666" stroke-width="0.8"/>
<line x1="555.36" y1="461.5" x2="555.36" y2="464.00" stroke="#666" stroke-width="0.8"/>
<line x1="577.12" y1="461.5" x2="577.12" y2="464.00" stroke="#666" stroke-width="0.8"/>
<line x1="598.88" y1="461.5" x2="598.88" y2="464.00" stroke="#666" stroke-width="0.8"/>
<line x1="620.64" y1="461.5" x2="620.64" y2="464.00" stroke="#666" stroke-width="0.8"/>
<line x1="642.40" y1="461.5" x2="642.40" y2="464.00" stroke="#666" stroke-width="0.8"/>
<text transform="translate(418.68,472.61) scale(0.0809,0.0887)" font-size="100" fill="#1e1e1e">0.0</text>
<text transform="translate(461.67,472.61) scale(0.0815,0.0887)" font-size="100" fill="#1e1e1e">0.2</text>
<text transform="translate(504.67,472.61) scale(0.0803,0.0887)" font-size="100" fill="#1e1e1e">0.4</text>
<text transform="translate(547.67,472.61) scale(0.0809,0.0887)" font-size="100" fill="#1e1e1e">0.6</text>
<text transform="translate(590.67,472.61) scale(0.0809,0.0887)" font-size="100" fill="#1e1e1e">0.8</text>
<text transform="translate(633.32,472.61) scale(0.0835,0.0887)" font-size="100" fill="#1e1e1e">1.0</text>
<text transform="translate(507.67,485.49) scale(0.1174,0.1053)" font-size="100" fill="#1e1e1e">time[days]</text>
</svg></body></html>
